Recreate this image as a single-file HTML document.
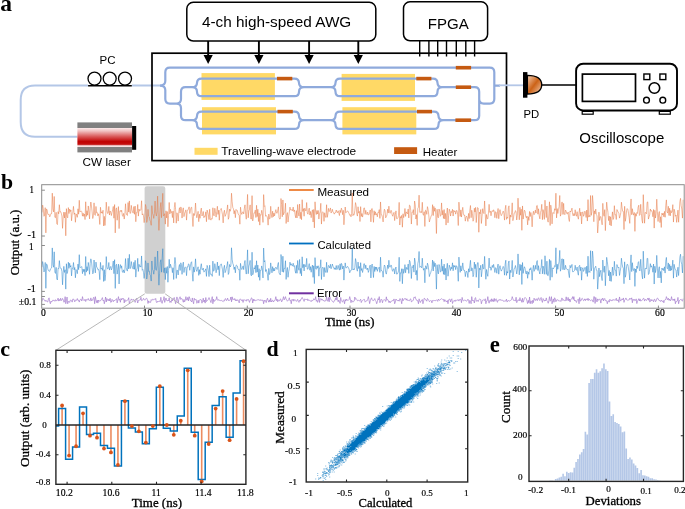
<!DOCTYPE html>
<html><head><meta charset="utf-8"><style>
html,body{margin:0;padding:0;background:#fff;}
svg{display:block;will-change:transform;}
</style></head><body>
<svg width="685" height="509" viewBox="0 0 685 509">
<rect width="685" height="509" fill="#fff"/>
<text x="0.3" y="10.8" font-family='"Liberation Serif", serif' font-size="23.5" font-weight="bold" text-anchor="start" fill="#000">a</text>
<path d="M77.4 136.8 H35 Q20.7 136.8 20.7 122 V100 Q20.7 85.6 35 85.6 H88 M132 85.6 H162" fill="none" stroke="#B4C7E7" stroke-width="2"/>
<text x="99.5" y="63.5" font-family='"Liberation Sans", sans-serif' font-size="11.3" font-weight="normal" text-anchor="start" fill="#000" textLength="16.0" lengthAdjust="spacingAndGlyphs">PC</text>
<circle cx="94.5" cy="78.6" r="6.5" fill="none" stroke="#000" stroke-width="1.3"/>
<circle cx="109.7" cy="78.6" r="6.5" fill="none" stroke="#000" stroke-width="1.3"/>
<circle cx="125.0" cy="78.6" r="6.5" fill="none" stroke="#000" stroke-width="1.3"/>
<line x1="88.1" y1="85.7" x2="131.8" y2="85.7" stroke="#000" stroke-width="1.4"/>
<defs><linearGradient id="lg" x1="0" y1="0" x2="0" y2="1"><stop offset="0" stop-color="#FBEAEA"/><stop offset="0.15" stop-color="#F2C4C4"/><stop offset="0.45" stop-color="#D95858"/><stop offset="0.72" stop-color="#C00000"/><stop offset="0.86" stop-color="#C41010"/><stop offset="0.93" stop-color="#F0D0D0"/><stop offset="1" stop-color="#FBEFEF"/></linearGradient><linearGradient id="pdg" x1="0" y1="0" x2="1" y2="1"><stop offset="0" stop-color="#F6D2B8"/><stop offset="0.5" stop-color="#CC6216"/><stop offset="1" stop-color="#F6D2B8"/></linearGradient></defs>
<rect x="77.4" y="122.4" width="54.6" height="5.6" fill="#808080"/>
<rect x="77.4" y="128" width="54.6" height="19" fill="url(#lg)"/>
<rect x="77.4" y="147" width="54.6" height="5.4" fill="#808080"/>
<rect x="132.1" y="126" width="4.1" height="23.8" fill="#000"/>
<text x="82.6" y="165.9" font-family='"Liberation Sans", sans-serif' font-size="11.7" font-weight="normal" text-anchor="start" fill="#000" textLength="48.2" lengthAdjust="spacingAndGlyphs">CW laser</text>
<rect x="186.8" y="2.3" width="189" height="38.7" rx="6.5" fill="#fff" stroke="#000" stroke-width="1.5"/>
<text x="201.9" y="26.9" font-family='"Liberation Sans", sans-serif' font-size="15.3" font-weight="normal" text-anchor="start" fill="#000" textLength="149.4" lengthAdjust="spacingAndGlyphs">4-ch high-speed AWG</text>
<line x1="208.15" y1="41" x2="208.15" y2="56" stroke="#000" stroke-width="1.9"/>
<path d="M203.55 54.9 L212.75 54.9 L208.15 64.1 Z" fill="#000"/>
<line x1="258.9" y1="41" x2="258.9" y2="56" stroke="#000" stroke-width="1.9"/>
<path d="M254.29999999999998 54.9 L263.5 54.9 L258.9 64.1 Z" fill="#000"/>
<line x1="309.1" y1="41" x2="309.1" y2="56" stroke="#000" stroke-width="1.9"/>
<path d="M304.5 54.9 L313.70000000000005 54.9 L309.1 64.1 Z" fill="#000"/>
<line x1="358.3" y1="41" x2="358.3" y2="56" stroke="#000" stroke-width="1.9"/>
<path d="M353.7 54.9 L362.90000000000003 54.9 L358.3 64.1 Z" fill="#000"/>
<rect x="403.5" y="1.8" width="84.1" height="39.0" rx="6.5" fill="#fff" stroke="#000" stroke-width="1.5"/>
<text x="427.7" y="28.9" font-family='"Liberation Sans", sans-serif' font-size="15.0" font-weight="normal" text-anchor="start" fill="#000" textLength="41" lengthAdjust="spacingAndGlyphs">FPGA</text>
<line x1="419.7" y1="40.5" x2="419.7" y2="56.5" stroke="#000" stroke-width="1.4"/>
<line x1="428.9" y1="40.5" x2="428.9" y2="56.5" stroke="#000" stroke-width="1.4"/>
<line x1="437.7" y1="40.5" x2="437.7" y2="56.5" stroke="#000" stroke-width="1.4"/>
<line x1="446.5" y1="40.5" x2="446.5" y2="56.5" stroke="#000" stroke-width="1.4"/>
<line x1="456.3" y1="40.5" x2="456.3" y2="56.5" stroke="#000" stroke-width="1.4"/>
<line x1="465.8" y1="40.5" x2="465.8" y2="56.5" stroke="#000" stroke-width="1.4"/>
<line x1="474.6" y1="40.5" x2="474.6" y2="56.5" stroke="#000" stroke-width="1.4"/>
<rect x="152" y="53.2" width="354.5" height="107.4" fill="none" stroke="#000" stroke-width="1.7"/>
<rect x="201.5" y="73.1" width="73.4" height="26.8" fill="#FFD966"/>
<rect x="202.0" y="107.2" width="74.0" height="27.2" fill="#FFD966"/>
<rect x="341.6" y="73.9" width="73.4" height="27.0" fill="#FFD966"/>
<rect x="342.4" y="107.2" width="73.9" height="27.2" fill="#FFD966"/>
<path d="M160 85.6 Q165.3 85.6 165.3 81.1 V72.2 Q165.3 67.7 169.8 67.7 H489.8 Q494.3 67.7 494.3 72.2 V99.1 Q494.3 103.6 489.8 103.6 H483.7 Q479.2 103.6 479.2 99.1 M160 85.6 Q165.3 85.6 165.3 90.1 V99.1 Q165.3 103.6 169.8 103.6 H176.5 Q181.0 103.6 181.0 99.1 V91.7 Q181.0 87.2 185.5 87.2 H192 M176.5 103.6 Q181.0 103.6 181.0 108.1 V115.7 Q181.0 120.2 185.5 120.2 H192 M192.0 87.2 Q197.0 87.2 197.0 82.7 V83.1 Q197.0 78.6 201.5 78.6 H294.5 Q299.0 78.6 299.0 83.1 V82.7 Q299.0 87.2 304.0 87.2 M192.0 87.2 Q197.0 87.2 197.0 91.7 V91.7 Q197.0 96.2 201.5 96.2 H294.5 Q299.0 96.2 299.0 91.7 V91.7 Q299.0 87.2 304.0 87.2 M192.0 120.2 Q197.0 120.2 197.0 115.7 V116.1 Q197.0 111.6 201.5 111.6 H294.5 Q299.0 111.6 299.0 116.1 V115.7 Q299.0 120.2 304.0 120.2 M192.0 120.2 Q197.0 120.2 197.0 124.7 V124.4 Q197.0 128.9 201.5 128.9 H294.5 Q299.0 128.9 299.0 124.4 V124.7 Q299.0 120.2 304.0 120.2 M304 87.2 H330.5 M304 120.2 H330.5 M330.5 87.2 Q335.5 87.2 335.5 82.7 V83.1 Q335.5 78.6 340.0 78.6 H433.0 Q437.5 78.6 437.5 83.1 V82.7 Q437.5 87.2 442.5 87.2 M330.5 87.2 Q335.5 87.2 335.5 91.7 V91.7 Q335.5 96.2 340.0 96.2 H433.0 Q437.5 96.2 437.5 91.7 V91.7 Q437.5 87.2 442.5 87.2 M330.5 120.2 Q335.5 120.2 335.5 115.7 V116.1 Q335.5 111.6 340.0 111.6 H434.0 Q438.5 111.6 438.5 116.1 V115.7 Q438.5 120.2 443.5 120.2 M330.5 120.2 Q335.5 120.2 335.5 124.7 V124.4 Q335.5 128.9 340.0 128.9 H434.0 Q438.5 128.9 438.5 124.4 V124.7 Q438.5 120.2 443.5 120.2 M442 87.2 H474.7 Q479.2 87.2 479.2 91.7 V115.7 Q479.2 120.2 474.7 120.2 H443 M494.3 85.6 H500" fill="none" stroke="#8FAADC" stroke-width="2.2" stroke-linejoin="round"/>
<line x1="499" y1="85.3" x2="523.5" y2="85.3" stroke="#B4C7E7" stroke-width="1.8"/>
<rect x="277.0" y="76.8" width="15.300000000000011" height="3.6" fill="#C55A11"/>
<rect x="277.5" y="109.8" width="15.300000000000011" height="3.6" fill="#C55A11"/>
<rect x="416.3" y="76.8" width="15.099999999999966" height="3.6" fill="#C55A11"/>
<rect x="417.0" y="109.8" width="15.0" height="3.6" fill="#C55A11"/>
<rect x="455.8" y="65.9" width="15.300000000000011" height="3.6" fill="#C55A11"/>
<rect x="455.8" y="85.4" width="15.300000000000011" height="3.6" fill="#C55A11"/>
<rect x="455.4" y="118.4" width="15.700000000000045" height="3.6" fill="#C55A11"/>
<rect x="194.5" y="147.8" width="23.1" height="7" fill="#FFD966"/>
<text x="221.3" y="155.3" font-family='"Liberation Sans", sans-serif' font-size="11.6" font-weight="normal" text-anchor="start" fill="#000" textLength="134.9" lengthAdjust="spacingAndGlyphs">Travelling-wave electrode</text>
<rect x="394.1" y="147.2" width="23" height="6.8" fill="#C55A11"/>
<text x="422.7" y="155.7" font-family='"Liberation Sans", sans-serif' font-size="11.5" font-weight="normal" text-anchor="start" fill="#000" textLength="34.6" lengthAdjust="spacingAndGlyphs">Heater</text>
<rect x="523" y="72.1" width="4.4" height="25.6" fill="#000"/>
<path d="M527.4 75.3 Q541.7 75.3 541.7 84.8 Q541.7 94.0 527.4 94.0 Z" fill="url(#pdg)" stroke="#000" stroke-width="1.3"/>
<line x1="541.6" y1="85.1" x2="576" y2="85.1" stroke="#000" stroke-width="1.5"/>
<text x="523.4" y="117.8" font-family='"Liberation Sans", sans-serif' font-size="11.3" font-weight="normal" text-anchor="start" fill="#000" textLength="15.7" lengthAdjust="spacingAndGlyphs">PD</text>
<rect x="576.1" y="63.7" width="100.9" height="46.8" rx="7" fill="#fff" stroke="#000" stroke-width="1.9"/>
<rect x="582.4" y="74.1" width="53.1" height="27.3" fill="none" stroke="#000" stroke-width="1.7"/>
<rect x="643.9" y="74.0" width="5.9" height="5.6" fill="none" stroke="#000" stroke-width="1.4"/>
<rect x="659.9" y="74.0" width="5.9" height="5.6" fill="none" stroke="#000" stroke-width="1.4"/>
<circle cx="654.4" cy="88" r="5.3" fill="none" stroke="#000" stroke-width="1.6"/>
<circle cx="646.5" cy="100.2" r="2.9" fill="none" stroke="#000" stroke-width="1.4"/>
<circle cx="662.8" cy="100.2" r="2.9" fill="none" stroke="#000" stroke-width="1.4"/>
<rect x="582.2" y="111.4" width="11" height="2.8" fill="none" stroke="#000" stroke-width="1.2"/>
<rect x="659.3" y="111.4" width="11" height="2.8" fill="none" stroke="#000" stroke-width="1.2"/>
<text x="579.3" y="142.7" font-family='"Liberation Sans", sans-serif' font-size="15.0" font-weight="normal" text-anchor="start" fill="#000" textLength="85" lengthAdjust="spacingAndGlyphs">Oscilloscope</text>
<rect x="144.6" y="186.2" width="20.7" height="107.6" rx="2.2" fill="#D0D0D0"/>
<polyline points="42.01,212.41 42.65,205.10 43.29,208.46 43.94,216.28 44.58,215.20 45.22,207.67 45.86,232.87 46.50,208.90 47.15,210.07 47.79,214.29 48.43,214.51 49.07,214.19 49.72,216.87 50.36,215.58 51.00,213.43 51.64,213.47 52.29,193.13 52.93,209.02 53.57,211.90 54.21,196.45 54.86,217.34 55.50,217.68 56.14,212.29 56.78,223.79 57.43,224.59 58.07,211.65 58.71,213.83 59.35,204.72 59.99,212.05 60.64,211.73 61.28,213.20 61.92,216.07 62.56,228.34 63.21,216.86 63.85,212.11 64.49,217.94 65.13,212.25 65.78,235.77 66.42,208.66 67.06,216.29 67.70,217.80 68.35,207.58 68.99,213.54 69.63,209.11 70.27,211.61 70.92,209.96 71.56,220.75 72.20,213.75 72.84,212.22 73.48,206.38 74.13,214.32 74.77,212.99 75.41,222.26 76.05,213.89 76.70,215.02 77.34,217.30 77.98,208.81 78.62,214.19 79.27,200.29 79.91,212.03 80.55,211.41 81.19,211.13 81.84,211.59 82.48,216.17 83.12,213.13 83.76,216.34 84.41,214.09 85.05,219.58 85.69,201.78 86.33,216.45 86.97,210.74 87.62,215.20 88.26,205.96 88.90,211.33 89.54,218.89 90.19,208.29 90.83,202.02 91.47,206.13 92.11,211.98 92.76,218.54 93.40,215.67 94.04,202.87 94.68,214.59 95.33,215.38 95.97,206.44 96.61,212.95 97.25,212.35 97.89,215.94 98.54,213.78 99.18,216.95 99.82,224.48 100.46,207.26 101.11,213.12 101.75,211.80 102.39,213.40 103.03,210.26 103.68,225.95 104.32,216.36 104.96,225.46 105.60,217.26 106.25,202.16 106.89,210.35 107.53,213.41 108.17,213.18 108.82,206.42 109.46,215.03 110.10,210.98 110.74,212.32 111.38,215.55 112.03,212.32 112.67,209.77 113.31,206.44 113.95,218.21 114.60,204.57 115.24,232.89 115.88,209.43 116.52,207.84 117.17,220.24 117.81,213.62 118.45,206.58 119.09,228.60 119.74,211.13 120.38,210.35 121.02,211.87 121.66,210.24 122.31,215.36 122.95,216.41 123.59,213.41 124.23,219.07 124.87,214.19 125.52,203.78 126.16,212.77 126.80,215.00 127.44,215.52 128.09,202.54 128.73,212.05 129.37,200.92 130.01,213.56 130.66,213.05 131.30,205.37 131.94,210.02 132.58,212.21 133.23,213.15 133.87,206.56 134.51,214.25 135.15,206.12 135.80,221.73 136.44,212.61 137.08,212.67 137.72,204.50 138.36,216.11 139.01,209.05 139.65,210.97 140.29,210.37 140.93,209.97 141.58,200.76 142.22,214.93 142.86,213.80 143.50,215.85 144.15,222.61 144.79,216.78 145.43,204.50 146.07,206.95 146.72,222.43 147.36,219.56 148.00,209.39 148.64,216.29 149.28,216.91 149.93,220.27 150.57,221.46 151.21,225.31 151.85,205.64 152.50,213.34 153.14,214.96 153.78,218.41 154.42,213.34 155.07,201.04 155.71,213.00 156.35,216.04 156.99,211.69 157.64,196.14 158.28,216.29 158.92,230.39 159.56,218.87 160.21,207.94 160.85,202.53 161.49,217.69 162.13,204.95 162.77,193.34 163.42,216.07 164.06,215.22 164.70,213.66 165.34,224.13 165.99,210.83 166.63,217.98 167.27,211.56 167.91,226.75 168.56,215.41 169.20,202.44 169.84,213.96 170.48,209.39 171.13,212.65 171.77,211.50 172.41,217.59 173.05,211.11 173.70,222.93 174.34,207.44 174.98,202.45 175.62,209.69 176.26,223.19 176.91,212.79 177.55,214.43 178.19,221.07 178.83,211.34 179.48,207.73 180.12,213.02 180.76,206.93 181.40,208.11 182.05,218.07 182.69,209.91 183.33,207.86 183.97,216.62 184.62,213.26 185.26,211.77 185.90,209.85 186.54,220.11 187.19,211.27 187.83,210.00 188.47,208.86 189.11,206.85 189.75,213.58 190.40,210.67 191.04,207.52 191.68,207.28 192.32,216.63 192.97,226.53 193.61,213.50 194.25,215.58 194.89,212.24 195.54,203.06 196.18,213.74 196.82,217.79 197.46,214.64 198.11,211.35 198.75,221.68 199.39,214.19 200.03,218.29 200.67,211.00 201.32,208.08 201.96,215.99 202.60,214.85 203.24,211.47 203.89,217.72 204.53,216.02 205.17,216.51 205.81,211.84 206.46,221.71 207.10,210.07 207.74,212.18 208.38,214.81 209.03,219.61 209.67,209.26 210.31,219.12 210.95,220.17 211.60,218.47 212.24,218.87 212.88,207.75 213.52,215.12 214.16,215.91 214.81,208.27 215.45,211.77 216.09,217.10 216.73,211.54 217.38,206.27 218.02,214.43 218.66,210.19 219.30,220.23 219.95,210.49 220.59,209.71 221.23,208.40 221.87,211.55 222.52,214.84 223.16,222.86 223.80,212.93 224.44,210.23 225.09,216.38 225.73,214.88 226.37,212.95 227.01,209.80 227.65,204.91 228.30,219.28 228.94,217.28 229.58,209.09 230.22,211.25 230.87,208.60 231.51,193.24 232.15,201.83 232.79,207.64 233.44,208.81 234.08,213.80 234.72,210.56 235.36,217.67 236.01,209.41 236.65,210.30 237.29,210.43 237.93,213.18 238.58,214.89 239.22,215.31 239.86,224.19 240.50,207.19 241.14,212.32 241.79,214.44 242.43,212.28 243.07,211.75 243.71,213.89 244.36,208.15 245.00,204.82 245.64,214.20 246.28,219.22 246.93,209.34 247.57,194.43 248.21,217.82 248.85,210.81 249.50,209.68 250.14,204.89 250.78,218.91 251.42,219.04 252.06,195.65 252.71,220.95 253.35,216.97 253.99,212.77 254.63,213.13 255.28,210.17 255.92,217.54 256.56,205.30 257.20,216.60 257.85,209.26 258.49,221.51 259.13,212.91 259.77,225.13 260.42,214.71 261.06,215.33 261.70,210.29 262.34,213.47 262.99,222.41 263.63,194.62 264.27,206.44 264.91,205.79 265.55,216.28 266.20,215.45 266.84,216.17 267.48,217.92 268.12,225.13 268.77,214.12 269.41,218.92 270.05,218.56 270.69,206.30 271.34,214.18 271.98,217.61 272.62,211.19 273.26,216.82 273.91,213.09 274.55,215.93 275.19,212.45 275.83,209.63 276.48,212.91 277.12,213.38 277.76,210.13 278.40,206.87 279.04,217.59 279.69,219.09 280.33,218.73 280.97,198.52 281.61,204.59 282.26,216.78 282.90,199.97 283.54,214.77 284.18,212.76 284.83,212.02 285.47,203.19 286.11,223.50 286.75,214.76 287.40,212.63 288.04,222.04 288.68,216.06 289.32,211.91 289.97,207.10 290.61,209.95 291.25,210.38 291.89,209.41 292.53,210.74 293.18,207.08 293.82,211.59 294.46,209.93 295.10,214.90 295.75,217.83 296.39,210.57 297.03,217.98 297.67,204.53 298.32,212.78 298.96,216.09 299.60,204.03 300.24,218.67 300.89,212.20 301.53,219.68 302.17,199.70 302.81,211.45 303.45,208.66 304.10,216.23 304.74,208.19 305.38,210.28 306.02,211.02 306.67,202.52 307.31,212.83 307.95,214.19 308.59,210.57 309.24,208.13 309.88,215.04 310.52,211.50 311.16,217.67 311.81,212.54 312.45,209.85 313.09,222.02 313.73,209.45 314.38,227.87 315.02,201.81 315.66,211.21 316.30,214.49 316.94,210.45 317.59,214.03 318.23,210.47 318.87,219.06 319.51,213.71 320.16,211.93 320.80,203.31 321.44,224.07 322.08,212.77 322.73,211.76 323.37,212.79 324.01,221.33 324.65,212.79 325.30,216.90 325.94,217.47 326.58,204.74 327.22,217.35 327.87,213.99 328.51,208.41 329.15,211.60 329.79,210.53 330.43,207.94 331.08,213.05 331.72,211.91 332.36,209.25 333.00,212.22 333.65,212.70 334.29,214.17 334.93,212.61 335.57,212.63 336.22,210.01 336.86,212.12 337.50,212.87 338.14,210.78 338.79,212.88 339.43,215.55 340.07,210.24 340.71,212.58 341.36,208.18 342.00,210.02 342.64,214.66 343.28,210.31 343.92,224.76 344.57,216.16 345.21,207.01 345.85,212.73 346.49,211.86 347.14,211.27 347.78,211.03 348.42,212.27 349.06,213.44 349.71,215.31 350.35,214.67 350.99,216.79 351.63,213.66 352.28,192.86 352.92,215.69 353.56,214.18 354.20,214.81 354.84,210.37 355.49,202.62 356.13,205.52 356.77,213.86 357.41,216.08 358.06,206.78 358.70,213.15 359.34,211.37 359.98,221.52 360.63,206.65 361.27,216.44 361.91,213.48 362.55,217.08 363.20,213.44 363.84,208.08 364.48,207.91 365.12,214.38 365.77,210.39 366.41,213.74 367.05,214.70 367.69,212.05 368.33,214.90 368.98,214.66 369.62,212.67 370.26,209.98 370.90,221.83 371.55,208.87 372.19,208.44 372.83,213.77 373.47,222.34 374.12,210.78 374.76,215.14 375.40,211.81 376.04,214.95 376.69,213.67 377.33,216.84 377.97,212.32 378.61,212.57 379.26,209.60 379.90,218.39 380.54,201.96 381.18,214.73 381.82,214.86 382.47,217.40 383.11,221.91 383.75,213.49 384.39,209.23 385.04,210.70 385.68,217.82 386.32,216.68 386.96,214.98 387.61,209.22 388.25,213.05 388.89,206.16 389.53,211.91 390.18,213.31 390.82,210.36 391.46,210.64 392.10,214.77 392.75,216.23 393.39,213.82 394.03,212.36 394.67,220.58 395.31,214.71 395.96,210.86 396.60,218.65 397.24,218.72 397.88,218.08 398.53,215.42 399.17,202.37 399.81,225.03 400.45,216.61 401.10,218.17 401.74,215.30 402.38,227.20 403.02,213.76 403.67,217.62 404.31,214.77 404.95,208.49 405.59,216.42 406.23,211.85 406.88,213.06 407.52,213.85 408.16,209.08 408.80,217.98 409.45,205.07 410.09,205.68 410.73,210.40 411.37,224.04 412.02,212.09 412.66,212.22 413.30,209.62 413.94,214.92 414.59,201.05 415.23,204.53 415.87,218.99 416.51,214.69 417.16,225.40 417.80,208.48 418.44,207.32 419.08,195.18 419.72,212.33 420.37,212.59 421.01,211.41 421.65,212.66 422.29,202.28 422.94,214.01 423.58,215.31 424.22,211.73 424.86,226.46 425.51,210.18 426.15,210.76 426.79,214.35 427.43,206.67 428.08,209.33 428.72,214.71 429.36,221.98 430.00,219.43 430.65,217.57 431.29,215.48 431.93,215.03 432.57,204.68 433.21,215.64 433.86,206.44 434.50,211.24 435.14,207.94 435.78,214.15 436.43,233.50 437.07,209.28 437.71,216.79 438.35,217.83 439.00,208.99 439.64,211.03 440.28,216.33 440.92,215.22 441.57,202.91 442.21,215.00 442.85,210.43 443.49,218.47 444.14,209.51 444.78,218.95 445.42,213.35 446.06,225.08 446.70,213.59 447.35,208.01 447.99,222.84 448.63,215.35 449.27,209.20 449.92,211.35 450.56,216.05 451.20,211.45 451.84,212.58 452.49,209.30 453.13,216.04 453.77,210.29 454.41,211.67 455.06,210.92 455.70,214.16 456.34,210.66 456.98,210.52 457.62,214.07 458.27,225.50 458.91,202.15 459.55,210.17 460.19,216.44 460.84,209.86 461.48,217.02 462.12,211.64 462.76,207.32 463.41,213.93 464.05,215.51 464.69,215.13 465.33,221.15 465.98,217.11 466.62,216.14 467.26,217.87 467.90,221.44 468.55,213.41 469.19,218.59 469.83,210.24 470.47,205.52 471.11,217.71 471.76,210.25 472.40,213.33 473.04,221.23 473.68,219.31 474.33,208.23 474.97,212.04 475.61,207.38 476.25,222.54 476.90,212.21 477.54,207.48 478.18,208.02 478.82,232.25 479.47,212.19 480.11,213.79 480.75,209.47 481.39,223.47 482.04,216.35 482.68,208.69 483.32,212.89 483.96,213.62 484.60,200.99 485.25,214.11 485.89,225.92 486.53,214.52 487.17,218.57 487.82,218.84 488.46,212.94 489.10,204.35 489.74,212.38 490.39,211.22 491.03,215.77 491.67,211.49 492.31,210.62 492.96,211.75 493.60,209.77 494.24,211.47 494.88,217.71 495.53,211.75 496.17,212.25 496.81,218.32 497.45,213.05 498.09,208.47 498.74,218.72 499.38,212.62 500.02,209.64 500.66,214.00 501.31,215.70 501.95,214.31 502.59,212.69 503.23,211.11 503.88,213.28 504.52,220.12 505.16,209.05 505.80,205.29 506.45,219.36 507.09,217.13 507.73,218.28 508.37,207.72 509.01,205.84 509.66,224.13 510.30,215.00 510.94,217.17 511.58,212.96 512.23,202.83 512.87,220.68 513.51,217.79 514.15,213.19 514.80,212.92 515.44,210.59 516.08,211.86 516.72,219.99 517.37,215.17 518.01,198.16 518.65,209.81 519.29,219.80 519.94,207.29 520.58,215.22 521.22,209.23 521.86,230.30 522.50,205.95 523.15,219.08 523.79,213.58 524.43,210.21 525.07,211.31 525.72,216.62 526.36,217.81 527.00,216.02 527.64,224.88 528.29,216.73 528.93,220.41 529.57,211.45 530.21,216.55 530.86,212.48 531.50,216.18 532.14,226.83 532.78,214.80 533.43,211.27 534.07,214.74 534.71,213.58 535.35,210.10 535.99,213.06 536.64,205.83 537.28,205.41 537.92,214.21 538.56,208.77 539.21,215.77 539.85,218.84 540.49,212.39 541.13,210.40 541.78,204.31 542.42,219.68 543.06,209.60 543.70,212.93 544.35,219.39 544.99,200.19 545.63,211.19 546.27,217.58 546.92,205.99 547.56,220.59 548.20,222.17 548.84,215.07 549.48,201.81 550.13,225.48 550.77,205.15 551.41,209.83 552.05,223.85 552.70,212.74 553.34,212.62 553.98,213.62 554.62,208.76 555.27,210.25 555.91,193.22 556.55,217.92 557.19,208.62 557.84,213.49 558.48,209.71 559.12,206.51 559.76,195.47 560.40,216.15 561.05,214.20 561.69,202.31 562.33,202.20 562.97,214.52 563.62,203.36 564.26,213.93 564.90,214.68 565.54,210.12 566.19,211.30 566.83,213.76 567.47,214.00 568.11,212.00 568.76,218.95 569.40,221.48 570.04,210.99 570.68,211.93 571.33,210.46 571.97,208.12 572.61,214.32 573.25,215.92 573.89,213.50 574.54,215.61 575.18,209.75 575.82,214.89 576.46,216.22 577.11,211.70 577.75,216.88 578.39,219.16 579.03,212.88 579.68,208.27 580.32,215.80 580.96,212.01 581.60,223.93 582.25,212.79 582.89,211.79 583.53,216.27 584.17,214.64 584.82,211.11 585.46,212.38 586.10,217.45 586.74,210.06 587.38,221.05 588.03,199.59 588.67,217.15 589.31,215.46 589.95,216.76 590.60,195.50 591.24,215.38 591.88,211.79 592.52,195.56 593.17,204.04 593.81,221.72 594.45,210.82 595.09,213.92 595.74,209.12 596.38,214.69 597.02,215.86 597.66,232.95 598.31,224.70 598.95,212.13 599.59,220.46 600.23,216.89 600.87,216.47 601.52,220.80 602.16,224.81 602.80,203.33 603.44,214.06 604.09,216.28 604.73,209.63 605.37,230.60 606.01,216.26 606.66,202.18 607.30,208.14 607.94,212.18 608.58,220.64 609.23,216.10 609.87,225.05 610.51,216.72 611.15,225.91 611.79,219.43 612.44,211.89 613.08,219.49 613.72,218.14 614.36,205.68 615.01,214.87 615.65,214.69 616.29,219.50 616.93,209.54 617.58,211.07 618.22,212.22 618.86,213.11 619.50,218.12 620.15,215.85 620.79,212.72 621.43,202.20 622.07,207.87 622.72,211.33 623.36,211.52 624.00,229.56 624.64,206.31 625.28,221.30 625.93,217.60 626.57,210.62 627.21,208.55 627.85,209.47 628.50,213.32 629.14,217.45 629.78,223.36 630.42,206.92 631.07,198.94 631.71,214.75 632.35,208.73 632.99,213.38 633.64,215.13 634.28,212.44 634.92,231.37 635.56,213.58 636.21,216.24 636.85,212.54 637.49,213.38 638.13,207.17 638.77,205.22 639.42,215.45 640.06,214.76 640.70,204.32 641.34,213.33 641.99,220.10 642.63,223.17 643.27,194.66 643.91,211.20 644.56,223.20 645.20,212.40 645.84,212.73 646.48,213.79 647.13,202.23 647.77,201.88 648.41,219.09 649.05,216.90 649.70,214.90 650.34,208.99 650.98,211.20 651.62,210.67 652.26,212.14 652.91,216.79 653.55,209.50 654.19,228.10 654.83,210.30 655.48,218.04 656.12,213.74 656.76,199.21 657.40,211.36 658.05,221.50 658.69,213.67 659.33,211.54 659.97,222.60 660.62,216.75 661.26,227.45 661.90,213.20 662.54,215.01 663.18,213.17 663.83,216.81 664.47,211.40 665.11,217.27 665.75,205.40 666.40,199.88 667.04,211.97 667.68,213.08 668.32,206.28 668.97,215.47 669.61,208.26 670.25,215.84 670.89,210.43 671.54,212.69 672.18,211.83 672.82,204.65 673.46,222.07 674.11,209.18 674.75,211.82 675.39,216.28 676.03,215.10 676.67,222.39 677.32,216.37 677.96,210.13 678.60,222.21 679.24,211.57 679.89,201.59 680.53,198.38 681.17,205.83 681.81,209.04 682.46,218.12 683.10,199.78" fill="none" stroke="#E67844" stroke-width="0.55" stroke-opacity="0.95" stroke-linejoin="round"/>
<polyline points="42.01,267.19 42.65,261.55 43.29,264.95 43.94,271.93 44.58,270.68 45.22,262.46 45.86,288.31 46.50,263.97 47.15,264.52 47.79,268.74 48.43,270.63 49.07,271.00 49.72,271.39 50.36,268.96 51.00,268.41 51.64,267.96 52.29,247.91 52.93,264.61 53.57,267.23 54.21,251.82 54.86,272.12 55.50,273.41 56.14,267.34 56.78,279.05 57.43,279.96 58.07,268.32 58.71,268.76 59.35,260.61 59.99,267.15 60.64,268.33 61.28,268.48 61.92,271.52 62.56,284.79 63.21,272.61 63.85,266.34 64.49,272.43 65.13,269.77 65.78,289.11 66.42,263.74 67.06,273.57 67.70,271.18 68.35,262.21 68.99,268.36 69.63,263.28 70.27,267.02 70.92,265.57 71.56,275.86 72.20,268.08 72.84,268.38 73.48,262.53 74.13,269.87 74.77,267.50 75.41,277.75 76.05,269.56 76.70,270.35 77.34,273.69 77.98,264.08 78.62,269.65 79.27,254.68 79.91,267.58 80.55,267.42 81.19,267.04 81.84,266.55 82.48,273.68 83.12,269.00 83.76,271.66 84.41,269.40 85.05,275.61 85.69,256.49 86.33,272.13 86.97,266.61 87.62,270.67 88.26,262.44 88.90,266.74 89.54,274.27 90.19,263.34 90.83,258.83 91.47,261.26 92.11,267.80 92.76,273.83 93.40,272.61 94.04,260.01 94.68,267.97 95.33,272.89 95.97,262.08 96.61,267.00 97.25,267.80 97.89,269.69 98.54,269.31 99.18,271.66 99.82,279.68 100.46,262.36 101.11,268.74 101.75,268.01 102.39,270.37 103.03,265.40 103.68,281.48 104.32,269.74 104.96,280.67 105.60,274.57 106.25,256.58 106.89,266.80 107.53,269.13 108.17,268.24 108.82,262.48 109.46,270.08 110.10,267.58 110.74,266.45 111.38,269.94 112.03,268.28 112.67,265.15 113.31,261.01 113.95,273.67 114.60,259.66 115.24,288.38 115.88,265.38 116.52,264.22 117.17,274.10 117.81,269.22 118.45,264.11 119.09,283.96 119.74,267.16 120.38,264.60 121.02,268.34 121.66,265.83 122.31,271.90 122.95,272.48 123.59,269.84 124.23,272.92 124.87,270.05 125.52,258.57 126.16,267.76 126.80,270.13 127.44,271.11 128.09,258.23 128.73,268.96 129.37,254.33 130.01,268.31 130.66,268.26 131.30,261.58 131.94,265.55 132.58,267.68 133.23,269.14 133.87,262.29 134.51,269.30 135.15,260.31 135.80,277.10 136.44,269.11 137.08,268.28 137.72,258.33 138.36,271.46 139.01,264.32 139.65,266.55 140.29,265.97 140.93,267.14 141.58,255.95 142.22,270.23 142.86,269.44 143.50,272.38 144.15,278.43 144.79,272.17 145.43,260.70 146.07,263.40 146.72,279.01 147.36,275.24 148.00,262.94 148.64,271.36 149.28,271.02 149.93,274.78 150.57,275.56 151.21,281.07 151.85,260.99 152.50,269.37 153.14,270.63 153.78,274.19 154.42,269.60 155.07,256.86 155.71,269.48 156.35,270.33 156.99,265.70 157.64,251.01 158.28,270.68 158.92,285.20 159.56,273.73 160.21,262.48 160.85,259.73 161.49,272.19 162.13,258.58 162.77,248.71 163.42,271.50 164.06,272.73 164.70,267.82 165.34,279.58 165.99,267.58 166.63,273.26 167.27,266.53 167.91,282.26 168.56,270.53 169.20,259.32 169.84,268.10 170.48,264.19 171.13,266.79 171.77,267.36 172.41,272.64 173.05,267.75 173.70,279.50 174.34,264.42 174.98,257.43 175.62,263.08 176.26,278.43 176.91,270.15 177.55,270.42 178.19,274.95 178.83,267.18 179.48,264.51 180.12,270.48 180.76,262.81 181.40,264.52 182.05,274.35 182.69,265.12 183.33,262.13 183.97,272.51 184.62,267.76 185.26,267.03 185.90,267.37 186.54,275.63 187.19,266.75 187.83,267.11 188.47,263.90 189.11,264.38 189.75,270.30 190.40,265.89 191.04,262.67 191.68,261.73 192.32,273.38 192.97,281.23 193.61,266.88 194.25,272.14 194.89,267.86 195.54,258.84 196.18,269.65 196.82,271.42 197.46,268.85 198.11,266.80 198.75,275.42 199.39,269.64 200.03,274.20 200.67,266.74 201.32,263.73 201.96,269.68 202.60,269.74 203.24,268.09 203.89,272.13 204.53,271.52 205.17,270.26 205.81,268.84 206.46,276.36 207.10,265.38 207.74,267.70 208.38,270.68 209.03,276.58 209.67,265.19 210.31,274.29 210.95,274.22 211.60,274.30 212.24,276.37 212.88,261.14 213.52,271.15 214.16,270.59 214.81,263.67 215.45,267.25 216.09,272.74 216.73,269.06 217.38,262.08 218.02,269.70 218.66,266.06 219.30,275.61 219.95,265.81 220.59,264.94 221.23,263.85 221.87,266.58 222.52,269.75 223.16,277.40 223.80,268.28 224.44,265.30 225.09,272.65 225.73,271.20 226.37,268.12 227.01,265.46 227.65,261.58 228.30,274.47 228.94,272.80 229.58,264.46 230.22,266.96 230.87,265.91 231.51,247.79 232.15,259.26 232.79,263.40 233.44,264.93 234.08,269.48 234.72,267.00 235.36,272.80 236.01,265.26 236.65,265.29 237.29,265.90 237.93,268.96 238.58,269.67 239.22,269.21 239.86,280.26 240.50,263.36 241.14,268.06 241.79,269.56 242.43,268.01 243.07,265.90 243.71,269.63 244.36,263.73 245.00,260.49 245.64,269.56 246.28,274.07 246.93,265.24 247.57,249.87 248.21,273.76 248.85,266.03 249.50,263.86 250.14,260.43 250.78,274.55 251.42,275.84 252.06,252.23 252.71,274.79 253.35,272.98 253.99,267.74 254.63,268.95 255.28,265.42 255.92,272.66 256.56,260.75 257.20,272.09 257.85,265.08 258.49,277.18 259.13,268.69 259.77,280.36 260.42,270.48 261.06,270.50 261.70,265.93 262.34,268.86 262.99,277.94 263.63,248.04 264.27,261.90 264.91,260.65 265.55,271.53 266.20,269.49 266.84,271.89 267.48,274.50 268.12,280.30 268.77,268.42 269.41,274.56 270.05,273.00 270.69,262.88 271.34,268.59 271.98,272.82 272.62,266.64 273.26,271.20 273.91,268.21 274.55,270.93 275.19,268.31 275.83,267.15 276.48,268.12 277.12,269.47 277.76,264.65 278.40,262.46 279.04,272.92 279.69,274.12 280.33,274.93 280.97,254.50 281.61,259.09 282.26,271.82 282.90,256.20 283.54,272.28 284.18,268.39 284.83,268.47 285.47,260.73 286.11,279.41 286.75,270.46 287.40,267.48 288.04,277.25 288.68,271.71 289.32,268.77 289.97,262.20 290.61,265.23 291.25,263.77 291.89,265.23 292.53,266.11 293.18,263.21 293.82,266.48 294.46,265.67 295.10,270.65 295.75,273.22 296.39,265.31 297.03,273.26 297.67,260.49 298.32,267.51 298.96,270.27 299.60,259.44 300.24,273.55 300.89,268.32 301.53,275.85 302.17,256.80 302.81,267.74 303.45,264.37 304.10,270.95 304.74,264.42 305.38,266.18 306.02,266.97 306.67,258.36 307.31,269.07 307.95,269.26 308.59,266.34 309.24,263.61 309.88,270.20 310.52,266.64 311.16,272.25 311.81,267.97 312.45,265.08 313.09,277.33 313.73,265.80 314.38,283.62 315.02,257.61 315.66,268.73 316.30,269.33 316.94,265.91 317.59,268.24 318.23,265.75 318.87,276.19 319.51,267.86 320.16,267.91 320.80,259.74 321.44,279.51 322.08,268.88 322.73,267.12 323.37,267.98 324.01,276.77 324.65,267.55 325.30,271.99 325.94,272.54 326.58,262.27 327.22,272.49 327.87,268.87 328.51,265.42 329.15,266.11 329.79,267.96 330.43,264.30 331.08,268.76 331.72,267.25 332.36,264.02 333.00,266.53 333.65,267.00 334.29,269.36 334.93,267.91 335.57,269.47 336.22,265.53 336.86,269.64 337.50,268.75 338.14,265.33 338.79,268.42 339.43,270.16 340.07,263.83 340.71,269.64 341.36,263.35 342.00,264.76 342.64,268.94 343.28,266.03 343.92,280.12 344.57,269.54 345.21,262.89 345.85,267.69 346.49,267.91 347.14,266.71 347.78,266.54 348.42,267.65 349.06,269.20 349.71,272.82 350.35,270.79 350.99,270.78 351.63,269.10 352.28,247.79 352.92,269.97 353.56,268.93 354.20,269.74 354.84,267.67 355.49,258.59 356.13,261.88 356.77,269.68 357.41,271.19 358.06,262.06 358.70,268.50 359.34,266.43 359.98,276.82 360.63,262.69 361.27,270.49 361.91,268.50 362.55,272.49 363.20,269.21 363.84,263.80 364.48,263.81 365.12,268.69 365.77,265.10 366.41,268.83 367.05,269.72 367.69,268.03 368.33,272.42 368.98,270.44 369.62,266.13 370.26,265.05 370.90,277.94 371.55,265.72 372.19,264.06 372.83,268.96 373.47,277.52 374.12,266.46 374.76,271.54 375.40,266.98 376.04,269.69 376.69,267.05 377.33,271.33 377.97,268.66 378.61,268.23 379.26,267.13 379.90,272.38 380.54,257.21 381.18,270.84 381.82,270.59 382.47,271.36 383.11,277.18 383.75,269.18 384.39,265.03 385.04,266.08 385.68,272.54 386.32,274.10 386.96,270.38 387.61,265.10 388.25,268.56 388.89,260.28 389.53,266.81 390.18,267.24 390.82,265.11 391.46,265.42 392.10,270.08 392.75,271.35 393.39,269.03 394.03,268.54 394.67,273.95 395.31,268.99 395.96,267.02 396.60,274.14 397.24,274.06 397.88,273.06 398.53,270.93 399.17,257.25 399.81,281.38 400.45,272.82 401.10,273.28 401.74,268.68 402.38,283.72 403.02,268.83 403.67,273.34 404.31,271.14 404.95,264.62 405.59,272.81 406.23,267.29 406.88,269.35 407.52,269.24 408.16,264.07 408.80,273.39 409.45,260.25 410.09,261.71 410.73,266.66 411.37,278.54 412.02,266.73 412.66,267.47 413.30,265.02 413.94,272.15 414.59,258.11 415.23,262.00 415.87,274.88 416.51,270.46 417.16,280.38 417.80,263.72 418.44,260.72 419.08,251.47 419.72,267.35 420.37,266.69 421.01,266.53 421.65,267.79 422.29,258.19 422.94,267.39 423.58,270.19 424.22,268.34 424.86,282.79 425.51,265.86 426.15,266.31 426.79,269.20 427.43,263.16 428.08,265.33 428.72,270.17 429.36,276.58 430.00,274.25 430.65,272.80 431.29,270.62 431.93,268.93 432.57,260.00 433.21,271.00 433.86,261.49 434.50,266.50 435.14,263.10 435.78,269.39 436.43,289.11 437.07,264.73 437.71,271.55 438.35,273.92 439.00,264.47 439.64,266.42 440.28,272.18 440.92,271.18 441.57,259.26 442.21,271.16 442.85,266.19 443.49,274.34 444.14,264.11 444.78,274.76 445.42,268.31 446.06,280.02 446.70,267.99 447.35,263.30 447.99,276.21 448.63,271.07 449.27,265.16 449.92,267.39 450.56,270.50 451.20,267.15 451.84,268.86 452.49,262.83 453.13,270.78 453.77,265.29 454.41,267.07 455.06,265.59 455.70,269.67 456.34,265.84 456.98,266.25 457.62,269.56 458.27,281.27 458.91,257.11 459.55,266.02 460.19,272.34 460.84,265.75 461.48,271.00 462.12,268.73 462.76,262.90 463.41,268.93 464.05,270.86 464.69,270.60 465.33,276.61 465.98,272.04 466.62,271.12 467.26,273.08 467.90,277.48 468.55,268.76 469.19,272.14 469.83,265.62 470.47,260.32 471.11,271.09 471.76,267.77 472.40,268.39 473.04,276.72 473.68,274.50 474.33,262.05 474.97,268.68 475.61,264.35 476.25,277.24 476.90,267.53 477.54,262.73 478.18,262.67 478.82,287.94 479.47,268.26 480.11,269.77 480.75,265.25 481.39,276.83 482.04,271.22 482.68,264.17 483.32,268.72 483.96,268.88 484.60,256.39 485.25,270.40 485.89,279.28 486.53,269.51 487.17,273.60 487.82,276.34 488.46,267.81 489.10,258.09 489.74,267.70 490.39,266.93 491.03,270.35 491.67,267.78 492.31,265.39 492.96,267.59 493.60,264.39 494.24,267.99 494.88,272.49 495.53,267.66 496.17,268.53 496.81,273.26 497.45,267.26 498.09,264.07 498.74,274.16 499.38,268.04 500.02,265.70 500.66,269.39 501.31,271.14 501.95,269.74 502.59,268.07 503.23,266.41 503.88,267.90 504.52,275.17 505.16,264.05 505.80,260.24 506.45,275.41 507.09,271.48 507.73,273.06 508.37,263.22 509.01,260.96 509.66,279.02 510.30,270.23 510.94,272.61 511.58,268.72 512.23,260.37 512.87,277.01 513.51,273.12 514.15,268.56 514.80,268.24 515.44,265.51 516.08,269.03 516.72,273.97 517.37,269.96 518.01,253.93 518.65,265.41 519.29,274.81 519.94,264.27 520.58,270.52 521.22,264.84 521.86,284.46 522.50,262.53 523.15,273.36 523.79,268.85 524.43,266.75 525.07,268.38 525.72,273.27 526.36,274.03 527.00,270.91 527.64,278.29 528.29,272.10 528.93,274.32 529.57,268.77 530.21,269.92 530.86,267.62 531.50,270.96 532.14,280.18 532.78,270.25 533.43,265.34 534.07,271.37 534.71,269.37 535.35,265.34 535.99,269.35 536.64,261.96 537.28,260.56 537.92,270.53 538.56,265.67 539.21,271.42 539.85,274.02 540.49,269.03 541.13,267.45 541.78,259.51 542.42,273.82 543.06,266.04 543.70,268.67 544.35,274.27 544.99,255.78 545.63,266.28 546.27,274.36 546.92,261.17 547.56,275.34 548.20,275.80 548.84,270.24 549.48,259.35 550.13,280.30 550.77,260.56 551.41,267.35 552.05,277.21 552.70,267.81 553.34,268.83 553.98,267.85 554.62,265.65 555.27,266.52 555.91,247.79 556.55,273.51 557.19,264.16 557.84,269.30 558.48,264.80 559.12,261.78 559.76,250.42 560.40,271.20 561.05,268.88 561.69,259.00 562.33,258.77 562.97,269.73 563.62,259.19 564.26,269.36 564.90,269.71 565.54,265.31 566.19,268.71 566.83,268.93 567.47,269.58 568.11,269.08 568.76,274.01 569.40,277.62 570.04,265.36 570.68,267.85 571.33,266.61 571.97,264.40 572.61,271.83 573.25,271.77 573.89,271.01 574.54,270.62 575.18,265.24 575.82,269.71 576.46,270.35 577.11,267.06 577.75,272.75 578.39,275.20 579.03,266.26 579.68,265.31 580.32,270.73 580.96,267.07 581.60,280.16 582.25,269.38 582.89,267.71 583.53,271.41 584.17,270.03 584.82,267.37 585.46,267.59 586.10,273.58 586.74,266.13 587.38,276.44 588.03,256.22 588.67,272.39 589.31,271.41 589.95,272.44 590.60,250.68 591.24,270.88 591.88,267.42 592.52,251.11 593.17,258.40 593.81,279.21 594.45,268.26 595.09,267.46 595.74,266.19 596.38,270.18 597.02,270.29 597.66,289.11 598.31,280.02 598.95,267.99 599.59,276.67 600.23,272.39 600.87,270.22 601.52,276.99 602.16,280.59 602.80,260.06 603.44,269.06 604.09,272.34 604.73,266.10 605.37,285.76 606.01,271.56 606.66,257.35 607.30,261.53 607.94,267.07 608.58,275.77 609.23,270.42 609.87,281.03 610.51,272.05 611.15,281.44 611.79,274.45 612.44,267.10 613.08,275.45 613.72,273.54 614.36,261.31 615.01,270.19 615.65,270.22 616.29,276.10 616.93,264.54 617.58,266.55 618.22,268.02 618.86,267.28 619.50,275.45 620.15,271.30 620.79,267.65 621.43,258.21 622.07,264.06 622.72,267.01 623.36,268.28 624.00,283.70 624.64,261.82 625.28,277.22 625.93,274.35 626.57,266.32 627.21,264.18 627.85,264.74 628.50,268.89 629.14,272.98 629.78,280.01 630.42,263.16 631.07,254.89 631.71,271.58 632.35,262.71 632.99,269.40 633.64,270.52 634.28,268.40 634.92,286.39 635.56,268.98 636.21,272.46 636.85,266.04 637.49,268.43 638.13,262.61 638.77,261.58 639.42,270.44 640.06,270.97 640.70,259.27 641.34,268.41 641.99,275.62 642.63,278.86 643.27,251.20 643.91,267.70 644.56,278.12 645.20,268.35 645.84,268.41 646.48,269.05 647.13,258.30 647.77,258.52 648.41,274.50 649.05,273.65 649.70,269.34 650.34,263.64 650.98,267.21 651.62,265.77 652.26,267.73 652.91,272.23 653.55,264.05 654.19,284.03 654.83,266.24 655.48,272.57 656.12,268.71 656.76,255.36 657.40,268.10 658.05,277.92 658.69,269.12 659.33,266.76 659.97,277.94 660.62,271.43 661.26,282.86 661.90,268.09 662.54,269.63 663.18,268.42 663.83,270.74 664.47,266.81 665.11,273.08 665.75,261.13 666.40,257.43 667.04,268.51 667.68,268.76 668.32,262.91 668.97,270.83 669.61,264.39 670.25,270.87 670.89,265.92 671.54,270.21 672.18,267.45 672.82,260.13 673.46,278.13 674.11,264.29 674.75,268.07 675.39,269.66 676.03,270.00 676.67,277.06 677.32,271.33 677.96,267.22 678.60,275.57 679.24,266.65 679.89,257.18 680.53,254.24 681.17,261.88 681.81,264.31 682.46,272.95 683.10,256.16" fill="none" stroke="#2A85CA" stroke-width="0.55" stroke-opacity="0.95" stroke-linejoin="round"/>
<polyline points="42.01,301.34 42.65,298.51 43.29,298.42 43.94,299.85 44.58,300.14 45.22,301.36 45.86,300.15 46.50,300.89 47.15,301.94 47.79,301.92 48.43,299.03 49.07,297.85 49.72,301.79 50.36,303.75 51.00,301.01 51.64,301.86 52.29,301.43 52.93,299.97 53.57,300.41 54.21,300.39 54.86,301.32 55.50,299.70 56.14,300.89 56.78,300.48 57.43,300.30 58.07,298.11 58.71,301.09 59.35,299.47 59.99,300.81 60.64,298.23 61.28,300.50 61.92,300.19 62.56,298.43 63.21,299.66 63.85,302.31 64.49,301.84 65.13,296.64 65.78,303.75 66.42,300.84 67.06,297.04 67.70,303.75 68.35,301.63 68.99,301.28 69.63,302.42 70.27,300.27 70.92,299.94 71.56,300.77 72.20,302.13 72.84,298.97 73.48,299.01 74.13,300.03 74.77,301.83 75.41,300.09 76.05,299.82 76.70,300.40 77.34,298.56 77.98,300.51 78.62,300.17 79.27,302.07 79.91,300.03 80.55,299.24 81.19,299.42 81.84,301.04 82.48,296.64 83.12,299.47 83.76,300.41 84.41,300.44 85.05,299.17 85.69,301.52 86.33,299.79 86.97,299.47 87.62,300.16 88.26,298.47 88.90,300.28 89.54,300.29 90.19,300.91 90.83,297.89 91.47,300.78 92.11,299.57 92.76,300.45 93.40,297.61 94.04,297.34 94.68,303.75 95.33,296.64 95.97,299.90 96.61,302.62 97.25,300.21 97.89,303.12 98.54,300.07 99.18,301.45 99.82,300.59 100.46,300.83 101.11,299.91 101.75,298.89 102.39,297.59 103.03,300.73 103.68,300.01 104.32,303.75 104.96,300.57 105.60,296.99 106.25,302.02 106.89,298.50 107.53,299.74 108.17,300.87 108.82,299.17 109.46,300.89 110.10,298.23 110.74,302.47 111.38,302.01 112.03,299.32 112.67,300.34 113.31,301.74 113.95,300.17 114.60,300.86 115.24,300.07 115.88,299.36 116.52,298.62 117.17,302.90 117.81,299.94 118.45,296.64 119.09,300.31 119.74,299.22 120.38,302.27 121.02,298.46 121.66,299.97 122.31,298.31 122.95,299.12 123.59,298.50 124.23,302.94 124.87,299.49 125.52,301.38 126.16,301.00 126.80,300.75 127.44,299.95 128.09,299.83 128.73,297.69 129.37,303.75 130.01,301.40 130.66,300.61 131.30,298.92 131.94,300.07 132.58,300.17 133.23,299.27 133.87,299.73 134.51,300.89 135.15,302.41 135.80,300.30 136.44,298.39 137.08,299.92 137.72,303.03 138.36,300.36 139.01,300.53 139.65,299.97 140.29,299.96 140.93,297.26 141.58,300.69 142.22,300.46 142.86,299.87 143.50,298.33 144.15,299.53 144.79,300.28 145.43,298.95 146.07,298.50 146.72,298.22 147.36,299.77 148.00,303.48 148.64,300.83 149.28,302.49 149.93,301.78 150.57,302.49 151.21,299.61 151.85,300.40 152.50,299.21 153.14,299.81 153.78,299.61 154.42,298.82 155.07,299.61 155.71,298.42 156.35,302.18 156.99,302.69 157.64,301.27 158.28,302.02 158.92,301.23 159.56,301.19 160.21,301.78 160.85,297.24 161.49,301.82 162.13,303.36 162.77,300.40 163.42,300.22 164.06,296.64 164.70,302.41 165.34,300.17 165.99,297.97 166.63,300.49 167.27,301.02 167.91,300.05 168.56,300.76 169.20,297.77 169.84,302.44 170.48,301.32 171.13,302.46 171.77,299.50 172.41,300.87 173.05,298.16 173.70,298.24 174.34,297.59 174.98,301.05 175.62,303.75 176.26,300.52 176.91,296.92 177.55,299.25 178.19,302.89 178.83,299.54 179.48,297.93 180.12,296.74 180.76,299.49 181.40,298.56 182.05,298.75 182.69,300.62 183.33,302.25 183.97,299.43 184.62,301.84 185.26,300.53 185.90,296.64 186.54,300.04 187.19,300.14 187.83,297.34 188.47,300.91 189.11,296.64 189.75,298.00 190.40,300.60 191.04,300.74 191.68,301.94 192.32,297.95 192.97,301.45 193.61,303.75 194.25,298.29 194.89,299.92 195.54,299.67 196.18,299.41 196.82,303.31 197.46,302.34 198.11,300.20 198.75,303.10 199.39,300.19 200.03,299.39 200.67,299.72 201.32,299.86 201.96,303.20 202.60,301.15 203.24,298.20 203.89,301.97 204.53,300.11 205.17,303.11 205.81,297.54 206.46,301.55 207.10,300.45 207.74,300.08 208.38,299.47 209.03,297.57 209.67,299.39 210.31,300.66 210.95,302.59 211.60,299.52 212.24,296.64 212.88,303.75 213.52,299.19 214.16,301.52 214.81,300.31 215.45,300.14 216.09,299.87 216.73,296.64 217.38,299.61 218.02,300.51 218.66,299.49 219.30,300.29 219.95,300.44 220.59,300.60 221.23,300.22 221.87,300.93 222.52,301.12 223.16,301.73 223.80,300.36 224.44,300.87 225.09,298.78 225.73,298.70 226.37,300.67 227.01,299.86 227.65,298.14 228.30,300.62 228.94,300.05 229.58,300.35 230.22,299.75 230.87,297.01 231.51,301.82 232.15,296.82 232.79,299.69 233.44,299.07 234.08,299.80 234.72,298.49 235.36,300.74 236.01,299.52 236.65,301.01 237.29,300.18 237.93,299.63 238.58,301.35 239.22,302.86 239.86,299.10 240.50,298.98 241.14,299.69 241.79,300.76 242.43,299.72 243.07,302.46 243.71,299.70 244.36,299.99 245.00,299.86 245.64,300.34 246.28,301.21 246.93,299.44 247.57,300.29 248.21,299.35 248.85,300.60 249.50,302.40 250.14,300.09 250.78,299.84 251.42,297.86 252.06,298.31 252.71,302.94 253.35,299.21 253.99,301.02 254.63,299.57 255.28,300.55 255.92,300.76 256.56,300.23 257.20,300.12 257.85,299.58 258.49,299.79 259.13,299.64 259.77,300.53 260.42,299.65 261.06,300.67 261.70,299.89 262.34,300.31 262.99,300.03 263.63,303.75 264.27,300.20 264.91,301.24 265.55,300.53 266.20,302.62 266.84,299.72 267.48,298.25 268.12,300.63 268.77,302.17 269.41,299.85 270.05,301.93 270.69,298.27 271.34,301.98 271.98,300.61 272.62,300.21 273.26,302.03 273.91,300.77 274.55,300.95 275.19,299.50 275.83,296.64 276.48,300.61 277.12,299.10 277.76,301.81 278.40,299.98 279.04,300.38 279.69,300.90 280.33,298.90 280.97,299.34 281.61,301.86 282.26,300.88 282.90,298.91 283.54,296.64 284.18,299.88 284.83,298.48 285.47,296.64 286.11,299.37 286.75,299.77 287.40,301.23 288.04,300.58 288.68,299.84 289.32,297.78 289.97,300.84 290.61,300.50 291.25,303.75 291.89,299.57 292.53,300.35 293.18,299.06 293.82,301.16 294.46,299.71 295.10,299.66 295.75,300.29 296.39,301.43 297.03,300.47 297.67,299.35 298.32,301.43 298.96,302.37 299.60,300.30 300.24,301.16 300.89,299.04 301.53,298.93 302.17,297.40 302.81,298.76 303.45,299.76 304.10,301.44 304.74,298.89 305.38,299.43 306.02,299.34 306.67,299.57 307.31,298.84 307.95,300.85 308.59,299.67 309.24,300.16 309.88,300.70 310.52,300.74 311.16,301.68 311.81,300.22 312.45,300.58 313.09,300.42 313.73,298.66 314.38,299.63 315.02,299.63 315.66,296.64 316.30,301.25 316.94,300.18 317.59,302.33 318.23,300.51 318.87,297.28 319.51,302.43 320.16,299.28 320.80,298.54 321.44,300.18 322.08,299.06 322.73,300.36 323.37,300.64 324.01,300.19 324.65,301.39 325.30,300.81 325.94,300.82 326.58,296.64 327.22,300.71 327.87,301.19 328.51,297.52 329.15,301.82 329.79,296.81 330.43,298.65 331.08,299.76 331.72,300.40 332.36,301.38 333.00,302.16 333.65,302.19 334.29,300.65 334.93,300.46 335.57,297.82 336.22,300.10 336.86,296.64 337.50,299.46 338.14,301.75 338.79,300.06 339.43,301.65 340.07,303.42 340.71,297.44 341.36,300.70 342.00,301.43 342.64,302.21 343.28,299.74 343.92,300.30 344.57,303.75 345.21,299.49 345.85,301.04 346.49,299.16 347.14,300.23 347.78,300.11 348.42,300.31 349.06,299.65 349.71,296.64 350.35,299.06 350.99,302.70 351.63,300.21 352.28,301.16 352.92,302.20 353.56,301.39 354.20,301.09 354.84,297.02 355.49,299.35 356.13,298.65 356.77,299.56 357.41,300.78 358.06,300.51 358.70,300.36 359.34,300.87 359.98,300.42 360.63,299.21 361.27,302.59 361.91,300.95 362.55,300.25 363.20,299.65 363.84,299.76 364.48,299.44 365.12,302.17 365.77,301.49 366.41,300.81 367.05,300.93 367.69,299.30 368.33,296.64 368.98,299.62 369.62,303.63 370.26,300.86 370.90,299.02 371.55,297.81 372.19,299.93 372.83,300.66 373.47,300.63 374.12,299.81 374.76,298.55 375.40,300.68 376.04,301.42 376.69,303.75 377.33,301.83 377.97,298.67 378.61,299.84 379.26,296.64 379.90,302.69 380.54,300.59 381.18,299.07 381.82,299.71 382.47,302.75 383.11,300.48 383.75,299.79 384.39,299.60 385.04,300.33 385.68,301.44 386.32,296.80 386.96,300.29 387.61,299.48 388.25,300.11 388.89,302.51 389.53,301.15 390.18,302.82 390.82,301.42 391.46,301.36 392.10,300.44 392.75,300.76 393.39,300.61 394.03,298.93 394.67,303.75 395.31,302.19 395.96,298.99 396.60,300.11 397.24,300.36 397.88,300.99 398.53,300.09 399.17,301.23 399.81,298.61 400.45,298.88 401.10,300.76 401.74,303.75 402.38,298.31 403.02,300.85 403.67,299.72 404.31,298.61 404.95,299.05 405.59,298.57 406.23,300.23 406.88,298.74 407.52,300.30 408.16,301.01 408.80,300.25 409.45,300.70 410.09,299.23 410.73,298.82 411.37,301.80 412.02,301.61 412.66,300.53 413.30,300.30 413.94,297.12 414.59,297.48 415.23,296.76 415.87,299.42 416.51,299.65 417.16,300.98 417.80,300.57 418.44,303.75 419.08,298.81 419.72,300.95 420.37,302.53 421.01,300.78 421.65,300.75 422.29,299.45 422.94,303.75 423.58,301.18 424.22,298.21 424.86,298.64 425.51,299.82 426.15,300.04 426.79,301.22 427.43,298.45 428.08,299.27 428.72,300.17 429.36,301.63 430.00,301.26 430.65,300.55 431.29,300.72 431.93,302.86 432.57,300.46 433.21,300.34 433.86,300.90 434.50,300.53 435.14,300.72 435.78,300.56 436.43,299.86 437.07,300.21 437.71,301.37 438.35,299.07 439.00,300.17 439.64,300.31 440.28,299.50 440.92,299.31 441.57,298.69 442.21,298.97 442.85,299.68 443.49,299.46 444.14,301.66 444.78,299.56 445.42,301.05 446.06,301.04 446.70,302.00 447.35,300.49 447.99,303.75 448.63,299.72 449.27,299.33 449.92,299.19 450.56,301.91 451.20,299.78 451.84,298.77 452.49,303.53 453.13,301.40 453.77,300.99 454.41,300.30 455.06,301.55 455.70,300.10 456.34,300.67 456.98,299.73 457.62,300.12 458.27,299.61 458.91,301.09 459.55,299.52 460.19,299.40 460.84,299.46 461.48,302.71 462.12,297.38 462.76,299.99 463.41,300.97 464.05,300.38 464.69,300.15 465.33,300.15 465.98,301.09 466.62,301.00 467.26,300.60 467.90,299.16 468.55,300.37 469.19,303.44 469.83,300.33 470.47,301.35 471.11,303.75 471.76,296.64 472.40,300.87 473.04,300.10 473.68,300.62 474.33,303.03 474.97,298.15 475.61,297.61 476.25,301.45 476.90,300.43 477.54,300.57 478.18,301.58 478.82,299.71 479.47,299.15 480.11,299.27 480.75,299.65 481.39,303.75 482.04,301.18 482.68,300.16 483.32,299.54 483.96,300.53 484.60,300.34 485.25,298.75 485.89,303.75 486.53,300.99 487.17,300.89 487.82,296.64 488.46,301.20 489.10,303.19 489.74,300.43 490.39,299.75 491.03,301.69 491.67,298.76 492.31,301.38 492.96,299.54 493.60,301.63 494.24,298.38 494.88,301.35 495.53,299.41 496.17,298.77 496.81,301.05 497.45,302.33 498.09,299.96 498.74,300.20 499.38,300.25 500.02,299.15 500.66,300.30 501.31,300.21 501.95,300.23 502.59,300.32 503.23,300.46 503.88,301.63 504.52,300.87 505.16,301.00 505.80,301.09 506.45,299.15 507.09,302.07 507.73,301.32 508.37,300.13 509.01,300.79 509.66,301.13 510.30,300.57 510.94,300.19 511.58,299.66 512.23,296.64 512.87,298.66 513.51,300.39 514.15,300.33 514.80,300.43 515.44,301.13 516.08,297.24 516.72,302.71 517.37,301.33 518.01,299.71 518.65,299.95 519.29,300.94 519.94,297.58 520.58,300.45 521.22,299.93 521.86,302.35 522.50,298.28 523.15,302.20 523.79,300.50 524.43,298.34 525.07,297.41 525.72,298.11 526.36,298.85 527.00,301.16 527.64,303.68 528.29,300.33 528.93,302.81 529.57,296.99 530.21,303.75 530.86,300.74 531.50,301.34 532.14,303.75 532.78,300.20 533.43,302.58 534.07,298.17 534.71,299.61 535.35,300.58 535.99,298.75 536.64,299.06 537.28,300.74 537.92,298.70 538.56,297.73 539.21,299.85 539.85,300.64 540.49,298.16 541.13,297.46 541.78,300.66 542.42,302.42 543.06,298.52 543.70,299.69 544.35,301.17 544.99,300.02 545.63,300.81 546.27,297.90 546.92,300.68 547.56,301.38 548.20,303.29 548.84,300.68 549.48,296.64 550.13,301.25 550.77,300.31 551.41,296.64 552.05,303.75 552.70,300.87 553.34,298.90 553.98,302.29 554.62,297.75 555.27,298.80 555.91,301.78 556.55,299.94 557.19,300.05 557.84,299.58 558.48,300.82 559.12,300.53 559.76,301.12 560.40,300.88 561.05,301.52 561.69,298.11 562.33,298.32 562.97,300.62 563.62,299.58 564.26,300.22 564.90,300.93 565.54,300.65 566.19,296.83 566.83,300.68 567.47,299.98 568.11,297.41 568.76,300.86 569.40,298.98 570.04,302.07 570.68,299.41 571.33,299.00 571.97,298.78 572.61,296.64 573.25,299.51 573.89,296.64 574.54,300.94 575.18,300.14 575.82,301.27 576.46,302.46 577.11,300.36 577.75,299.47 578.39,299.17 579.03,303.75 579.68,297.47 580.32,301.09 580.96,300.88 581.60,298.82 582.25,298.24 582.89,299.39 583.53,300.71 584.17,300.30 584.82,298.80 585.46,300.62 586.10,299.01 586.74,299.15 587.38,300.28 588.03,298.21 588.67,300.53 589.31,299.32 589.95,299.79 590.60,300.72 591.24,300.12 591.88,299.90 592.52,300.10 593.17,302.11 593.81,296.64 594.45,296.78 595.09,303.47 595.74,297.43 596.38,300.12 597.02,301.95 597.66,298.90 598.31,300.38 598.95,299.50 599.59,298.86 600.23,300.10 600.87,303.12 601.52,298.89 602.16,299.58 602.80,298.03 603.44,300.98 604.09,299.13 604.73,298.47 605.37,300.63 606.01,300.45 606.66,300.71 607.30,303.75 607.94,301.17 608.58,300.72 609.23,302.13 609.87,299.24 610.51,300.40 611.15,300.01 611.79,300.91 612.44,300.61 613.08,299.31 613.72,300.28 614.36,299.93 615.01,300.41 615.65,300.05 616.29,298.20 616.93,300.99 617.58,300.15 618.22,299.61 618.86,302.41 619.50,296.94 620.15,300.20 620.79,301.10 621.43,299.27 622.07,298.94 622.72,299.82 623.36,297.94 624.00,302.38 624.64,300.13 625.28,299.36 625.93,297.93 626.57,299.78 627.21,299.91 627.85,300.52 628.50,300.00 629.14,300.05 629.78,298.10 630.42,298.86 631.07,299.39 631.71,297.82 632.35,302.76 632.99,299.22 633.64,300.30 634.28,299.31 634.92,300.86 635.56,300.29 636.21,298.88 636.85,303.55 637.49,300.88 638.13,300.23 638.77,298.67 639.42,300.98 640.06,298.89 640.70,301.10 641.34,300.83 641.99,300.06 642.63,299.73 643.27,298.40 643.91,298.40 644.56,301.08 645.20,299.35 645.84,299.80 646.48,300.53 647.13,299.18 647.77,298.20 648.41,300.25 649.05,297.94 649.70,301.93 650.34,301.59 650.98,299.25 651.62,300.82 652.26,299.96 652.91,300.21 653.55,301.76 654.19,299.30 654.83,299.37 655.48,301.76 656.12,301.03 656.76,299.04 657.40,298.00 658.05,298.50 658.69,300.20 659.33,300.59 659.97,300.35 660.62,301.52 661.26,300.21 661.90,301.18 662.54,301.62 663.18,300.54 663.83,302.80 664.47,300.28 665.11,299.57 665.75,299.74 666.40,296.64 667.04,298.33 667.68,299.81 668.32,298.20 668.97,300.35 669.61,299.05 670.25,300.91 670.89,300.13 671.54,296.64 672.18,299.92 672.82,300.18 673.46,299.12 674.11,300.79 674.75,298.83 675.39,303.75 676.03,301.14 676.67,301.51 677.32,301.04 677.96,297.40 678.60,303.75 679.24,300.85 679.89,300.00 680.53,299.54 681.17,299.20 681.81,300.54 682.46,301.24 683.10,298.66" fill="none" stroke="#9A6CC8" stroke-width="0.7" stroke-opacity="0.85" stroke-linejoin="round"/>
<rect x="41.7" y="184.7" width="642.5" height="123.5" fill="none" stroke="#8C8C8C" stroke-width="1"/>
<path d="M41.7 190.2 h3.2 M41.7 236.0 h3.2 M41.7 245.5 h3.2 M41.7 291.4 h3.2 M41.7 296.5 h3.2 M41.7 304.4 h3.2 M144.5 308.2 v-2.6 M247.3 308.2 v-2.6 M350.0 308.2 v-2.6 M452.8 308.2 v-2.6 M555.6 308.2 v-2.6 M658.4 308.2 v-2.6 " stroke="#8C8C8C" stroke-width="1" fill="none"/>
<text x="29.5" y="192.9" font-family='"Liberation Serif", serif' font-size="9.4" font-weight="normal" text-anchor="start" fill="#000" textLength="4.4" lengthAdjust="spacingAndGlyphs" stroke="#000" stroke-width="0.18">1</text>
<text x="27.6" y="237.7" font-family='"Liberation Serif", serif' font-size="9.4" font-weight="normal" text-anchor="start" fill="#000" textLength="8.4" lengthAdjust="spacingAndGlyphs" stroke="#000" stroke-width="0.18">-1</text>
<text x="29.0" y="249.8" font-family='"Liberation Serif", serif' font-size="9.4" font-weight="normal" text-anchor="start" fill="#000" textLength="4.6" lengthAdjust="spacingAndGlyphs" stroke="#000" stroke-width="0.18">1</text>
<text x="27.5" y="291.9" font-family='"Liberation Serif", serif' font-size="9.4" font-weight="normal" text-anchor="start" fill="#000" textLength="8.4" lengthAdjust="spacingAndGlyphs" stroke="#000" stroke-width="0.18">-1</text>
<text x="18.8" y="305.0" font-family='"Liberation Serif", serif' font-size="9.4" font-weight="normal" text-anchor="start" fill="#000" textLength="17.6" lengthAdjust="spacingAndGlyphs" stroke="#000" stroke-width="0.18">&#177;0.1</text>
<text x="43.5" y="315.9" font-family='"Liberation Serif", serif' font-size="9.6" font-weight="normal" text-anchor="middle" fill="#000" stroke="#000" stroke-width="0.18">0</text>
<text x="147.6" y="315.9" font-family='"Liberation Serif", serif' font-size="9.6" font-weight="normal" text-anchor="middle" fill="#000" stroke="#000" stroke-width="0.18">10</text>
<text x="248.5" y="315.9" font-family='"Liberation Serif", serif' font-size="9.6" font-weight="normal" text-anchor="middle" fill="#000" stroke="#000" stroke-width="0.18">20</text>
<text x="351.5" y="315.9" font-family='"Liberation Serif", serif' font-size="9.6" font-weight="normal" text-anchor="middle" fill="#000" stroke="#000" stroke-width="0.18">30</text>
<text x="456.5" y="315.9" font-family='"Liberation Serif", serif' font-size="9.6" font-weight="normal" text-anchor="middle" fill="#000" stroke="#000" stroke-width="0.18">40</text>
<text x="559.4" y="315.9" font-family='"Liberation Serif", serif' font-size="9.6" font-weight="normal" text-anchor="middle" fill="#000" stroke="#000" stroke-width="0.18">50</text>
<text x="659.9" y="315.9" font-family='"Liberation Serif", serif' font-size="9.6" font-weight="normal" text-anchor="middle" fill="#000" stroke="#000" stroke-width="0.18">60</text>
<text x="325.0" y="325.5" font-family='"Liberation Serif", serif' font-size="12.3" font-weight="normal" text-anchor="start" fill="#000" textLength="49.4" lengthAdjust="spacingAndGlyphs" stroke="#000" stroke-width="0.3">Time (ns)</text>
<text transform="translate(19.4 242.5) rotate(-90)" x="0" y="0" font-family='"Liberation Serif", serif' font-size="13" text-anchor="middle" textLength="65.6" lengthAdjust="spacingAndGlyphs" stroke="#000" stroke-width="0.3">Output (a.u.)</text>
<text x="1.0" y="188.6" font-family='"Liberation Serif", serif' font-size="21.8" font-weight="bold" text-anchor="start" fill="#000">b</text>
<line x1="289" y1="190" x2="313.7" y2="190" stroke="#ED7D31" stroke-width="1.8"/>
<text x="317.4" y="195.6" font-family='"Liberation Sans", sans-serif' font-size="11.6" font-weight="normal" text-anchor="start" fill="#000" textLength="51.7" lengthAdjust="spacingAndGlyphs">Measured</text>
<line x1="289" y1="243.5" x2="313.7" y2="243.5" stroke="#0070C0" stroke-width="1.8"/>
<text x="317.4" y="248.6" font-family='"Liberation Sans", sans-serif' font-size="11.4" font-weight="normal" text-anchor="start" fill="#000" textLength="53.6" lengthAdjust="spacingAndGlyphs">Calculated</text>
<line x1="289" y1="293.3" x2="313.7" y2="293.3" stroke="#7030A0" stroke-width="2"/>
<text x="317.0" y="296.6" font-family='"Liberation Sans", sans-serif' font-size="11.3" font-weight="normal" text-anchor="start" fill="#000" textLength="25.1" lengthAdjust="spacingAndGlyphs">Error</text>
<path d="M144.8 293.8 L55.9 350.3 M165.1 293.8 L246 350.3" stroke="#B0B0B0" stroke-width="0.9" fill="none"/>
<clipPath id="cc"><rect x="55.9" y="350.3" width="190" height="134"/></clipPath>
<path d="M62.10 425.0 V405.38 M69.08 425.0 V455.59 M76.06 425.0 V446.26 M83.04 425.0 V413.29 M90.02 425.0 V435.67 M97.00 425.0 V437.68 M103.98 425.0 V448.57 M110.96 425.0 V452.45 M117.94 425.0 V464.91 M124.92 425.0 V401.13 M131.90 425.0 V426.12 M138.88 425.0 V431.34 M145.86 425.0 V442.53 M152.84 425.0 V426.12 M159.82 425.0 V386.21 M166.80 425.0 V425.00 M173.78 425.0 V434.85 M180.76 425.0 V420.75 M187.74 425.0 V370.32 M194.72 425.0 V435.67 M201.70 425.0 V481.40 M208.68 425.0 V444.02 M215.66 425.0 V408.59 M222.64 425.0 V391.06 M229.62 425.0 V440.22 M236.60 425.0 V398.89 M243.58 425.0 V361.22 " stroke="#EC8C60" stroke-width="1.6" fill="none"/>
<path d="M55.9 426.12 H58.61 V408.59 H65.59 V459.32 H72.57 V447.08 H79.55 V407.10 H86.53 V434.47 H93.51 V433.36 H100.49 V445.59 H107.47 V448.13 H114.45 V466.03 H121.43 V400.75 H128.41 V427.98 H135.39 V432.09 H142.37 V443.65 H149.35 V428.73 H156.33 V387.33 H163.31 V428.36 H170.29 V431.12 H177.27 V416.05 H184.25 V368.30 H191.23 V432.24 H198.21 V479.46 H205.19 V442.16 H212.17 V405.60 H219.15 V396.65 H226.13 V437.16 H233.11 V392.92 H240.09 V360.84 H245.90" stroke="#0072BD" stroke-width="1.5" fill="none" clip-path="url(#cc)"/>
<line x1="55.9" y1="425.0" x2="245.9" y2="425.0" stroke="#262626" stroke-width="1.5"/>
<rect x="55.9" y="350.3" width="190.0" height="134.0" fill="none" stroke="#262626" stroke-width="1.4"/>
<circle cx="62.10" cy="405.38" r="1.9" fill="#D95319"/>
<circle cx="69.08" cy="455.59" r="1.9" fill="#D95319"/>
<circle cx="76.06" cy="446.26" r="1.9" fill="#D95319"/>
<circle cx="83.04" cy="413.29" r="1.9" fill="#D95319"/>
<circle cx="90.02" cy="435.67" r="1.9" fill="#D95319"/>
<circle cx="97.00" cy="437.68" r="1.9" fill="#D95319"/>
<circle cx="103.98" cy="448.57" r="1.9" fill="#D95319"/>
<circle cx="110.96" cy="452.45" r="1.9" fill="#D95319"/>
<circle cx="117.94" cy="464.91" r="1.9" fill="#D95319"/>
<circle cx="124.92" cy="401.13" r="1.9" fill="#D95319"/>
<circle cx="131.90" cy="426.12" r="1.9" fill="#D95319"/>
<circle cx="138.88" cy="431.34" r="1.9" fill="#D95319"/>
<circle cx="145.86" cy="442.53" r="1.9" fill="#D95319"/>
<circle cx="152.84" cy="426.12" r="1.9" fill="#D95319"/>
<circle cx="159.82" cy="386.21" r="1.9" fill="#D95319"/>
<circle cx="166.80" cy="425.00" r="1.9" fill="#D95319"/>
<circle cx="173.78" cy="434.85" r="1.9" fill="#D95319"/>
<circle cx="180.76" cy="420.75" r="1.9" fill="#D95319"/>
<circle cx="187.74" cy="370.32" r="1.9" fill="#D95319"/>
<circle cx="194.72" cy="435.67" r="1.9" fill="#D95319"/>
<circle cx="201.70" cy="481.40" r="1.9" fill="#D95319"/>
<circle cx="208.68" cy="444.02" r="1.9" fill="#D95319"/>
<circle cx="215.66" cy="408.59" r="1.9" fill="#D95319"/>
<circle cx="222.64" cy="391.06" r="1.9" fill="#D95319"/>
<circle cx="229.62" cy="440.22" r="1.9" fill="#D95319"/>
<circle cx="236.60" cy="398.89" r="1.9" fill="#D95319"/>
<circle cx="243.58" cy="361.22" r="1.9" fill="#D95319"/>
<path d="M67.1 350.3 v2.6 M67.1 484.3 v-2.6 M111.8 350.3 v2.6 M111.8 484.3 v-2.6 M156.5 350.3 v2.6 M156.5 484.3 v-2.6 M201.1 350.3 v2.6 M201.1 484.3 v-2.6 M55.9 365.3 h2.6 M245.9 365.3 h-2.6 M55.9 395.2 h2.6 M245.9 395.2 h-2.6 M55.9 454.8 h2.6 M245.9 454.8 h-2.6 " stroke="#262626" stroke-width="1.1" fill="none"/>
<text x="39.6" y="368.4" font-family='"Liberation Serif", serif' font-size="9.0" font-weight="normal" text-anchor="start" fill="#000" textLength="11.3" lengthAdjust="spacingAndGlyphs" stroke="#000" stroke-width="0.18">0.8</text>
<text x="39.6" y="398.4" font-family='"Liberation Serif", serif' font-size="9.0" font-weight="normal" text-anchor="start" fill="#000" textLength="11.3" lengthAdjust="spacingAndGlyphs" stroke="#000" stroke-width="0.18">0.4</text>
<text x="42.2" y="427.6" font-family='"Liberation Serif", serif' font-size="9.0" font-weight="normal" text-anchor="start" fill="#000" stroke="#000" stroke-width="0.18">0</text>
<text x="35.8" y="456.5" font-family='"Liberation Serif", serif' font-size="9.0" font-weight="normal" text-anchor="start" fill="#000" textLength="14.6" lengthAdjust="spacingAndGlyphs" stroke="#000" stroke-width="0.18">-0.4</text>
<text x="35.8" y="484.8" font-family='"Liberation Serif", serif' font-size="9.0" font-weight="normal" text-anchor="start" fill="#000" textLength="14.6" lengthAdjust="spacingAndGlyphs" stroke="#000" stroke-width="0.18">-0.8</text>
<text x="55.8" y="495.8" font-family='"Liberation Serif", serif' font-size="9.4" font-weight="normal" text-anchor="start" fill="#000" textLength="17.0" lengthAdjust="spacingAndGlyphs" stroke="#000" stroke-width="0.18">10.2</text>
<text x="102.6" y="495.8" font-family='"Liberation Serif", serif' font-size="9.4" font-weight="normal" text-anchor="start" fill="#000" textLength="16.9" lengthAdjust="spacingAndGlyphs" stroke="#000" stroke-width="0.18">10.6</text>
<text x="151.6" y="495.8" font-family='"Liberation Serif", serif' font-size="9.4" font-weight="normal" text-anchor="start" fill="#000" textLength="9.2" lengthAdjust="spacingAndGlyphs" stroke="#000" stroke-width="0.18">11</text>
<text x="195.1" y="495.8" font-family='"Liberation Serif", serif' font-size="9.4" font-weight="normal" text-anchor="start" fill="#000" textLength="16.4" lengthAdjust="spacingAndGlyphs" stroke="#000" stroke-width="0.18">11.4</text>
<text x="236.9" y="495.8" font-family='"Liberation Serif", serif' font-size="9.4" font-weight="normal" text-anchor="start" fill="#000" textLength="16.9" lengthAdjust="spacingAndGlyphs" stroke="#000" stroke-width="0.18">11.8</text>
<text x="131.8" y="506.5" font-family='"Liberation Serif", serif' font-size="12.4" font-weight="normal" text-anchor="start" fill="#000" textLength="50.2" lengthAdjust="spacingAndGlyphs" stroke="#000" stroke-width="0.3">Time (ns)</text>
<text transform="translate(29.1 418.3) rotate(-90)" x="0" y="0" font-family='"Liberation Serif", serif' font-size="12.6" text-anchor="middle" textLength="97.5" lengthAdjust="spacingAndGlyphs" stroke="#000" stroke-width="0.3">Output (arb. units)</text>
<text x="0.3" y="356.0" font-family='"Liberation Serif", serif' font-size="22" font-weight="bold" text-anchor="start" fill="#000">c</text>
<path d="M465.2 349.9h.5v.5h-.5zM465.7 349.9h.5v.5h-.5zM465.2 350.4h.5v.5h-.5zM465.7 350.4h.5v.5h-.5zM452.7 350.9h.5v.5h-.5zM453.2 350.9h.5v.5h-.5zM457.7 350.9h.5v.5h-.5zM458.2 350.9h.5v.5h-.5zM452.7 351.4h.5v.5h-.5zM453.2 351.4h.5v.5h-.5zM457.7 351.4h.5v.5h-.5zM458.2 351.4h.5v.5h-.5zM461.2 351.9h.5v.5h-.5zM461.7 351.9h.5v.5h-.5zM461.2 352.4h.5v.5h-.5zM461.7 352.4h.5v.5h-.5zM452.7 354.9h.5v.5h-.5zM453.2 354.9h.5v.5h-.5zM448.7 355.4h.5v.5h-.5zM449.2 355.4h.5v.5h-.5zM452.7 355.4h.5v.5h-.5zM453.2 355.4h.5v.5h-.5zM456.7 355.4h.5v.5h-.5zM457.2 355.4h.5v.5h-.5zM458.2 355.4h.5v.5h-.5zM458.7 355.4h.5v.5h-.5zM448.7 355.9h.5v.5h-.5zM449.2 355.9h.5v.5h-.5zM456.7 355.9h.5v.5h-.5zM457.2 355.9h.5v.5h-.5zM458.2 355.9h.5v.5h-.5zM458.7 355.9h.5v.5h-.5zM446.7 357.4h.5v.5h-.5zM447.2 357.4h.5v.5h-.5zM449.7 357.4h.5v.5h-.5zM450.2 357.4h.5v.5h-.5zM451.2 357.4h.5v.5h-.5zM451.7 357.4h.5v.5h-.5zM446.7 357.9h.5v.5h-.5zM447.2 357.9h.5v.5h-.5zM449.7 357.9h.5v.5h-.5zM450.2 357.9h.5v.5h-.5zM451.2 357.9h.5v.5h-.5zM451.7 357.9h.5v.5h-.5zM457.7 357.9h.5v.5h-.5zM458.2 357.9h.5v.5h-.5zM457.7 358.4h.5v.5h-.5zM458.2 358.4h.5v.5h-.5zM460.2 358.4h.5v.5h-.5zM460.7 358.4h.5v.5h-.5zM460.2 358.9h.5v.5h-.5zM460.7 358.9h.5v.5h-.5zM441.2 359.4h.5v.5h-.5zM441.7 359.4h.5v.5h-.5zM444.2 359.4h.5v.5h-.5zM444.7 359.4h.5v.5h-.5zM441.2 359.9h.5v.5h-.5zM441.7 359.9h.5v.5h-.5zM444.2 359.9h.5v.5h-.5zM444.7 359.9h.5v.5h-.5zM447.7 359.9h.5v.5h-.5zM448.2 359.9h.5v.5h-.5zM449.7 359.9h.5v.5h-.5zM450.2 359.9h.5v.5h-.5zM451.2 359.9h.5v.5h-.5zM451.7 359.9h.5v.5h-.5zM445.7 360.4h.5v.5h-.5zM446.2 360.4h.5v.5h-.5zM447.7 360.4h.5v.5h-.5zM448.2 360.4h.5v.5h-.5zM449.7 360.4h.5v.5h-.5zM450.2 360.4h.5v.5h-.5zM445.7 360.9h.5v.5h-.5zM446.2 360.9h.5v.5h-.5zM449.2 360.9h.5v.5h-.5zM449.7 360.9h.5v.5h-.5zM455.2 360.9h.5v.5h-.5zM455.7 360.9h.5v.5h-.5zM456.7 360.9h.5v.5h-.5zM457.2 360.9h.5v.5h-.5zM440.7 361.4h.5v.5h-.5zM441.2 361.4h.5v.5h-.5zM448.2 361.4h.5v.5h-.5zM448.7 361.4h.5v.5h-.5zM449.2 361.4h.5v.5h-.5zM449.7 361.4h.5v.5h-.5zM451.2 361.4h.5v.5h-.5zM451.7 361.4h.5v.5h-.5zM455.2 361.4h.5v.5h-.5zM455.7 361.4h.5v.5h-.5zM456.7 361.4h.5v.5h-.5zM457.2 361.4h.5v.5h-.5zM440.7 361.9h.5v.5h-.5zM441.2 361.9h.5v.5h-.5zM446.7 362.4h.5v.5h-.5zM447.2 362.4h.5v.5h-.5zM447.7 362.4h.5v.5h-.5zM453.2 362.4h.5v.5h-.5zM453.7 362.4h.5v.5h-.5zM454.2 362.4h.5v.5h-.5zM454.7 362.4h.5v.5h-.5zM438.2 362.9h.5v.5h-.5zM438.7 362.9h.5v.5h-.5zM441.2 362.9h.5v.5h-.5zM441.7 362.9h.5v.5h-.5zM443.7 362.9h.5v.5h-.5zM444.2 362.9h.5v.5h-.5zM444.7 362.9h.5v.5h-.5zM445.7 362.9h.5v.5h-.5zM446.7 362.9h.5v.5h-.5zM447.2 362.9h.5v.5h-.5zM447.7 362.9h.5v.5h-.5zM448.2 362.9h.5v.5h-.5zM453.2 362.9h.5v.5h-.5zM453.7 362.9h.5v.5h-.5zM454.2 362.9h.5v.5h-.5zM454.7 362.9h.5v.5h-.5zM438.2 363.4h.5v.5h-.5zM438.7 363.4h.5v.5h-.5zM440.7 363.4h.5v.5h-.5zM442.7 363.4h.5v.5h-.5zM443.2 363.4h.5v.5h-.5zM443.7 363.4h.5v.5h-.5zM444.2 363.4h.5v.5h-.5zM444.7 363.4h.5v.5h-.5zM445.7 363.4h.5v.5h-.5zM446.2 363.4h.5v.5h-.5zM446.7 363.4h.5v.5h-.5zM449.2 363.4h.5v.5h-.5zM449.7 363.4h.5v.5h-.5zM437.7 363.9h.5v.5h-.5zM438.2 363.9h.5v.5h-.5zM440.7 363.9h.5v.5h-.5zM442.2 363.9h.5v.5h-.5zM442.7 363.9h.5v.5h-.5zM443.2 363.9h.5v.5h-.5zM443.7 363.9h.5v.5h-.5zM444.2 363.9h.5v.5h-.5zM448.2 363.9h.5v.5h-.5zM449.2 363.9h.5v.5h-.5zM449.7 363.9h.5v.5h-.5zM437.7 364.4h.5v.5h-.5zM438.2 364.4h.5v.5h-.5zM440.2 364.4h.5v.5h-.5zM440.7 364.4h.5v.5h-.5zM441.7 364.4h.5v.5h-.5zM442.2 364.4h.5v.5h-.5zM443.2 364.4h.5v.5h-.5zM444.2 364.4h.5v.5h-.5zM444.7 364.4h.5v.5h-.5zM445.2 364.4h.5v.5h-.5zM446.2 364.4h.5v.5h-.5zM448.2 364.4h.5v.5h-.5zM448.7 364.4h.5v.5h-.5zM449.2 364.4h.5v.5h-.5zM437.2 364.9h.5v.5h-.5zM437.7 364.9h.5v.5h-.5zM438.2 364.9h.5v.5h-.5zM438.7 364.9h.5v.5h-.5zM440.2 364.9h.5v.5h-.5zM440.7 364.9h.5v.5h-.5zM442.7 364.9h.5v.5h-.5zM444.7 364.9h.5v.5h-.5zM446.2 364.9h.5v.5h-.5zM446.7 364.9h.5v.5h-.5zM447.2 364.9h.5v.5h-.5zM448.7 364.9h.5v.5h-.5zM449.2 364.9h.5v.5h-.5zM449.7 364.9h.5v.5h-.5zM450.2 364.9h.5v.5h-.5zM434.2 365.4h.5v.5h-.5zM434.7 365.4h.5v.5h-.5zM437.2 365.4h.5v.5h-.5zM437.7 365.4h.5v.5h-.5zM438.2 365.4h.5v.5h-.5zM439.2 365.4h.5v.5h-.5zM440.2 365.4h.5v.5h-.5zM440.7 365.4h.5v.5h-.5zM441.2 365.4h.5v.5h-.5zM442.2 365.4h.5v.5h-.5zM442.7 365.4h.5v.5h-.5zM445.2 365.4h.5v.5h-.5zM446.2 365.4h.5v.5h-.5zM449.7 365.4h.5v.5h-.5zM450.2 365.4h.5v.5h-.5zM434.2 365.9h.5v.5h-.5zM434.7 365.9h.5v.5h-.5zM437.7 365.9h.5v.5h-.5zM438.2 365.9h.5v.5h-.5zM438.7 365.9h.5v.5h-.5zM439.2 365.9h.5v.5h-.5zM439.7 365.9h.5v.5h-.5zM440.7 365.9h.5v.5h-.5zM441.2 365.9h.5v.5h-.5zM442.2 365.9h.5v.5h-.5zM442.7 365.9h.5v.5h-.5zM443.2 365.9h.5v.5h-.5zM437.7 366.4h.5v.5h-.5zM438.2 366.4h.5v.5h-.5zM439.2 366.4h.5v.5h-.5zM440.7 366.4h.5v.5h-.5zM442.7 366.4h.5v.5h-.5zM443.2 366.4h.5v.5h-.5zM443.7 366.4h.5v.5h-.5zM444.2 366.4h.5v.5h-.5zM444.7 366.4h.5v.5h-.5zM445.2 366.4h.5v.5h-.5zM446.7 366.4h.5v.5h-.5zM447.2 366.4h.5v.5h-.5zM448.2 366.4h.5v.5h-.5zM448.7 366.4h.5v.5h-.5zM439.2 366.9h.5v.5h-.5zM439.7 366.9h.5v.5h-.5zM440.2 366.9h.5v.5h-.5zM441.7 366.9h.5v.5h-.5zM442.2 366.9h.5v.5h-.5zM444.7 366.9h.5v.5h-.5zM445.2 366.9h.5v.5h-.5zM445.7 366.9h.5v.5h-.5zM446.2 366.9h.5v.5h-.5zM446.7 366.9h.5v.5h-.5zM447.2 366.9h.5v.5h-.5zM436.2 367.4h.5v.5h-.5zM436.7 367.4h.5v.5h-.5zM438.7 367.4h.5v.5h-.5zM440.2 367.4h.5v.5h-.5zM442.7 367.4h.5v.5h-.5zM443.2 367.4h.5v.5h-.5zM445.7 367.4h.5v.5h-.5zM446.2 367.4h.5v.5h-.5zM451.7 367.4h.5v.5h-.5zM452.2 367.4h.5v.5h-.5zM426.7 367.9h.5v.5h-.5zM427.2 367.9h.5v.5h-.5zM432.7 367.9h.5v.5h-.5zM433.2 367.9h.5v.5h-.5zM436.2 367.9h.5v.5h-.5zM436.7 367.9h.5v.5h-.5zM437.7 367.9h.5v.5h-.5zM442.2 367.9h.5v.5h-.5zM445.2 367.9h.5v.5h-.5zM445.7 367.9h.5v.5h-.5zM451.7 367.9h.5v.5h-.5zM452.2 367.9h.5v.5h-.5zM426.7 368.4h.5v.5h-.5zM427.2 368.4h.5v.5h-.5zM429.7 368.4h.5v.5h-.5zM430.2 368.4h.5v.5h-.5zM434.7 368.4h.5v.5h-.5zM436.7 368.4h.5v.5h-.5zM437.2 368.4h.5v.5h-.5zM441.7 368.4h.5v.5h-.5zM442.7 368.4h.5v.5h-.5zM445.7 368.4h.5v.5h-.5zM450.2 368.4h.5v.5h-.5zM450.7 368.4h.5v.5h-.5zM429.7 368.9h.5v.5h-.5zM430.2 368.9h.5v.5h-.5zM432.7 368.9h.5v.5h-.5zM433.2 368.9h.5v.5h-.5zM434.7 368.9h.5v.5h-.5zM436.2 368.9h.5v.5h-.5zM443.2 368.9h.5v.5h-.5zM443.7 368.9h.5v.5h-.5zM444.2 368.9h.5v.5h-.5zM445.7 368.9h.5v.5h-.5zM447.2 368.9h.5v.5h-.5zM447.7 368.9h.5v.5h-.5zM448.7 368.9h.5v.5h-.5zM449.2 368.9h.5v.5h-.5zM450.2 368.9h.5v.5h-.5zM450.7 368.9h.5v.5h-.5zM428.7 369.4h.5v.5h-.5zM429.2 369.4h.5v.5h-.5zM429.7 369.4h.5v.5h-.5zM430.2 369.4h.5v.5h-.5zM430.7 369.4h.5v.5h-.5zM431.2 369.4h.5v.5h-.5zM433.7 369.4h.5v.5h-.5zM434.2 369.4h.5v.5h-.5zM436.2 369.4h.5v.5h-.5zM438.2 369.4h.5v.5h-.5zM442.7 369.4h.5v.5h-.5zM443.2 369.4h.5v.5h-.5zM445.2 369.4h.5v.5h-.5zM445.7 369.4h.5v.5h-.5zM447.2 369.4h.5v.5h-.5zM447.7 369.4h.5v.5h-.5zM448.7 369.4h.5v.5h-.5zM449.2 369.4h.5v.5h-.5zM428.7 369.9h.5v.5h-.5zM429.2 369.9h.5v.5h-.5zM429.7 369.9h.5v.5h-.5zM430.2 369.9h.5v.5h-.5zM430.7 369.9h.5v.5h-.5zM432.2 369.9h.5v.5h-.5zM433.7 369.9h.5v.5h-.5zM434.2 369.9h.5v.5h-.5zM434.7 369.9h.5v.5h-.5zM435.2 369.9h.5v.5h-.5zM437.7 369.9h.5v.5h-.5zM439.2 369.9h.5v.5h-.5zM441.2 369.9h.5v.5h-.5zM442.2 369.9h.5v.5h-.5zM443.7 369.9h.5v.5h-.5zM431.2 370.4h.5v.5h-.5zM432.2 370.4h.5v.5h-.5zM436.2 370.4h.5v.5h-.5zM438.2 370.4h.5v.5h-.5zM438.7 370.4h.5v.5h-.5zM442.2 370.4h.5v.5h-.5zM442.7 370.4h.5v.5h-.5zM443.2 370.4h.5v.5h-.5zM443.7 370.4h.5v.5h-.5zM427.7 370.9h.5v.5h-.5zM428.2 370.9h.5v.5h-.5zM432.2 370.9h.5v.5h-.5zM435.7 370.9h.5v.5h-.5zM439.2 370.9h.5v.5h-.5zM456.7 370.9h.5v.5h-.5zM457.2 370.9h.5v.5h-.5zM427.7 371.4h.5v.5h-.5zM428.2 371.4h.5v.5h-.5zM431.2 371.4h.5v.5h-.5zM431.7 371.4h.5v.5h-.5zM432.2 371.4h.5v.5h-.5zM435.7 371.4h.5v.5h-.5zM456.7 371.4h.5v.5h-.5zM457.2 371.4h.5v.5h-.5zM428.2 371.9h.5v.5h-.5zM430.2 371.9h.5v.5h-.5zM431.2 371.9h.5v.5h-.5zM431.7 371.9h.5v.5h-.5zM432.7 371.9h.5v.5h-.5zM435.2 371.9h.5v.5h-.5zM439.7 371.9h.5v.5h-.5zM440.7 371.9h.5v.5h-.5zM441.2 371.9h.5v.5h-.5zM426.2 372.4h.5v.5h-.5zM426.7 372.4h.5v.5h-.5zM430.2 372.4h.5v.5h-.5zM430.7 372.4h.5v.5h-.5zM431.7 372.4h.5v.5h-.5zM432.2 372.4h.5v.5h-.5zM435.7 372.4h.5v.5h-.5zM436.2 372.4h.5v.5h-.5zM438.2 372.4h.5v.5h-.5zM440.7 372.4h.5v.5h-.5zM441.2 372.4h.5v.5h-.5zM442.2 372.4h.5v.5h-.5zM442.7 372.4h.5v.5h-.5zM426.2 372.9h.5v.5h-.5zM426.7 372.9h.5v.5h-.5zM427.7 372.9h.5v.5h-.5zM435.7 372.9h.5v.5h-.5zM436.2 372.9h.5v.5h-.5zM437.2 372.9h.5v.5h-.5zM439.7 372.9h.5v.5h-.5zM441.2 372.9h.5v.5h-.5zM441.7 372.9h.5v.5h-.5zM442.2 372.9h.5v.5h-.5zM442.7 372.9h.5v.5h-.5zM444.2 372.9h.5v.5h-.5zM444.7 372.9h.5v.5h-.5zM427.7 373.4h.5v.5h-.5zM428.2 373.4h.5v.5h-.5zM433.7 373.4h.5v.5h-.5zM437.2 373.4h.5v.5h-.5zM441.2 373.4h.5v.5h-.5zM441.7 373.4h.5v.5h-.5zM444.2 373.4h.5v.5h-.5zM444.7 373.4h.5v.5h-.5zM425.2 373.9h.5v.5h-.5zM425.7 373.9h.5v.5h-.5zM426.7 373.9h.5v.5h-.5zM429.2 373.9h.5v.5h-.5zM429.7 373.9h.5v.5h-.5zM439.2 373.9h.5v.5h-.5zM439.7 373.9h.5v.5h-.5zM440.2 373.9h.5v.5h-.5zM421.7 374.4h.5v.5h-.5zM422.2 374.4h.5v.5h-.5zM425.2 374.4h.5v.5h-.5zM425.7 374.4h.5v.5h-.5zM426.2 374.4h.5v.5h-.5zM430.2 374.4h.5v.5h-.5zM435.2 374.4h.5v.5h-.5zM435.7 374.4h.5v.5h-.5zM438.2 374.4h.5v.5h-.5zM438.7 374.4h.5v.5h-.5zM439.2 374.4h.5v.5h-.5zM439.7 374.4h.5v.5h-.5zM440.2 374.4h.5v.5h-.5zM421.7 374.9h.5v.5h-.5zM422.2 374.9h.5v.5h-.5zM426.2 374.9h.5v.5h-.5zM426.7 374.9h.5v.5h-.5zM433.2 374.9h.5v.5h-.5zM435.2 374.9h.5v.5h-.5zM435.7 374.9h.5v.5h-.5zM436.2 374.9h.5v.5h-.5zM437.2 374.9h.5v.5h-.5zM437.7 374.9h.5v.5h-.5zM438.7 374.9h.5v.5h-.5zM439.2 374.9h.5v.5h-.5zM439.7 374.9h.5v.5h-.5zM440.2 374.9h.5v.5h-.5zM421.2 375.4h.5v.5h-.5zM421.7 375.4h.5v.5h-.5zM424.2 375.4h.5v.5h-.5zM426.2 375.4h.5v.5h-.5zM428.7 375.4h.5v.5h-.5zM436.2 375.4h.5v.5h-.5zM439.7 375.4h.5v.5h-.5zM440.2 375.4h.5v.5h-.5zM440.7 375.4h.5v.5h-.5zM441.2 375.4h.5v.5h-.5zM421.2 375.9h.5v.5h-.5zM421.7 375.9h.5v.5h-.5zM424.2 375.9h.5v.5h-.5zM426.2 375.9h.5v.5h-.5zM427.7 375.9h.5v.5h-.5zM430.2 375.9h.5v.5h-.5zM434.7 375.9h.5v.5h-.5zM435.2 375.9h.5v.5h-.5zM435.7 375.9h.5v.5h-.5zM437.2 375.9h.5v.5h-.5zM437.7 375.9h.5v.5h-.5zM440.7 375.9h.5v.5h-.5zM441.2 375.9h.5v.5h-.5zM425.7 376.4h.5v.5h-.5zM433.2 376.4h.5v.5h-.5zM434.2 376.4h.5v.5h-.5zM437.2 376.4h.5v.5h-.5zM438.2 376.4h.5v.5h-.5zM422.7 376.9h.5v.5h-.5zM424.7 376.9h.5v.5h-.5zM425.2 376.9h.5v.5h-.5zM425.7 376.9h.5v.5h-.5zM430.7 376.9h.5v.5h-.5zM433.2 376.9h.5v.5h-.5zM433.7 376.9h.5v.5h-.5zM437.7 376.9h.5v.5h-.5zM438.2 376.9h.5v.5h-.5zM417.7 377.4h.5v.5h-.5zM418.2 377.4h.5v.5h-.5zM422.2 377.4h.5v.5h-.5zM430.7 377.4h.5v.5h-.5zM417.7 377.9h.5v.5h-.5zM418.2 377.9h.5v.5h-.5zM420.2 377.9h.5v.5h-.5zM420.7 377.9h.5v.5h-.5zM433.2 377.9h.5v.5h-.5zM436.2 377.9h.5v.5h-.5zM437.7 377.9h.5v.5h-.5zM418.2 378.4h.5v.5h-.5zM418.7 378.4h.5v.5h-.5zM419.7 378.4h.5v.5h-.5zM420.7 378.4h.5v.5h-.5zM428.7 378.4h.5v.5h-.5zM432.7 378.4h.5v.5h-.5zM436.2 378.4h.5v.5h-.5zM437.7 378.4h.5v.5h-.5zM419.7 378.9h.5v.5h-.5zM420.2 378.9h.5v.5h-.5zM420.7 378.9h.5v.5h-.5zM421.2 378.9h.5v.5h-.5zM421.7 378.9h.5v.5h-.5zM433.2 378.9h.5v.5h-.5zM418.2 379.4h.5v.5h-.5zM418.7 379.4h.5v.5h-.5zM420.7 379.4h.5v.5h-.5zM421.7 379.4h.5v.5h-.5zM424.7 379.4h.5v.5h-.5zM433.2 379.4h.5v.5h-.5zM418.2 379.9h.5v.5h-.5zM418.7 379.9h.5v.5h-.5zM431.2 379.9h.5v.5h-.5zM415.7 380.4h.5v.5h-.5zM416.2 380.4h.5v.5h-.5zM418.2 380.4h.5v.5h-.5zM418.7 380.4h.5v.5h-.5zM420.2 380.4h.5v.5h-.5zM430.7 380.4h.5v.5h-.5zM431.2 380.4h.5v.5h-.5zM431.7 380.4h.5v.5h-.5zM432.2 380.4h.5v.5h-.5zM436.7 380.4h.5v.5h-.5zM437.2 380.4h.5v.5h-.5zM415.2 380.9h.5v.5h-.5zM416.2 380.9h.5v.5h-.5zM429.2 380.9h.5v.5h-.5zM436.7 380.9h.5v.5h-.5zM437.2 380.9h.5v.5h-.5zM413.7 381.4h.5v.5h-.5zM414.2 381.4h.5v.5h-.5zM416.2 381.4h.5v.5h-.5zM416.7 381.4h.5v.5h-.5zM419.2 381.4h.5v.5h-.5zM429.2 381.4h.5v.5h-.5zM430.7 381.4h.5v.5h-.5zM413.7 381.9h.5v.5h-.5zM414.2 381.9h.5v.5h-.5zM417.7 381.9h.5v.5h-.5zM415.2 382.4h.5v.5h-.5zM415.7 382.4h.5v.5h-.5zM416.2 382.4h.5v.5h-.5zM416.7 382.4h.5v.5h-.5zM431.2 382.4h.5v.5h-.5zM432.2 382.4h.5v.5h-.5zM438.7 382.4h.5v.5h-.5zM439.2 382.4h.5v.5h-.5zM416.7 382.9h.5v.5h-.5zM429.2 382.9h.5v.5h-.5zM429.7 382.9h.5v.5h-.5zM436.2 382.9h.5v.5h-.5zM436.7 382.9h.5v.5h-.5zM438.7 382.9h.5v.5h-.5zM439.2 382.9h.5v.5h-.5zM427.7 383.4h.5v.5h-.5zM432.2 383.4h.5v.5h-.5zM432.7 383.4h.5v.5h-.5zM436.2 383.4h.5v.5h-.5zM436.7 383.4h.5v.5h-.5zM414.2 383.9h.5v.5h-.5zM425.7 383.9h.5v.5h-.5zM426.2 383.9h.5v.5h-.5zM427.7 383.9h.5v.5h-.5zM428.2 383.9h.5v.5h-.5zM428.7 383.9h.5v.5h-.5zM432.2 383.9h.5v.5h-.5zM432.7 383.9h.5v.5h-.5zM425.7 384.4h.5v.5h-.5zM426.2 384.4h.5v.5h-.5zM426.7 384.4h.5v.5h-.5zM428.2 384.4h.5v.5h-.5zM410.7 384.9h.5v.5h-.5zM426.2 384.9h.5v.5h-.5zM427.2 384.9h.5v.5h-.5zM428.2 384.9h.5v.5h-.5zM423.7 385.4h.5v.5h-.5zM424.2 385.4h.5v.5h-.5zM429.7 385.4h.5v.5h-.5zM430.2 385.4h.5v.5h-.5zM410.2 385.9h.5v.5h-.5zM412.2 385.9h.5v.5h-.5zM429.7 385.9h.5v.5h-.5zM430.2 385.9h.5v.5h-.5zM409.2 386.4h.5v.5h-.5zM409.7 386.4h.5v.5h-.5zM425.7 386.4h.5v.5h-.5zM430.2 386.4h.5v.5h-.5zM430.7 386.4h.5v.5h-.5zM409.2 386.9h.5v.5h-.5zM409.7 386.9h.5v.5h-.5zM411.2 386.9h.5v.5h-.5zM425.7 386.9h.5v.5h-.5zM430.2 386.9h.5v.5h-.5zM430.7 386.9h.5v.5h-.5zM409.7 387.4h.5v.5h-.5zM422.7 387.4h.5v.5h-.5zM425.2 387.4h.5v.5h-.5zM408.7 387.9h.5v.5h-.5zM409.2 387.9h.5v.5h-.5zM409.7 387.9h.5v.5h-.5zM410.2 387.9h.5v.5h-.5zM410.7 387.9h.5v.5h-.5zM406.7 388.4h.5v.5h-.5zM407.2 388.4h.5v.5h-.5zM422.2 388.4h.5v.5h-.5zM424.2 388.4h.5v.5h-.5zM406.2 388.9h.5v.5h-.5zM423.7 388.9h.5v.5h-.5zM424.2 388.9h.5v.5h-.5zM424.7 388.9h.5v.5h-.5zM425.2 388.9h.5v.5h-.5zM406.2 389.4h.5v.5h-.5zM422.2 389.4h.5v.5h-.5zM423.7 389.4h.5v.5h-.5zM424.2 389.4h.5v.5h-.5zM424.7 389.4h.5v.5h-.5zM425.2 389.4h.5v.5h-.5zM423.2 389.9h.5v.5h-.5zM424.2 389.9h.5v.5h-.5zM406.2 390.4h.5v.5h-.5zM419.7 390.4h.5v.5h-.5zM421.7 390.4h.5v.5h-.5zM423.2 390.4h.5v.5h-.5zM423.7 390.4h.5v.5h-.5zM404.2 390.9h.5v.5h-.5zM404.7 390.9h.5v.5h-.5zM406.2 390.9h.5v.5h-.5zM420.7 390.9h.5v.5h-.5zM422.2 390.9h.5v.5h-.5zM422.7 390.9h.5v.5h-.5zM423.2 390.9h.5v.5h-.5zM423.7 390.9h.5v.5h-.5zM405.2 391.4h.5v.5h-.5zM420.7 391.4h.5v.5h-.5zM421.2 391.4h.5v.5h-.5zM421.7 391.4h.5v.5h-.5zM422.2 391.4h.5v.5h-.5zM422.7 391.4h.5v.5h-.5zM423.2 391.4h.5v.5h-.5zM423.7 391.4h.5v.5h-.5zM401.7 391.9h.5v.5h-.5zM402.2 391.9h.5v.5h-.5zM404.2 391.9h.5v.5h-.5zM404.7 391.9h.5v.5h-.5zM419.7 391.9h.5v.5h-.5zM420.2 391.9h.5v.5h-.5zM421.7 391.9h.5v.5h-.5zM422.2 391.9h.5v.5h-.5zM401.7 392.4h.5v.5h-.5zM402.2 392.4h.5v.5h-.5zM403.7 392.4h.5v.5h-.5zM404.2 392.4h.5v.5h-.5zM405.2 392.4h.5v.5h-.5zM420.2 392.4h.5v.5h-.5zM420.7 392.4h.5v.5h-.5zM421.7 392.4h.5v.5h-.5zM422.2 392.4h.5v.5h-.5zM419.2 392.9h.5v.5h-.5zM420.2 392.9h.5v.5h-.5zM420.7 392.9h.5v.5h-.5zM403.2 393.4h.5v.5h-.5zM418.2 393.4h.5v.5h-.5zM418.7 393.4h.5v.5h-.5zM402.2 393.9h.5v.5h-.5zM418.2 393.9h.5v.5h-.5zM402.2 394.4h.5v.5h-.5zM416.7 394.4h.5v.5h-.5zM418.2 394.4h.5v.5h-.5zM419.7 394.4h.5v.5h-.5zM420.2 394.4h.5v.5h-.5zM400.7 394.9h.5v.5h-.5zM416.2 394.9h.5v.5h-.5zM416.7 394.9h.5v.5h-.5zM417.7 394.9h.5v.5h-.5zM419.7 394.9h.5v.5h-.5zM420.2 394.9h.5v.5h-.5zM400.2 395.4h.5v.5h-.5zM415.7 395.4h.5v.5h-.5zM416.7 395.4h.5v.5h-.5zM417.7 395.4h.5v.5h-.5zM418.2 395.4h.5v.5h-.5zM418.7 395.4h.5v.5h-.5zM398.2 395.9h.5v.5h-.5zM398.7 395.9h.5v.5h-.5zM399.7 395.9h.5v.5h-.5zM414.7 395.9h.5v.5h-.5zM415.2 395.9h.5v.5h-.5zM417.2 395.9h.5v.5h-.5zM417.7 395.9h.5v.5h-.5zM418.2 395.9h.5v.5h-.5zM418.7 395.9h.5v.5h-.5zM399.7 396.4h.5v.5h-.5zM401.2 396.4h.5v.5h-.5zM414.7 396.4h.5v.5h-.5zM415.2 396.4h.5v.5h-.5zM416.2 396.4h.5v.5h-.5zM416.7 396.4h.5v.5h-.5zM397.7 396.9h.5v.5h-.5zM399.7 396.9h.5v.5h-.5zM413.7 396.9h.5v.5h-.5zM416.2 396.9h.5v.5h-.5zM416.7 396.9h.5v.5h-.5zM413.2 397.4h.5v.5h-.5zM414.2 397.4h.5v.5h-.5zM412.7 397.9h.5v.5h-.5zM413.2 397.9h.5v.5h-.5zM414.2 397.9h.5v.5h-.5zM417.2 397.9h.5v.5h-.5zM417.7 397.9h.5v.5h-.5zM396.2 398.4h.5v.5h-.5zM396.7 398.4h.5v.5h-.5zM397.7 398.4h.5v.5h-.5zM412.7 398.4h.5v.5h-.5zM413.7 398.4h.5v.5h-.5zM417.2 398.4h.5v.5h-.5zM417.7 398.4h.5v.5h-.5zM396.2 398.9h.5v.5h-.5zM397.2 398.9h.5v.5h-.5zM412.2 398.9h.5v.5h-.5zM412.7 398.9h.5v.5h-.5zM413.2 398.9h.5v.5h-.5zM395.7 399.4h.5v.5h-.5zM396.2 399.4h.5v.5h-.5zM396.7 399.4h.5v.5h-.5zM397.2 399.4h.5v.5h-.5zM411.7 399.4h.5v.5h-.5zM395.7 399.9h.5v.5h-.5zM410.2 399.9h.5v.5h-.5zM409.7 400.4h.5v.5h-.5zM410.2 400.4h.5v.5h-.5zM411.2 400.4h.5v.5h-.5zM411.7 400.4h.5v.5h-.5zM394.2 400.9h.5v.5h-.5zM409.7 400.9h.5v.5h-.5zM410.2 400.9h.5v.5h-.5zM410.7 400.9h.5v.5h-.5zM394.2 401.4h.5v.5h-.5zM409.2 401.4h.5v.5h-.5zM410.7 401.4h.5v.5h-.5zM411.7 401.4h.5v.5h-.5zM413.2 401.4h.5v.5h-.5zM413.7 401.4h.5v.5h-.5zM390.7 401.9h.5v.5h-.5zM391.2 401.9h.5v.5h-.5zM394.2 401.9h.5v.5h-.5zM409.2 401.9h.5v.5h-.5zM410.2 401.9h.5v.5h-.5zM410.7 401.9h.5v.5h-.5zM411.2 401.9h.5v.5h-.5zM411.7 401.9h.5v.5h-.5zM413.2 401.9h.5v.5h-.5zM413.7 401.9h.5v.5h-.5zM390.7 402.4h.5v.5h-.5zM391.2 402.4h.5v.5h-.5zM392.2 402.4h.5v.5h-.5zM409.2 402.4h.5v.5h-.5zM410.2 402.4h.5v.5h-.5zM410.7 402.4h.5v.5h-.5zM411.2 402.4h.5v.5h-.5zM411.7 402.4h.5v.5h-.5zM392.2 402.9h.5v.5h-.5zM392.2 403.4h.5v.5h-.5zM392.7 403.4h.5v.5h-.5zM406.2 403.4h.5v.5h-.5zM406.7 403.4h.5v.5h-.5zM407.7 403.4h.5v.5h-.5zM408.2 403.4h.5v.5h-.5zM408.7 403.4h.5v.5h-.5zM406.2 403.9h.5v.5h-.5zM407.2 403.9h.5v.5h-.5zM407.7 403.9h.5v.5h-.5zM408.2 403.9h.5v.5h-.5zM408.7 403.9h.5v.5h-.5zM406.2 404.4h.5v.5h-.5zM409.2 404.4h.5v.5h-.5zM409.7 404.4h.5v.5h-.5zM388.2 404.9h.5v.5h-.5zM388.7 404.9h.5v.5h-.5zM390.2 404.9h.5v.5h-.5zM404.7 404.9h.5v.5h-.5zM405.2 404.9h.5v.5h-.5zM406.2 404.9h.5v.5h-.5zM406.7 404.9h.5v.5h-.5zM407.7 404.9h.5v.5h-.5zM409.2 404.9h.5v.5h-.5zM409.7 404.9h.5v.5h-.5zM386.7 405.4h.5v.5h-.5zM387.2 405.4h.5v.5h-.5zM388.2 405.4h.5v.5h-.5zM406.7 405.4h.5v.5h-.5zM407.7 405.4h.5v.5h-.5zM382.2 405.9h.5v.5h-.5zM382.7 405.9h.5v.5h-.5zM386.7 405.9h.5v.5h-.5zM387.2 405.9h.5v.5h-.5zM388.7 405.9h.5v.5h-.5zM382.2 406.4h.5v.5h-.5zM382.7 406.4h.5v.5h-.5zM388.7 406.4h.5v.5h-.5zM389.2 406.4h.5v.5h-.5zM389.7 406.4h.5v.5h-.5zM402.7 406.4h.5v.5h-.5zM403.2 406.4h.5v.5h-.5zM404.2 406.4h.5v.5h-.5zM404.7 406.4h.5v.5h-.5zM387.7 406.9h.5v.5h-.5zM388.2 406.9h.5v.5h-.5zM402.7 406.9h.5v.5h-.5zM404.2 406.9h.5v.5h-.5zM404.7 406.9h.5v.5h-.5zM387.7 407.4h.5v.5h-.5zM388.2 407.4h.5v.5h-.5zM402.7 407.4h.5v.5h-.5zM403.2 407.4h.5v.5h-.5zM404.2 407.4h.5v.5h-.5zM401.2 407.9h.5v.5h-.5zM401.7 407.9h.5v.5h-.5zM402.2 407.9h.5v.5h-.5zM403.2 407.9h.5v.5h-.5zM404.2 407.9h.5v.5h-.5zM386.7 408.4h.5v.5h-.5zM401.2 408.4h.5v.5h-.5zM401.7 408.4h.5v.5h-.5zM386.2 408.9h.5v.5h-.5zM399.7 408.9h.5v.5h-.5zM401.2 408.9h.5v.5h-.5zM401.7 408.9h.5v.5h-.5zM385.7 409.4h.5v.5h-.5zM400.2 409.4h.5v.5h-.5zM400.7 409.4h.5v.5h-.5zM401.2 409.4h.5v.5h-.5zM385.2 409.9h.5v.5h-.5zM399.7 409.9h.5v.5h-.5zM400.7 409.9h.5v.5h-.5zM401.2 409.9h.5v.5h-.5zM384.7 410.4h.5v.5h-.5zM397.7 410.4h.5v.5h-.5zM397.7 410.9h.5v.5h-.5zM398.2 410.9h.5v.5h-.5zM400.7 410.9h.5v.5h-.5zM401.2 410.9h.5v.5h-.5zM380.7 411.4h.5v.5h-.5zM381.2 411.4h.5v.5h-.5zM383.2 411.4h.5v.5h-.5zM383.7 411.4h.5v.5h-.5zM384.2 411.4h.5v.5h-.5zM396.7 411.4h.5v.5h-.5zM397.2 411.4h.5v.5h-.5zM397.7 411.4h.5v.5h-.5zM400.2 411.4h.5v.5h-.5zM401.2 411.4h.5v.5h-.5zM380.7 411.9h.5v.5h-.5zM381.2 411.9h.5v.5h-.5zM382.2 411.9h.5v.5h-.5zM382.7 411.9h.5v.5h-.5zM383.2 411.9h.5v.5h-.5zM400.2 411.9h.5v.5h-.5zM400.7 411.9h.5v.5h-.5zM379.2 412.4h.5v.5h-.5zM379.7 412.4h.5v.5h-.5zM381.7 412.4h.5v.5h-.5zM379.2 412.9h.5v.5h-.5zM379.7 412.9h.5v.5h-.5zM381.7 412.9h.5v.5h-.5zM396.7 412.9h.5v.5h-.5zM393.2 413.4h.5v.5h-.5zM380.7 413.9h.5v.5h-.5zM393.7 413.9h.5v.5h-.5zM396.2 413.9h.5v.5h-.5zM397.2 413.9h.5v.5h-.5zM377.7 414.4h.5v.5h-.5zM378.2 414.4h.5v.5h-.5zM380.7 414.4h.5v.5h-.5zM394.7 414.4h.5v.5h-.5zM396.7 414.4h.5v.5h-.5zM397.2 414.4h.5v.5h-.5zM377.7 414.9h.5v.5h-.5zM394.2 414.9h.5v.5h-.5zM394.7 414.9h.5v.5h-.5zM377.2 415.4h.5v.5h-.5zM377.7 415.4h.5v.5h-.5zM393.7 415.4h.5v.5h-.5zM394.2 415.4h.5v.5h-.5zM394.7 415.4h.5v.5h-.5zM377.2 415.9h.5v.5h-.5zM377.7 415.9h.5v.5h-.5zM378.2 415.9h.5v.5h-.5zM391.7 415.9h.5v.5h-.5zM375.2 416.4h.5v.5h-.5zM375.7 416.4h.5v.5h-.5zM376.2 416.4h.5v.5h-.5zM376.7 416.4h.5v.5h-.5zM377.7 416.4h.5v.5h-.5zM391.7 416.4h.5v.5h-.5zM393.7 416.4h.5v.5h-.5zM395.2 416.4h.5v.5h-.5zM395.7 416.4h.5v.5h-.5zM375.2 416.9h.5v.5h-.5zM392.2 416.9h.5v.5h-.5zM393.2 416.9h.5v.5h-.5zM393.7 416.9h.5v.5h-.5zM395.2 416.9h.5v.5h-.5zM395.7 416.9h.5v.5h-.5zM375.7 417.4h.5v.5h-.5zM391.2 417.4h.5v.5h-.5zM391.7 417.4h.5v.5h-.5zM392.2 417.4h.5v.5h-.5zM375.2 417.9h.5v.5h-.5zM389.2 417.9h.5v.5h-.5zM389.7 417.9h.5v.5h-.5zM390.2 417.9h.5v.5h-.5zM391.2 417.9h.5v.5h-.5zM391.7 417.9h.5v.5h-.5zM389.2 418.4h.5v.5h-.5zM389.7 418.4h.5v.5h-.5zM390.2 418.4h.5v.5h-.5zM391.2 418.4h.5v.5h-.5zM391.7 418.4h.5v.5h-.5zM372.7 418.9h.5v.5h-.5zM373.2 418.9h.5v.5h-.5zM374.7 418.9h.5v.5h-.5zM388.7 418.9h.5v.5h-.5zM389.7 418.9h.5v.5h-.5zM390.7 418.9h.5v.5h-.5zM391.2 418.9h.5v.5h-.5zM372.7 419.4h.5v.5h-.5zM388.7 419.4h.5v.5h-.5zM389.2 419.4h.5v.5h-.5zM389.7 419.4h.5v.5h-.5zM390.7 419.4h.5v.5h-.5zM391.2 419.4h.5v.5h-.5zM373.2 419.9h.5v.5h-.5zM374.7 419.9h.5v.5h-.5zM387.7 419.9h.5v.5h-.5zM388.2 419.9h.5v.5h-.5zM388.7 419.9h.5v.5h-.5zM389.7 419.9h.5v.5h-.5zM390.2 419.9h.5v.5h-.5zM387.7 420.4h.5v.5h-.5zM389.7 420.4h.5v.5h-.5zM390.2 420.4h.5v.5h-.5zM370.7 420.9h.5v.5h-.5zM371.2 420.9h.5v.5h-.5zM387.7 420.9h.5v.5h-.5zM370.7 421.4h.5v.5h-.5zM371.2 421.4h.5v.5h-.5zM372.7 421.4h.5v.5h-.5zM373.2 421.4h.5v.5h-.5zM385.7 421.4h.5v.5h-.5zM371.7 421.9h.5v.5h-.5zM386.2 422.4h.5v.5h-.5zM386.7 422.4h.5v.5h-.5zM369.7 422.9h.5v.5h-.5zM370.2 422.9h.5v.5h-.5zM370.7 422.9h.5v.5h-.5zM385.2 422.9h.5v.5h-.5zM385.7 422.9h.5v.5h-.5zM386.2 422.9h.5v.5h-.5zM386.7 422.9h.5v.5h-.5zM369.7 423.4h.5v.5h-.5zM384.7 423.4h.5v.5h-.5zM385.2 423.4h.5v.5h-.5zM385.7 423.4h.5v.5h-.5zM384.2 423.9h.5v.5h-.5zM384.7 423.9h.5v.5h-.5zM367.2 424.4h.5v.5h-.5zM367.7 424.4h.5v.5h-.5zM382.2 424.4h.5v.5h-.5zM384.2 424.4h.5v.5h-.5zM384.7 424.4h.5v.5h-.5zM364.2 424.9h.5v.5h-.5zM364.7 424.9h.5v.5h-.5zM367.2 424.9h.5v.5h-.5zM367.7 424.9h.5v.5h-.5zM381.2 424.9h.5v.5h-.5zM364.2 425.4h.5v.5h-.5zM364.7 425.4h.5v.5h-.5zM366.7 425.4h.5v.5h-.5zM367.7 425.4h.5v.5h-.5zM381.7 425.4h.5v.5h-.5zM383.7 425.4h.5v.5h-.5zM384.2 425.4h.5v.5h-.5zM365.7 425.9h.5v.5h-.5zM366.2 425.9h.5v.5h-.5zM381.2 425.9h.5v.5h-.5zM382.7 425.9h.5v.5h-.5zM383.2 425.9h.5v.5h-.5zM383.7 425.9h.5v.5h-.5zM384.2 425.9h.5v.5h-.5zM365.7 426.4h.5v.5h-.5zM382.7 426.4h.5v.5h-.5zM383.2 426.4h.5v.5h-.5zM380.2 426.9h.5v.5h-.5zM380.7 426.9h.5v.5h-.5zM381.2 426.9h.5v.5h-.5zM364.7 427.4h.5v.5h-.5zM365.2 427.4h.5v.5h-.5zM365.7 427.4h.5v.5h-.5zM380.2 427.4h.5v.5h-.5zM362.2 427.9h.5v.5h-.5zM363.2 427.9h.5v.5h-.5zM363.7 427.9h.5v.5h-.5zM364.2 427.9h.5v.5h-.5zM380.2 427.9h.5v.5h-.5zM380.7 427.9h.5v.5h-.5zM362.2 428.4h.5v.5h-.5zM363.2 428.4h.5v.5h-.5zM363.7 428.4h.5v.5h-.5zM364.2 428.4h.5v.5h-.5zM364.7 428.4h.5v.5h-.5zM365.2 428.4h.5v.5h-.5zM380.2 428.4h.5v.5h-.5zM380.7 428.4h.5v.5h-.5zM363.7 428.9h.5v.5h-.5zM377.2 428.9h.5v.5h-.5zM377.7 428.9h.5v.5h-.5zM378.2 428.9h.5v.5h-.5zM379.2 428.9h.5v.5h-.5zM363.7 429.4h.5v.5h-.5zM377.2 429.4h.5v.5h-.5zM380.2 429.4h.5v.5h-.5zM380.7 429.4h.5v.5h-.5zM359.7 429.9h.5v.5h-.5zM360.2 429.9h.5v.5h-.5zM360.7 429.9h.5v.5h-.5zM361.2 429.9h.5v.5h-.5zM362.2 429.9h.5v.5h-.5zM362.7 429.9h.5v.5h-.5zM363.7 429.9h.5v.5h-.5zM380.2 429.9h.5v.5h-.5zM380.7 429.9h.5v.5h-.5zM359.7 430.4h.5v.5h-.5zM360.2 430.4h.5v.5h-.5zM360.7 430.4h.5v.5h-.5zM361.2 430.4h.5v.5h-.5zM361.7 430.4h.5v.5h-.5zM376.7 430.4h.5v.5h-.5zM377.2 430.4h.5v.5h-.5zM361.2 430.9h.5v.5h-.5zM359.7 431.4h.5v.5h-.5zM376.7 431.4h.5v.5h-.5zM359.7 431.9h.5v.5h-.5zM375.7 431.9h.5v.5h-.5zM376.2 431.9h.5v.5h-.5zM376.7 431.9h.5v.5h-.5zM358.2 432.4h.5v.5h-.5zM358.7 432.4h.5v.5h-.5zM360.2 432.4h.5v.5h-.5zM374.2 432.4h.5v.5h-.5zM376.2 432.4h.5v.5h-.5zM355.7 432.9h.5v.5h-.5zM356.2 432.9h.5v.5h-.5zM358.2 432.9h.5v.5h-.5zM374.2 432.9h.5v.5h-.5zM375.7 432.9h.5v.5h-.5zM376.2 432.9h.5v.5h-.5zM355.7 433.4h.5v.5h-.5zM356.2 433.4h.5v.5h-.5zM358.7 433.4h.5v.5h-.5zM373.2 433.4h.5v.5h-.5zM373.7 433.4h.5v.5h-.5zM374.2 433.4h.5v.5h-.5zM358.2 433.9h.5v.5h-.5zM358.7 433.9h.5v.5h-.5zM360.2 433.9h.5v.5h-.5zM360.7 433.9h.5v.5h-.5zM372.7 433.9h.5v.5h-.5zM373.7 433.9h.5v.5h-.5zM374.2 433.9h.5v.5h-.5zM357.2 434.4h.5v.5h-.5zM357.7 434.4h.5v.5h-.5zM373.2 434.4h.5v.5h-.5zM357.2 434.9h.5v.5h-.5zM357.7 434.9h.5v.5h-.5zM371.2 434.9h.5v.5h-.5zM371.7 434.9h.5v.5h-.5zM372.7 434.9h.5v.5h-.5zM373.7 434.9h.5v.5h-.5zM352.7 435.4h.5v.5h-.5zM353.2 435.4h.5v.5h-.5zM356.2 435.4h.5v.5h-.5zM371.2 435.4h.5v.5h-.5zM373.2 435.4h.5v.5h-.5zM373.7 435.4h.5v.5h-.5zM352.7 435.9h.5v.5h-.5zM353.2 435.9h.5v.5h-.5zM356.2 435.9h.5v.5h-.5zM371.7 435.9h.5v.5h-.5zM353.2 436.4h.5v.5h-.5zM353.7 436.4h.5v.5h-.5zM370.7 436.4h.5v.5h-.5zM371.2 436.4h.5v.5h-.5zM371.7 436.4h.5v.5h-.5zM352.7 436.9h.5v.5h-.5zM353.7 436.9h.5v.5h-.5zM369.2 436.9h.5v.5h-.5zM370.2 436.9h.5v.5h-.5zM370.7 436.9h.5v.5h-.5zM371.2 436.9h.5v.5h-.5zM371.7 436.9h.5v.5h-.5zM351.2 437.4h.5v.5h-.5zM352.2 437.4h.5v.5h-.5zM352.7 437.4h.5v.5h-.5zM354.2 437.4h.5v.5h-.5zM356.2 437.4h.5v.5h-.5zM367.2 437.4h.5v.5h-.5zM367.7 437.4h.5v.5h-.5zM368.2 437.4h.5v.5h-.5zM368.7 437.4h.5v.5h-.5zM369.2 437.4h.5v.5h-.5zM369.7 437.4h.5v.5h-.5zM370.2 437.4h.5v.5h-.5zM371.2 437.4h.5v.5h-.5zM371.7 437.4h.5v.5h-.5zM351.2 437.9h.5v.5h-.5zM352.2 437.9h.5v.5h-.5zM353.2 437.9h.5v.5h-.5zM354.2 437.9h.5v.5h-.5zM367.2 437.9h.5v.5h-.5zM367.7 437.9h.5v.5h-.5zM368.7 437.9h.5v.5h-.5zM369.2 437.9h.5v.5h-.5zM353.2 438.4h.5v.5h-.5zM353.7 438.4h.5v.5h-.5zM354.2 438.4h.5v.5h-.5zM354.7 438.4h.5v.5h-.5zM366.7 438.4h.5v.5h-.5zM368.2 438.4h.5v.5h-.5zM369.7 438.4h.5v.5h-.5zM370.2 438.4h.5v.5h-.5zM349.7 438.9h.5v.5h-.5zM350.2 438.9h.5v.5h-.5zM352.7 438.9h.5v.5h-.5zM368.2 438.9h.5v.5h-.5zM349.2 439.4h.5v.5h-.5zM350.2 439.4h.5v.5h-.5zM352.7 439.4h.5v.5h-.5zM354.2 439.4h.5v.5h-.5zM366.2 439.4h.5v.5h-.5zM368.2 439.4h.5v.5h-.5zM368.7 439.4h.5v.5h-.5zM349.2 439.9h.5v.5h-.5zM349.7 439.9h.5v.5h-.5zM351.2 439.9h.5v.5h-.5zM354.2 439.9h.5v.5h-.5zM368.2 439.9h.5v.5h-.5zM368.7 439.9h.5v.5h-.5zM349.7 440.4h.5v.5h-.5zM350.2 440.4h.5v.5h-.5zM351.2 440.4h.5v.5h-.5zM349.7 440.9h.5v.5h-.5zM350.2 440.9h.5v.5h-.5zM350.7 440.9h.5v.5h-.5zM364.7 440.9h.5v.5h-.5zM365.2 440.9h.5v.5h-.5zM346.2 441.4h.5v.5h-.5zM346.7 441.4h.5v.5h-.5zM348.2 441.4h.5v.5h-.5zM349.2 441.4h.5v.5h-.5zM364.2 441.4h.5v.5h-.5zM346.2 441.9h.5v.5h-.5zM346.7 441.9h.5v.5h-.5zM348.2 441.9h.5v.5h-.5zM350.7 441.9h.5v.5h-.5zM364.7 441.9h.5v.5h-.5zM348.7 442.4h.5v.5h-.5zM349.2 442.4h.5v.5h-.5zM350.2 442.4h.5v.5h-.5zM350.7 442.4h.5v.5h-.5zM363.2 442.4h.5v.5h-.5zM365.2 442.4h.5v.5h-.5zM347.2 442.9h.5v.5h-.5zM348.2 442.9h.5v.5h-.5zM350.2 442.9h.5v.5h-.5zM350.7 442.9h.5v.5h-.5zM362.2 442.9h.5v.5h-.5zM363.7 442.9h.5v.5h-.5zM365.2 442.9h.5v.5h-.5zM346.2 443.4h.5v.5h-.5zM346.7 443.4h.5v.5h-.5zM347.2 443.4h.5v.5h-.5zM348.2 443.4h.5v.5h-.5zM350.2 443.4h.5v.5h-.5zM363.2 443.4h.5v.5h-.5zM346.2 443.9h.5v.5h-.5zM346.7 443.9h.5v.5h-.5zM347.2 443.9h.5v.5h-.5zM348.7 443.9h.5v.5h-.5zM363.2 443.9h.5v.5h-.5zM362.2 444.4h.5v.5h-.5zM348.2 444.9h.5v.5h-.5zM359.2 444.9h.5v.5h-.5zM360.7 444.9h.5v.5h-.5zM361.7 444.9h.5v.5h-.5zM344.7 445.4h.5v.5h-.5zM345.7 445.4h.5v.5h-.5zM359.2 445.4h.5v.5h-.5zM359.7 445.4h.5v.5h-.5zM360.2 445.4h.5v.5h-.5zM343.2 445.9h.5v.5h-.5zM343.7 445.9h.5v.5h-.5zM344.7 445.9h.5v.5h-.5zM345.7 445.9h.5v.5h-.5zM350.2 445.9h.5v.5h-.5zM360.7 445.9h.5v.5h-.5zM361.2 445.9h.5v.5h-.5zM343.2 446.4h.5v.5h-.5zM343.7 446.4h.5v.5h-.5zM345.2 446.4h.5v.5h-.5zM345.7 446.4h.5v.5h-.5zM346.2 446.4h.5v.5h-.5zM358.2 446.4h.5v.5h-.5zM358.7 446.4h.5v.5h-.5zM359.2 446.4h.5v.5h-.5zM360.2 446.4h.5v.5h-.5zM361.2 446.4h.5v.5h-.5zM342.7 446.9h.5v.5h-.5zM343.2 446.9h.5v.5h-.5zM344.2 446.9h.5v.5h-.5zM344.7 446.9h.5v.5h-.5zM345.2 446.9h.5v.5h-.5zM345.7 446.9h.5v.5h-.5zM346.2 446.9h.5v.5h-.5zM356.2 446.9h.5v.5h-.5zM356.7 446.9h.5v.5h-.5zM358.2 446.9h.5v.5h-.5zM360.2 446.9h.5v.5h-.5zM360.7 446.9h.5v.5h-.5zM342.2 447.4h.5v.5h-.5zM343.2 447.4h.5v.5h-.5zM344.2 447.4h.5v.5h-.5zM344.7 447.4h.5v.5h-.5zM348.2 447.4h.5v.5h-.5zM356.2 447.4h.5v.5h-.5zM356.7 447.4h.5v.5h-.5zM357.2 447.4h.5v.5h-.5zM357.7 447.4h.5v.5h-.5zM358.2 447.4h.5v.5h-.5zM358.7 447.4h.5v.5h-.5zM343.7 447.9h.5v.5h-.5zM344.2 447.9h.5v.5h-.5zM345.2 447.9h.5v.5h-.5zM355.7 447.9h.5v.5h-.5zM358.2 447.9h.5v.5h-.5zM358.7 447.9h.5v.5h-.5zM342.2 448.4h.5v.5h-.5zM343.2 448.4h.5v.5h-.5zM343.7 448.4h.5v.5h-.5zM356.2 448.4h.5v.5h-.5zM342.2 448.9h.5v.5h-.5zM339.7 449.4h.5v.5h-.5zM340.2 449.4h.5v.5h-.5zM342.2 449.4h.5v.5h-.5zM342.7 449.4h.5v.5h-.5zM343.2 449.4h.5v.5h-.5zM355.2 449.4h.5v.5h-.5zM339.7 449.9h.5v.5h-.5zM340.2 449.9h.5v.5h-.5zM342.7 449.9h.5v.5h-.5zM353.7 449.9h.5v.5h-.5zM342.2 450.4h.5v.5h-.5zM353.7 450.4h.5v.5h-.5zM354.2 450.4h.5v.5h-.5zM355.7 450.4h.5v.5h-.5zM356.2 450.4h.5v.5h-.5zM356.7 450.4h.5v.5h-.5zM338.7 450.9h.5v.5h-.5zM339.7 450.9h.5v.5h-.5zM352.2 450.9h.5v.5h-.5zM352.7 450.9h.5v.5h-.5zM353.2 450.9h.5v.5h-.5zM355.2 450.9h.5v.5h-.5zM355.7 450.9h.5v.5h-.5zM356.2 450.9h.5v.5h-.5zM357.2 450.9h.5v.5h-.5zM338.7 451.4h.5v.5h-.5zM339.7 451.4h.5v.5h-.5zM352.7 451.4h.5v.5h-.5zM353.7 451.4h.5v.5h-.5zM354.2 451.4h.5v.5h-.5zM356.7 451.4h.5v.5h-.5zM357.2 451.4h.5v.5h-.5zM340.2 451.9h.5v.5h-.5zM341.2 451.9h.5v.5h-.5zM344.2 451.9h.5v.5h-.5zM353.2 451.9h.5v.5h-.5zM339.2 452.4h.5v.5h-.5zM339.7 452.4h.5v.5h-.5zM341.7 452.4h.5v.5h-.5zM344.2 452.4h.5v.5h-.5zM346.2 452.4h.5v.5h-.5zM351.7 452.4h.5v.5h-.5zM352.2 452.4h.5v.5h-.5zM337.7 452.9h.5v.5h-.5zM338.2 452.9h.5v.5h-.5zM342.7 452.9h.5v.5h-.5zM345.7 452.9h.5v.5h-.5zM346.2 452.9h.5v.5h-.5zM349.7 452.9h.5v.5h-.5zM350.7 452.9h.5v.5h-.5zM351.2 452.9h.5v.5h-.5zM352.7 452.9h.5v.5h-.5zM353.2 452.9h.5v.5h-.5zM337.7 453.4h.5v.5h-.5zM338.2 453.4h.5v.5h-.5zM339.2 453.4h.5v.5h-.5zM340.2 453.4h.5v.5h-.5zM342.2 453.4h.5v.5h-.5zM345.7 453.4h.5v.5h-.5zM347.2 453.4h.5v.5h-.5zM349.2 453.4h.5v.5h-.5zM349.7 453.4h.5v.5h-.5zM351.7 453.4h.5v.5h-.5zM354.7 453.4h.5v.5h-.5zM355.2 453.4h.5v.5h-.5zM337.2 453.9h.5v.5h-.5zM337.7 453.9h.5v.5h-.5zM349.2 453.9h.5v.5h-.5zM350.7 453.9h.5v.5h-.5zM351.7 453.9h.5v.5h-.5zM354.7 453.9h.5v.5h-.5zM355.2 453.9h.5v.5h-.5zM335.2 454.9h.5v.5h-.5zM335.7 454.9h.5v.5h-.5zM336.2 454.9h.5v.5h-.5zM336.7 454.9h.5v.5h-.5zM337.2 454.9h.5v.5h-.5zM337.7 454.9h.5v.5h-.5zM338.7 454.9h.5v.5h-.5zM339.2 454.9h.5v.5h-.5zM347.7 454.9h.5v.5h-.5zM335.2 455.4h.5v.5h-.5zM335.7 455.4h.5v.5h-.5zM336.2 455.4h.5v.5h-.5zM336.7 455.4h.5v.5h-.5zM337.2 455.4h.5v.5h-.5zM337.7 455.4h.5v.5h-.5zM338.7 455.4h.5v.5h-.5zM339.7 455.4h.5v.5h-.5zM343.2 455.4h.5v.5h-.5zM349.2 455.4h.5v.5h-.5zM349.7 455.4h.5v.5h-.5zM340.2 455.9h.5v.5h-.5zM340.7 455.9h.5v.5h-.5zM347.7 455.9h.5v.5h-.5zM336.7 456.4h.5v.5h-.5zM337.7 456.4h.5v.5h-.5zM342.2 456.4h.5v.5h-.5zM342.7 456.4h.5v.5h-.5zM344.7 456.4h.5v.5h-.5zM345.7 456.4h.5v.5h-.5zM346.2 456.4h.5v.5h-.5zM348.2 456.4h.5v.5h-.5zM332.2 456.9h.5v.5h-.5zM332.7 456.9h.5v.5h-.5zM334.2 456.9h.5v.5h-.5zM334.7 456.9h.5v.5h-.5zM336.2 456.9h.5v.5h-.5zM345.2 456.9h.5v.5h-.5zM345.7 456.9h.5v.5h-.5zM346.2 456.9h.5v.5h-.5zM346.7 456.9h.5v.5h-.5zM347.2 456.9h.5v.5h-.5zM347.7 456.9h.5v.5h-.5zM348.2 456.9h.5v.5h-.5zM332.2 457.4h.5v.5h-.5zM332.7 457.4h.5v.5h-.5zM335.2 457.4h.5v.5h-.5zM337.2 457.4h.5v.5h-.5zM345.2 457.4h.5v.5h-.5zM347.2 457.4h.5v.5h-.5zM347.7 457.4h.5v.5h-.5zM334.2 457.9h.5v.5h-.5zM334.7 457.9h.5v.5h-.5zM335.2 457.9h.5v.5h-.5zM336.2 457.9h.5v.5h-.5zM337.2 457.9h.5v.5h-.5zM341.7 457.9h.5v.5h-.5zM343.7 457.9h.5v.5h-.5zM344.2 457.9h.5v.5h-.5zM345.7 457.9h.5v.5h-.5zM346.2 457.9h.5v.5h-.5zM347.2 457.9h.5v.5h-.5zM347.7 457.9h.5v.5h-.5zM333.2 458.4h.5v.5h-.5zM333.7 458.4h.5v.5h-.5zM334.2 458.4h.5v.5h-.5zM335.7 458.4h.5v.5h-.5zM337.2 458.4h.5v.5h-.5zM338.2 458.4h.5v.5h-.5zM339.2 458.4h.5v.5h-.5zM342.2 458.4h.5v.5h-.5zM343.7 458.4h.5v.5h-.5zM344.2 458.4h.5v.5h-.5zM345.2 458.4h.5v.5h-.5zM345.7 458.4h.5v.5h-.5zM333.2 458.9h.5v.5h-.5zM333.7 458.9h.5v.5h-.5zM335.7 458.9h.5v.5h-.5zM337.7 458.9h.5v.5h-.5zM338.7 458.9h.5v.5h-.5zM339.2 458.9h.5v.5h-.5zM343.7 458.9h.5v.5h-.5zM344.2 458.9h.5v.5h-.5zM330.7 459.4h.5v.5h-.5zM331.2 459.4h.5v.5h-.5zM335.2 459.4h.5v.5h-.5zM335.7 459.4h.5v.5h-.5zM339.2 459.4h.5v.5h-.5zM343.2 459.4h.5v.5h-.5zM345.2 459.4h.5v.5h-.5zM346.2 459.4h.5v.5h-.5zM330.7 459.9h.5v.5h-.5zM331.2 459.9h.5v.5h-.5zM333.7 459.9h.5v.5h-.5zM335.2 459.9h.5v.5h-.5zM335.7 459.9h.5v.5h-.5zM336.2 459.9h.5v.5h-.5zM345.7 459.9h.5v.5h-.5zM346.2 459.9h.5v.5h-.5zM330.2 460.4h.5v.5h-.5zM330.7 460.4h.5v.5h-.5zM331.2 460.4h.5v.5h-.5zM331.7 460.4h.5v.5h-.5zM332.2 460.4h.5v.5h-.5zM333.2 460.4h.5v.5h-.5zM333.7 460.4h.5v.5h-.5zM334.7 460.4h.5v.5h-.5zM337.7 460.4h.5v.5h-.5zM341.2 460.4h.5v.5h-.5zM343.2 460.4h.5v.5h-.5zM345.2 460.4h.5v.5h-.5zM345.7 460.4h.5v.5h-.5zM330.2 460.9h.5v.5h-.5zM330.7 460.9h.5v.5h-.5zM331.2 460.9h.5v.5h-.5zM333.2 460.9h.5v.5h-.5zM336.7 460.9h.5v.5h-.5zM337.2 460.9h.5v.5h-.5zM339.7 460.9h.5v.5h-.5zM340.2 460.9h.5v.5h-.5zM341.2 460.9h.5v.5h-.5zM342.2 460.9h.5v.5h-.5zM342.7 460.9h.5v.5h-.5zM345.2 460.9h.5v.5h-.5zM345.7 460.9h.5v.5h-.5zM330.2 461.4h.5v.5h-.5zM330.7 461.4h.5v.5h-.5zM331.7 461.4h.5v.5h-.5zM332.2 461.4h.5v.5h-.5zM334.2 461.4h.5v.5h-.5zM334.7 461.4h.5v.5h-.5zM336.2 461.4h.5v.5h-.5zM339.2 461.4h.5v.5h-.5zM339.7 461.4h.5v.5h-.5zM340.2 461.4h.5v.5h-.5zM342.7 461.4h.5v.5h-.5zM343.2 461.4h.5v.5h-.5zM343.7 461.4h.5v.5h-.5zM344.2 461.4h.5v.5h-.5zM328.2 461.9h.5v.5h-.5zM328.7 461.9h.5v.5h-.5zM330.2 461.9h.5v.5h-.5zM330.7 461.9h.5v.5h-.5zM331.7 461.9h.5v.5h-.5zM333.2 461.9h.5v.5h-.5zM335.7 461.9h.5v.5h-.5zM338.7 461.9h.5v.5h-.5zM342.7 461.9h.5v.5h-.5zM328.2 462.4h.5v.5h-.5zM329.2 462.4h.5v.5h-.5zM331.7 462.4h.5v.5h-.5zM333.2 462.4h.5v.5h-.5zM338.7 462.4h.5v.5h-.5zM339.2 462.4h.5v.5h-.5zM339.7 462.4h.5v.5h-.5zM341.7 462.4h.5v.5h-.5zM342.2 462.4h.5v.5h-.5zM343.2 462.4h.5v.5h-.5zM344.2 462.4h.5v.5h-.5zM328.7 462.9h.5v.5h-.5zM329.2 462.9h.5v.5h-.5zM332.2 462.9h.5v.5h-.5zM332.7 462.9h.5v.5h-.5zM334.2 462.9h.5v.5h-.5zM335.7 462.9h.5v.5h-.5zM336.2 462.9h.5v.5h-.5zM336.7 462.9h.5v.5h-.5zM338.7 462.9h.5v.5h-.5zM339.2 462.9h.5v.5h-.5zM339.7 462.9h.5v.5h-.5zM341.7 462.9h.5v.5h-.5zM342.2 462.9h.5v.5h-.5zM328.7 463.4h.5v.5h-.5zM329.2 463.4h.5v.5h-.5zM332.2 463.4h.5v.5h-.5zM332.7 463.4h.5v.5h-.5zM335.7 463.4h.5v.5h-.5zM336.7 463.4h.5v.5h-.5zM337.2 463.4h.5v.5h-.5zM338.2 463.4h.5v.5h-.5zM339.2 463.4h.5v.5h-.5zM340.2 463.4h.5v.5h-.5zM328.7 463.9h.5v.5h-.5zM329.2 463.9h.5v.5h-.5zM333.2 463.9h.5v.5h-.5zM333.7 463.9h.5v.5h-.5zM339.7 463.9h.5v.5h-.5zM340.2 463.9h.5v.5h-.5zM330.7 464.4h.5v.5h-.5zM331.7 464.4h.5v.5h-.5zM333.2 464.4h.5v.5h-.5zM333.7 464.4h.5v.5h-.5zM336.7 464.4h.5v.5h-.5zM338.2 464.4h.5v.5h-.5zM341.2 464.4h.5v.5h-.5zM341.7 464.4h.5v.5h-.5zM329.2 464.9h.5v.5h-.5zM330.2 464.9h.5v.5h-.5zM332.2 464.9h.5v.5h-.5zM332.7 464.9h.5v.5h-.5zM333.7 464.9h.5v.5h-.5zM334.2 464.9h.5v.5h-.5zM334.7 464.9h.5v.5h-.5zM337.7 464.9h.5v.5h-.5zM338.2 464.9h.5v.5h-.5zM339.2 464.9h.5v.5h-.5zM339.7 464.9h.5v.5h-.5zM341.2 464.9h.5v.5h-.5zM341.7 464.9h.5v.5h-.5zM325.2 465.4h.5v.5h-.5zM325.7 465.4h.5v.5h-.5zM334.2 465.4h.5v.5h-.5zM334.7 465.4h.5v.5h-.5zM335.7 465.4h.5v.5h-.5zM339.2 465.4h.5v.5h-.5zM339.7 465.4h.5v.5h-.5zM325.2 465.9h.5v.5h-.5zM325.7 465.9h.5v.5h-.5zM330.2 465.9h.5v.5h-.5zM330.7 465.9h.5v.5h-.5zM331.2 465.9h.5v.5h-.5zM331.7 465.9h.5v.5h-.5zM333.7 465.9h.5v.5h-.5zM338.7 465.9h.5v.5h-.5zM339.2 465.9h.5v.5h-.5zM329.2 466.4h.5v.5h-.5zM329.7 466.4h.5v.5h-.5zM330.2 466.4h.5v.5h-.5zM330.7 466.4h.5v.5h-.5zM331.2 466.4h.5v.5h-.5zM331.7 466.4h.5v.5h-.5zM332.2 466.4h.5v.5h-.5zM336.7 466.4h.5v.5h-.5zM337.2 466.4h.5v.5h-.5zM338.2 466.4h.5v.5h-.5zM339.2 466.4h.5v.5h-.5zM330.2 466.9h.5v.5h-.5zM330.7 466.9h.5v.5h-.5zM332.2 466.9h.5v.5h-.5zM333.7 466.9h.5v.5h-.5zM336.7 466.9h.5v.5h-.5zM337.2 466.9h.5v.5h-.5zM338.2 466.9h.5v.5h-.5zM338.7 466.9h.5v.5h-.5zM326.7 467.4h.5v.5h-.5zM327.2 467.4h.5v.5h-.5zM330.7 467.4h.5v.5h-.5zM331.7 467.4h.5v.5h-.5zM332.2 467.4h.5v.5h-.5zM332.7 467.4h.5v.5h-.5zM333.2 467.4h.5v.5h-.5zM334.2 467.4h.5v.5h-.5zM325.7 467.9h.5v.5h-.5zM326.2 467.9h.5v.5h-.5zM326.7 467.9h.5v.5h-.5zM327.2 467.9h.5v.5h-.5zM329.7 467.9h.5v.5h-.5zM330.2 467.9h.5v.5h-.5zM330.7 467.9h.5v.5h-.5zM331.2 467.9h.5v.5h-.5zM334.7 467.9h.5v.5h-.5zM335.2 467.9h.5v.5h-.5zM323.2 468.4h.5v.5h-.5zM323.7 468.4h.5v.5h-.5zM324.2 468.4h.5v.5h-.5zM324.7 468.4h.5v.5h-.5zM330.7 468.4h.5v.5h-.5zM331.2 468.4h.5v.5h-.5zM332.2 468.4h.5v.5h-.5zM332.7 468.4h.5v.5h-.5zM333.7 468.4h.5v.5h-.5zM334.2 468.4h.5v.5h-.5zM334.7 468.4h.5v.5h-.5zM335.2 468.4h.5v.5h-.5zM323.2 468.9h.5v.5h-.5zM323.7 468.9h.5v.5h-.5zM324.2 468.9h.5v.5h-.5zM324.7 468.9h.5v.5h-.5zM325.7 468.9h.5v.5h-.5zM326.2 468.9h.5v.5h-.5zM326.7 468.9h.5v.5h-.5zM327.2 468.9h.5v.5h-.5zM330.2 468.9h.5v.5h-.5zM330.7 468.9h.5v.5h-.5zM331.2 468.9h.5v.5h-.5zM331.7 468.9h.5v.5h-.5zM332.7 468.9h.5v.5h-.5zM333.7 468.9h.5v.5h-.5zM334.2 468.9h.5v.5h-.5zM327.7 469.4h.5v.5h-.5zM328.2 469.4h.5v.5h-.5zM330.2 469.4h.5v.5h-.5zM330.7 469.4h.5v.5h-.5zM331.7 469.4h.5v.5h-.5zM332.2 469.4h.5v.5h-.5zM333.7 469.4h.5v.5h-.5zM334.2 469.4h.5v.5h-.5zM326.7 469.9h.5v.5h-.5zM327.2 469.9h.5v.5h-.5zM327.7 469.9h.5v.5h-.5zM329.7 469.9h.5v.5h-.5zM330.7 469.9h.5v.5h-.5zM332.7 469.9h.5v.5h-.5zM333.2 469.9h.5v.5h-.5zM323.7 470.4h.5v.5h-.5zM324.2 470.4h.5v.5h-.5zM328.2 470.4h.5v.5h-.5zM329.2 470.4h.5v.5h-.5zM329.7 470.4h.5v.5h-.5zM330.2 470.4h.5v.5h-.5zM332.7 470.4h.5v.5h-.5zM333.2 470.4h.5v.5h-.5zM324.7 470.9h.5v.5h-.5zM325.2 470.9h.5v.5h-.5zM329.2 470.9h.5v.5h-.5zM329.7 470.9h.5v.5h-.5zM330.2 470.9h.5v.5h-.5zM322.2 471.4h.5v.5h-.5zM322.7 471.4h.5v.5h-.5zM323.7 471.4h.5v.5h-.5zM324.2 471.4h.5v.5h-.5zM324.7 471.4h.5v.5h-.5zM325.2 471.4h.5v.5h-.5zM329.7 471.4h.5v.5h-.5zM330.2 471.4h.5v.5h-.5zM331.7 471.4h.5v.5h-.5zM332.2 471.4h.5v.5h-.5zM333.7 471.4h.5v.5h-.5zM334.2 471.4h.5v.5h-.5zM323.2 471.9h.5v.5h-.5zM323.7 471.9h.5v.5h-.5zM329.2 471.9h.5v.5h-.5zM330.2 471.9h.5v.5h-.5zM331.7 471.9h.5v.5h-.5zM332.2 471.9h.5v.5h-.5zM333.7 471.9h.5v.5h-.5zM334.2 471.9h.5v.5h-.5zM322.2 472.4h.5v.5h-.5zM322.7 472.4h.5v.5h-.5zM323.2 472.4h.5v.5h-.5zM324.2 472.4h.5v.5h-.5zM324.7 472.4h.5v.5h-.5zM325.2 472.4h.5v.5h-.5zM327.2 472.4h.5v.5h-.5zM327.7 472.4h.5v.5h-.5zM330.2 472.4h.5v.5h-.5zM317.2 472.9h.5v.5h-.5zM317.7 472.9h.5v.5h-.5zM323.2 472.9h.5v.5h-.5zM326.7 472.9h.5v.5h-.5zM327.2 472.9h.5v.5h-.5zM328.2 472.9h.5v.5h-.5zM329.2 472.9h.5v.5h-.5zM329.7 472.9h.5v.5h-.5zM317.2 473.4h.5v.5h-.5zM317.7 473.4h.5v.5h-.5zM323.2 473.4h.5v.5h-.5zM323.7 473.4h.5v.5h-.5zM324.2 473.4h.5v.5h-.5zM324.7 473.4h.5v.5h-.5zM326.2 473.4h.5v.5h-.5zM326.7 473.4h.5v.5h-.5zM327.7 473.4h.5v.5h-.5zM328.2 473.4h.5v.5h-.5zM322.2 473.9h.5v.5h-.5zM322.7 473.9h.5v.5h-.5zM323.2 473.9h.5v.5h-.5zM323.7 473.9h.5v.5h-.5zM328.7 473.9h.5v.5h-.5zM329.2 473.9h.5v.5h-.5zM322.2 474.4h.5v.5h-.5zM322.7 474.4h.5v.5h-.5zM323.2 474.4h.5v.5h-.5zM323.7 474.4h.5v.5h-.5zM325.2 474.4h.5v.5h-.5zM325.7 474.4h.5v.5h-.5zM328.2 474.4h.5v.5h-.5zM329.2 474.4h.5v.5h-.5zM317.2 474.9h.5v.5h-.5zM317.7 474.9h.5v.5h-.5zM321.7 474.9h.5v.5h-.5zM322.2 474.9h.5v.5h-.5zM324.7 474.9h.5v.5h-.5zM326.2 474.9h.5v.5h-.5zM328.2 474.9h.5v.5h-.5zM328.7 474.9h.5v.5h-.5zM317.2 475.4h.5v.5h-.5zM317.7 475.4h.5v.5h-.5zM321.7 475.4h.5v.5h-.5zM322.2 475.4h.5v.5h-.5zM322.7 475.4h.5v.5h-.5zM323.7 475.4h.5v.5h-.5zM324.7 475.4h.5v.5h-.5zM325.2 475.4h.5v.5h-.5zM325.7 475.4h.5v.5h-.5zM326.2 475.4h.5v.5h-.5zM322.2 475.9h.5v.5h-.5zM323.7 475.9h.5v.5h-.5zM326.2 475.9h.5v.5h-.5zM326.7 475.9h.5v.5h-.5zM322.2 476.4h.5v.5h-.5zM322.7 476.4h.5v.5h-.5zM326.2 476.4h.5v.5h-.5zM326.7 476.4h.5v.5h-.5zM329.2 476.4h.5v.5h-.5zM329.7 476.4h.5v.5h-.5zM324.7 476.9h.5v.5h-.5zM325.2 476.9h.5v.5h-.5zM329.2 476.9h.5v.5h-.5zM329.7 476.9h.5v.5h-.5zM318.2 477.4h.5v.5h-.5zM318.7 477.4h.5v.5h-.5zM319.7 477.4h.5v.5h-.5zM322.7 477.4h.5v.5h-.5zM323.2 477.4h.5v.5h-.5zM324.7 477.4h.5v.5h-.5zM325.2 477.4h.5v.5h-.5zM318.2 477.9h.5v.5h-.5zM319.2 477.9h.5v.5h-.5zM319.7 477.9h.5v.5h-.5zM320.7 477.9h.5v.5h-.5zM322.7 477.9h.5v.5h-.5zM323.2 477.9h.5v.5h-.5zM324.2 477.9h.5v.5h-.5zM324.7 477.9h.5v.5h-.5zM315.2 478.4h.5v.5h-.5zM315.7 478.4h.5v.5h-.5zM318.7 478.4h.5v.5h-.5zM319.2 478.4h.5v.5h-.5zM324.2 478.4h.5v.5h-.5zM324.7 478.4h.5v.5h-.5zM315.2 478.9h.5v.5h-.5zM315.7 478.9h.5v.5h-.5zM318.2 478.9h.5v.5h-.5zM318.7 478.9h.5v.5h-.5zM325.2 478.9h.5v.5h-.5zM325.7 478.9h.5v.5h-.5zM318.2 479.4h.5v.5h-.5zM318.7 479.4h.5v.5h-.5zM325.2 479.4h.5v.5h-.5zM325.7 479.4h.5v.5h-.5zM322.7 479.9h.5v.5h-.5zM323.2 479.9h.5v.5h-.5zM322.7 480.4h.5v.5h-.5zM323.2 480.4h.5v.5h-.5z" fill="#0072BD" fill-opacity="0.50"/>
<path d="M451.2 360.4h.5v.5h-.5zM451.7 360.4h.5v.5h-.5zM451.2 360.9h.5v.5h-.5zM451.7 360.9h.5v.5h-.5zM448.2 361.9h.5v.5h-.5zM448.7 361.9h.5v.5h-.5zM449.2 361.9h.5v.5h-.5zM449.7 361.9h.5v.5h-.5zM448.2 362.4h.5v.5h-.5zM448.7 362.4h.5v.5h-.5zM449.2 362.4h.5v.5h-.5zM449.7 362.4h.5v.5h-.5zM445.2 362.9h.5v.5h-.5zM441.2 363.4h.5v.5h-.5zM441.7 363.4h.5v.5h-.5zM445.2 363.4h.5v.5h-.5zM441.2 363.9h.5v.5h-.5zM441.7 363.9h.5v.5h-.5zM446.2 363.9h.5v.5h-.5zM446.7 363.9h.5v.5h-.5zM447.2 363.9h.5v.5h-.5zM447.7 363.9h.5v.5h-.5zM443.7 364.4h.5v.5h-.5zM446.7 364.4h.5v.5h-.5zM447.7 364.4h.5v.5h-.5zM443.7 364.9h.5v.5h-.5zM445.2 364.9h.5v.5h-.5zM445.7 364.9h.5v.5h-.5zM438.7 365.4h.5v.5h-.5zM441.7 365.4h.5v.5h-.5zM443.2 365.4h.5v.5h-.5zM443.7 365.4h.5v.5h-.5zM445.7 365.4h.5v.5h-.5zM440.2 365.9h.5v.5h-.5zM441.7 365.9h.5v.5h-.5zM439.7 366.4h.5v.5h-.5zM440.2 366.4h.5v.5h-.5zM440.7 366.9h.5v.5h-.5zM441.2 366.9h.5v.5h-.5zM443.7 366.9h.5v.5h-.5zM444.2 366.9h.5v.5h-.5zM448.2 366.9h.5v.5h-.5zM448.7 366.9h.5v.5h-.5zM435.2 367.4h.5v.5h-.5zM435.7 367.4h.5v.5h-.5zM439.2 367.4h.5v.5h-.5zM439.7 367.4h.5v.5h-.5zM441.2 367.4h.5v.5h-.5zM441.7 367.4h.5v.5h-.5zM442.2 367.4h.5v.5h-.5zM443.7 367.4h.5v.5h-.5zM444.2 367.4h.5v.5h-.5zM448.2 367.4h.5v.5h-.5zM448.7 367.4h.5v.5h-.5zM435.2 367.9h.5v.5h-.5zM435.7 367.9h.5v.5h-.5zM438.2 367.9h.5v.5h-.5zM438.7 367.9h.5v.5h-.5zM439.2 367.9h.5v.5h-.5zM440.7 367.9h.5v.5h-.5zM441.2 367.9h.5v.5h-.5zM441.7 367.9h.5v.5h-.5zM442.7 367.9h.5v.5h-.5zM443.2 367.9h.5v.5h-.5zM443.7 367.9h.5v.5h-.5zM444.2 367.9h.5v.5h-.5zM448.2 367.9h.5v.5h-.5zM448.7 367.9h.5v.5h-.5zM432.7 368.4h.5v.5h-.5zM433.2 368.4h.5v.5h-.5zM435.7 368.4h.5v.5h-.5zM437.7 368.4h.5v.5h-.5zM438.7 368.4h.5v.5h-.5zM439.7 368.4h.5v.5h-.5zM443.2 368.4h.5v.5h-.5zM443.7 368.4h.5v.5h-.5zM444.2 368.4h.5v.5h-.5zM444.7 368.4h.5v.5h-.5zM445.2 368.4h.5v.5h-.5zM435.2 368.9h.5v.5h-.5zM435.7 368.9h.5v.5h-.5zM436.7 368.9h.5v.5h-.5zM437.2 368.9h.5v.5h-.5zM438.2 368.9h.5v.5h-.5zM438.7 368.9h.5v.5h-.5zM439.2 368.9h.5v.5h-.5zM439.7 368.9h.5v.5h-.5zM441.2 368.9h.5v.5h-.5zM444.7 368.9h.5v.5h-.5zM445.2 368.9h.5v.5h-.5zM436.7 369.4h.5v.5h-.5zM438.7 369.4h.5v.5h-.5zM440.7 369.4h.5v.5h-.5zM431.2 369.9h.5v.5h-.5zM431.7 369.9h.5v.5h-.5zM436.7 369.9h.5v.5h-.5zM437.2 369.9h.5v.5h-.5zM439.7 369.9h.5v.5h-.5zM440.2 369.9h.5v.5h-.5zM440.7 369.9h.5v.5h-.5zM442.7 369.9h.5v.5h-.5zM443.2 369.9h.5v.5h-.5zM431.7 370.4h.5v.5h-.5zM434.7 370.4h.5v.5h-.5zM435.2 370.4h.5v.5h-.5zM436.7 370.4h.5v.5h-.5zM437.2 370.4h.5v.5h-.5zM437.7 370.4h.5v.5h-.5zM440.7 370.4h.5v.5h-.5zM441.2 370.4h.5v.5h-.5zM432.7 370.9h.5v.5h-.5zM433.2 370.9h.5v.5h-.5zM433.7 370.9h.5v.5h-.5zM434.2 370.9h.5v.5h-.5zM435.2 370.9h.5v.5h-.5zM436.2 370.9h.5v.5h-.5zM436.7 370.9h.5v.5h-.5zM437.7 370.9h.5v.5h-.5zM438.2 370.9h.5v.5h-.5zM438.7 370.9h.5v.5h-.5zM440.2 370.9h.5v.5h-.5zM441.2 370.9h.5v.5h-.5zM432.7 371.4h.5v.5h-.5zM435.2 371.4h.5v.5h-.5zM437.2 371.4h.5v.5h-.5zM437.7 371.4h.5v.5h-.5zM438.2 371.4h.5v.5h-.5zM438.7 371.4h.5v.5h-.5zM439.2 371.4h.5v.5h-.5zM440.2 371.4h.5v.5h-.5zM440.7 371.4h.5v.5h-.5zM428.7 371.9h.5v.5h-.5zM429.2 371.9h.5v.5h-.5zM429.7 371.9h.5v.5h-.5zM434.2 371.9h.5v.5h-.5zM434.7 371.9h.5v.5h-.5zM437.7 371.9h.5v.5h-.5zM438.2 371.9h.5v.5h-.5zM438.7 371.9h.5v.5h-.5zM439.2 371.9h.5v.5h-.5zM428.2 372.4h.5v.5h-.5zM429.7 372.4h.5v.5h-.5zM431.2 372.4h.5v.5h-.5zM432.7 372.4h.5v.5h-.5zM433.2 372.4h.5v.5h-.5zM433.7 372.4h.5v.5h-.5zM434.2 372.4h.5v.5h-.5zM434.7 372.4h.5v.5h-.5zM435.2 372.4h.5v.5h-.5zM436.7 372.4h.5v.5h-.5zM437.7 372.4h.5v.5h-.5zM438.7 372.4h.5v.5h-.5zM439.7 372.4h.5v.5h-.5zM428.2 372.9h.5v.5h-.5zM428.7 372.9h.5v.5h-.5zM429.2 372.9h.5v.5h-.5zM430.2 372.9h.5v.5h-.5zM431.2 372.9h.5v.5h-.5zM431.7 372.9h.5v.5h-.5zM432.2 372.9h.5v.5h-.5zM432.7 372.9h.5v.5h-.5zM433.2 372.9h.5v.5h-.5zM433.7 372.9h.5v.5h-.5zM434.2 372.9h.5v.5h-.5zM436.7 372.9h.5v.5h-.5zM438.7 372.9h.5v.5h-.5zM430.2 373.4h.5v.5h-.5zM430.7 373.4h.5v.5h-.5zM431.2 373.4h.5v.5h-.5zM431.7 373.4h.5v.5h-.5zM432.2 373.4h.5v.5h-.5zM435.7 373.4h.5v.5h-.5zM436.2 373.4h.5v.5h-.5zM436.7 373.4h.5v.5h-.5zM438.2 373.4h.5v.5h-.5zM439.2 373.4h.5v.5h-.5zM427.2 373.9h.5v.5h-.5zM427.7 373.9h.5v.5h-.5zM430.7 373.9h.5v.5h-.5zM431.7 373.9h.5v.5h-.5zM435.7 373.9h.5v.5h-.5zM436.2 373.9h.5v.5h-.5zM437.2 373.9h.5v.5h-.5zM437.7 373.9h.5v.5h-.5zM438.2 373.9h.5v.5h-.5zM438.7 373.9h.5v.5h-.5zM426.7 374.4h.5v.5h-.5zM427.2 374.4h.5v.5h-.5zM427.7 374.4h.5v.5h-.5zM428.7 374.4h.5v.5h-.5zM429.7 374.4h.5v.5h-.5zM432.7 374.4h.5v.5h-.5zM434.7 374.4h.5v.5h-.5zM436.2 374.4h.5v.5h-.5zM436.7 374.4h.5v.5h-.5zM437.2 374.4h.5v.5h-.5zM437.7 374.4h.5v.5h-.5zM427.7 374.9h.5v.5h-.5zM428.2 374.9h.5v.5h-.5zM428.7 374.9h.5v.5h-.5zM429.2 374.9h.5v.5h-.5zM429.7 374.9h.5v.5h-.5zM430.7 374.9h.5v.5h-.5zM431.2 374.9h.5v.5h-.5zM432.7 374.9h.5v.5h-.5zM433.7 374.9h.5v.5h-.5zM434.2 374.9h.5v.5h-.5zM434.7 374.9h.5v.5h-.5zM424.7 375.4h.5v.5h-.5zM425.2 375.4h.5v.5h-.5zM425.7 375.4h.5v.5h-.5zM426.7 375.4h.5v.5h-.5zM427.2 375.4h.5v.5h-.5zM427.7 375.4h.5v.5h-.5zM428.2 375.4h.5v.5h-.5zM429.2 375.4h.5v.5h-.5zM430.2 375.4h.5v.5h-.5zM430.7 375.4h.5v.5h-.5zM431.7 375.4h.5v.5h-.5zM432.2 375.4h.5v.5h-.5zM434.7 375.4h.5v.5h-.5zM435.2 375.4h.5v.5h-.5zM435.7 375.4h.5v.5h-.5zM425.7 375.9h.5v.5h-.5zM426.7 375.9h.5v.5h-.5zM427.2 375.9h.5v.5h-.5zM429.7 375.9h.5v.5h-.5zM424.7 376.4h.5v.5h-.5zM425.2 376.4h.5v.5h-.5zM426.2 376.4h.5v.5h-.5zM426.7 376.4h.5v.5h-.5zM427.2 376.4h.5v.5h-.5zM429.7 376.4h.5v.5h-.5zM430.2 376.4h.5v.5h-.5zM430.7 376.4h.5v.5h-.5zM432.7 376.4h.5v.5h-.5zM433.7 376.4h.5v.5h-.5zM437.7 376.4h.5v.5h-.5zM423.2 376.9h.5v.5h-.5zM423.7 376.9h.5v.5h-.5zM424.2 376.9h.5v.5h-.5zM426.2 376.9h.5v.5h-.5zM426.7 376.9h.5v.5h-.5zM429.7 376.9h.5v.5h-.5zM430.2 376.9h.5v.5h-.5zM432.2 376.9h.5v.5h-.5zM435.2 376.9h.5v.5h-.5zM435.7 376.9h.5v.5h-.5zM422.7 377.4h.5v.5h-.5zM425.7 377.4h.5v.5h-.5zM428.2 377.4h.5v.5h-.5zM429.7 377.4h.5v.5h-.5zM430.2 377.4h.5v.5h-.5zM432.2 377.4h.5v.5h-.5zM433.2 377.4h.5v.5h-.5zM433.7 377.4h.5v.5h-.5zM435.2 377.4h.5v.5h-.5zM435.7 377.4h.5v.5h-.5zM421.7 377.9h.5v.5h-.5zM423.7 377.9h.5v.5h-.5zM425.7 377.9h.5v.5h-.5zM430.2 377.9h.5v.5h-.5zM430.7 377.9h.5v.5h-.5zM433.7 377.9h.5v.5h-.5zM434.2 377.9h.5v.5h-.5zM436.7 377.9h.5v.5h-.5zM437.2 377.9h.5v.5h-.5zM420.2 378.4h.5v.5h-.5zM421.7 378.4h.5v.5h-.5zM423.7 378.4h.5v.5h-.5zM428.2 378.4h.5v.5h-.5zM430.2 378.4h.5v.5h-.5zM432.2 378.4h.5v.5h-.5zM433.7 378.4h.5v.5h-.5zM434.2 378.4h.5v.5h-.5zM436.7 378.4h.5v.5h-.5zM437.2 378.4h.5v.5h-.5zM416.7 378.9h.5v.5h-.5zM417.2 378.9h.5v.5h-.5zM418.2 378.9h.5v.5h-.5zM418.7 378.9h.5v.5h-.5zM423.7 378.9h.5v.5h-.5zM424.2 378.9h.5v.5h-.5zM424.7 378.9h.5v.5h-.5zM426.7 378.9h.5v.5h-.5zM428.2 378.9h.5v.5h-.5zM430.2 378.9h.5v.5h-.5zM430.7 378.9h.5v.5h-.5zM431.7 378.9h.5v.5h-.5zM432.2 378.9h.5v.5h-.5zM432.7 378.9h.5v.5h-.5zM416.7 379.4h.5v.5h-.5zM417.2 379.4h.5v.5h-.5zM421.2 379.4h.5v.5h-.5zM422.2 379.4h.5v.5h-.5zM424.2 379.4h.5v.5h-.5zM425.2 379.4h.5v.5h-.5zM428.2 379.4h.5v.5h-.5zM429.7 379.4h.5v.5h-.5zM430.7 379.4h.5v.5h-.5zM431.2 379.4h.5v.5h-.5zM431.7 379.4h.5v.5h-.5zM432.2 379.4h.5v.5h-.5zM432.7 379.4h.5v.5h-.5zM436.7 379.4h.5v.5h-.5zM437.2 379.4h.5v.5h-.5zM419.2 379.9h.5v.5h-.5zM419.7 379.9h.5v.5h-.5zM421.7 379.9h.5v.5h-.5zM424.7 379.9h.5v.5h-.5zM425.2 379.9h.5v.5h-.5zM429.2 379.9h.5v.5h-.5zM429.7 379.9h.5v.5h-.5zM431.7 379.9h.5v.5h-.5zM432.2 379.9h.5v.5h-.5zM436.7 379.9h.5v.5h-.5zM437.2 379.9h.5v.5h-.5zM419.2 380.4h.5v.5h-.5zM419.7 380.4h.5v.5h-.5zM421.7 380.4h.5v.5h-.5zM429.2 380.4h.5v.5h-.5zM430.2 380.4h.5v.5h-.5zM415.7 380.9h.5v.5h-.5zM417.7 380.9h.5v.5h-.5zM418.2 380.9h.5v.5h-.5zM419.7 380.9h.5v.5h-.5zM428.7 380.9h.5v.5h-.5zM429.7 380.9h.5v.5h-.5zM430.2 380.9h.5v.5h-.5zM431.2 380.9h.5v.5h-.5zM431.7 380.9h.5v.5h-.5zM415.2 381.4h.5v.5h-.5zM415.7 381.4h.5v.5h-.5zM417.7 381.4h.5v.5h-.5zM418.7 381.4h.5v.5h-.5zM419.7 381.4h.5v.5h-.5zM428.2 381.4h.5v.5h-.5zM428.7 381.4h.5v.5h-.5zM429.7 381.4h.5v.5h-.5zM430.2 381.4h.5v.5h-.5zM431.2 381.4h.5v.5h-.5zM432.2 381.4h.5v.5h-.5zM415.2 381.9h.5v.5h-.5zM415.7 381.9h.5v.5h-.5zM416.2 381.9h.5v.5h-.5zM416.7 381.9h.5v.5h-.5zM420.2 381.9h.5v.5h-.5zM427.7 381.9h.5v.5h-.5zM428.2 381.9h.5v.5h-.5zM429.7 381.9h.5v.5h-.5zM430.7 381.9h.5v.5h-.5zM431.2 381.9h.5v.5h-.5zM432.2 381.9h.5v.5h-.5zM417.2 382.4h.5v.5h-.5zM427.2 382.4h.5v.5h-.5zM427.7 382.4h.5v.5h-.5zM429.7 382.4h.5v.5h-.5zM430.2 382.4h.5v.5h-.5zM430.7 382.4h.5v.5h-.5zM431.7 382.4h.5v.5h-.5zM426.7 382.9h.5v.5h-.5zM427.2 382.9h.5v.5h-.5zM427.7 382.9h.5v.5h-.5zM428.7 382.9h.5v.5h-.5zM430.2 382.9h.5v.5h-.5zM430.7 382.9h.5v.5h-.5zM414.7 383.4h.5v.5h-.5zM415.7 383.4h.5v.5h-.5zM416.2 383.4h.5v.5h-.5zM425.7 383.4h.5v.5h-.5zM426.2 383.4h.5v.5h-.5zM426.7 383.4h.5v.5h-.5zM428.2 383.4h.5v.5h-.5zM428.7 383.4h.5v.5h-.5zM429.2 383.4h.5v.5h-.5zM429.7 383.4h.5v.5h-.5zM430.2 383.4h.5v.5h-.5zM430.7 383.4h.5v.5h-.5zM412.7 383.9h.5v.5h-.5zM413.2 383.9h.5v.5h-.5zM414.7 383.9h.5v.5h-.5zM416.2 383.9h.5v.5h-.5zM426.7 383.9h.5v.5h-.5zM427.2 383.9h.5v.5h-.5zM429.2 383.9h.5v.5h-.5zM429.7 383.9h.5v.5h-.5zM412.7 384.4h.5v.5h-.5zM413.2 384.4h.5v.5h-.5zM413.7 384.4h.5v.5h-.5zM414.2 384.4h.5v.5h-.5zM414.7 384.4h.5v.5h-.5zM415.2 384.4h.5v.5h-.5zM427.2 384.4h.5v.5h-.5zM427.7 384.4h.5v.5h-.5zM411.2 384.9h.5v.5h-.5zM411.7 384.9h.5v.5h-.5zM412.2 384.9h.5v.5h-.5zM412.7 384.9h.5v.5h-.5zM413.2 384.9h.5v.5h-.5zM414.2 384.9h.5v.5h-.5zM424.2 384.9h.5v.5h-.5zM424.7 384.9h.5v.5h-.5zM425.2 384.9h.5v.5h-.5zM425.7 384.9h.5v.5h-.5zM427.7 384.9h.5v.5h-.5zM410.7 385.4h.5v.5h-.5zM411.2 385.4h.5v.5h-.5zM411.7 385.4h.5v.5h-.5zM412.2 385.4h.5v.5h-.5zM413.7 385.4h.5v.5h-.5zM423.2 385.4h.5v.5h-.5zM424.7 385.4h.5v.5h-.5zM426.2 385.4h.5v.5h-.5zM410.7 385.9h.5v.5h-.5zM411.2 385.9h.5v.5h-.5zM411.7 385.9h.5v.5h-.5zM412.7 385.9h.5v.5h-.5zM421.7 385.9h.5v.5h-.5zM423.2 385.9h.5v.5h-.5zM423.7 385.9h.5v.5h-.5zM426.2 385.9h.5v.5h-.5zM410.2 386.4h.5v.5h-.5zM410.7 386.4h.5v.5h-.5zM411.2 386.4h.5v.5h-.5zM423.2 386.4h.5v.5h-.5zM424.7 386.4h.5v.5h-.5zM425.2 386.4h.5v.5h-.5zM410.2 386.9h.5v.5h-.5zM410.7 386.9h.5v.5h-.5zM422.7 386.9h.5v.5h-.5zM423.2 386.9h.5v.5h-.5zM425.2 386.9h.5v.5h-.5zM410.2 387.4h.5v.5h-.5zM410.7 387.4h.5v.5h-.5zM411.2 387.4h.5v.5h-.5zM421.7 387.4h.5v.5h-.5zM422.2 387.4h.5v.5h-.5zM423.2 387.4h.5v.5h-.5zM423.7 387.4h.5v.5h-.5zM424.2 387.4h.5v.5h-.5zM424.7 387.4h.5v.5h-.5zM421.7 387.9h.5v.5h-.5zM422.2 387.9h.5v.5h-.5zM422.7 387.9h.5v.5h-.5zM423.7 387.9h.5v.5h-.5zM407.7 388.4h.5v.5h-.5zM408.2 388.4h.5v.5h-.5zM408.7 388.4h.5v.5h-.5zM409.2 388.4h.5v.5h-.5zM409.7 388.4h.5v.5h-.5zM421.7 388.4h.5v.5h-.5zM422.7 388.4h.5v.5h-.5zM423.2 388.4h.5v.5h-.5zM423.7 388.4h.5v.5h-.5zM406.7 388.9h.5v.5h-.5zM407.2 388.9h.5v.5h-.5zM407.7 388.9h.5v.5h-.5zM422.2 388.9h.5v.5h-.5zM406.7 389.4h.5v.5h-.5zM407.2 389.4h.5v.5h-.5zM407.7 389.4h.5v.5h-.5zM420.2 389.4h.5v.5h-.5zM406.7 389.9h.5v.5h-.5zM407.2 389.9h.5v.5h-.5zM407.7 389.9h.5v.5h-.5zM408.2 389.9h.5v.5h-.5zM408.7 389.9h.5v.5h-.5zM419.7 389.9h.5v.5h-.5zM421.7 389.9h.5v.5h-.5zM422.2 389.9h.5v.5h-.5zM422.7 389.9h.5v.5h-.5zM423.7 389.9h.5v.5h-.5zM406.7 390.4h.5v.5h-.5zM407.2 390.4h.5v.5h-.5zM407.7 390.4h.5v.5h-.5zM408.2 390.4h.5v.5h-.5zM408.7 390.4h.5v.5h-.5zM419.2 390.4h.5v.5h-.5zM420.2 390.4h.5v.5h-.5zM420.7 390.4h.5v.5h-.5zM421.2 390.4h.5v.5h-.5zM422.2 390.4h.5v.5h-.5zM422.7 390.4h.5v.5h-.5zM406.7 390.9h.5v.5h-.5zM407.2 390.9h.5v.5h-.5zM419.2 390.9h.5v.5h-.5zM419.7 390.9h.5v.5h-.5zM420.2 390.9h.5v.5h-.5zM421.2 390.9h.5v.5h-.5zM421.7 390.9h.5v.5h-.5zM404.2 391.4h.5v.5h-.5zM404.7 391.4h.5v.5h-.5zM405.7 391.4h.5v.5h-.5zM406.2 391.4h.5v.5h-.5zM418.7 391.4h.5v.5h-.5zM419.2 391.4h.5v.5h-.5zM419.7 391.4h.5v.5h-.5zM420.2 391.4h.5v.5h-.5zM405.2 391.9h.5v.5h-.5zM416.7 391.9h.5v.5h-.5zM417.2 391.9h.5v.5h-.5zM417.7 391.9h.5v.5h-.5zM419.2 391.9h.5v.5h-.5zM417.7 392.4h.5v.5h-.5zM419.2 392.4h.5v.5h-.5zM403.7 392.9h.5v.5h-.5zM404.2 392.9h.5v.5h-.5zM404.7 392.9h.5v.5h-.5zM405.2 392.9h.5v.5h-.5zM416.2 392.9h.5v.5h-.5zM403.7 393.4h.5v.5h-.5zM414.7 393.4h.5v.5h-.5zM415.7 393.4h.5v.5h-.5zM416.2 393.4h.5v.5h-.5zM416.7 393.4h.5v.5h-.5zM417.2 393.4h.5v.5h-.5zM417.7 393.4h.5v.5h-.5zM402.7 393.9h.5v.5h-.5zM403.2 393.9h.5v.5h-.5zM415.2 393.9h.5v.5h-.5zM415.7 393.9h.5v.5h-.5zM416.2 393.9h.5v.5h-.5zM416.7 393.9h.5v.5h-.5zM417.2 393.9h.5v.5h-.5zM417.7 393.9h.5v.5h-.5zM415.2 394.4h.5v.5h-.5zM415.7 394.4h.5v.5h-.5zM416.2 394.4h.5v.5h-.5zM417.2 394.4h.5v.5h-.5zM417.7 394.4h.5v.5h-.5zM401.2 394.9h.5v.5h-.5zM414.2 394.9h.5v.5h-.5zM415.7 394.9h.5v.5h-.5zM417.2 394.9h.5v.5h-.5zM400.7 395.4h.5v.5h-.5zM403.2 395.4h.5v.5h-.5zM414.2 395.4h.5v.5h-.5zM414.7 395.4h.5v.5h-.5zM415.2 395.4h.5v.5h-.5zM417.2 395.4h.5v.5h-.5zM400.2 395.9h.5v.5h-.5zM400.7 395.9h.5v.5h-.5zM401.2 395.9h.5v.5h-.5zM414.2 395.9h.5v.5h-.5zM398.2 396.4h.5v.5h-.5zM398.7 396.4h.5v.5h-.5zM400.2 396.4h.5v.5h-.5zM400.7 396.4h.5v.5h-.5zM413.2 396.4h.5v.5h-.5zM413.7 396.4h.5v.5h-.5zM414.2 396.4h.5v.5h-.5zM399.2 396.9h.5v.5h-.5zM400.2 396.9h.5v.5h-.5zM413.2 396.9h.5v.5h-.5zM397.7 397.4h.5v.5h-.5zM399.2 397.4h.5v.5h-.5zM411.2 397.4h.5v.5h-.5zM412.7 397.4h.5v.5h-.5zM413.7 397.4h.5v.5h-.5zM397.7 397.9h.5v.5h-.5zM398.7 397.9h.5v.5h-.5zM399.2 397.9h.5v.5h-.5zM413.7 397.9h.5v.5h-.5zM412.2 398.4h.5v.5h-.5zM413.2 398.4h.5v.5h-.5zM396.7 398.9h.5v.5h-.5zM397.7 398.9h.5v.5h-.5zM410.7 398.9h.5v.5h-.5zM411.2 398.9h.5v.5h-.5zM411.7 398.9h.5v.5h-.5zM412.2 399.4h.5v.5h-.5zM412.7 399.4h.5v.5h-.5zM396.2 399.9h.5v.5h-.5zM396.7 399.9h.5v.5h-.5zM397.2 399.9h.5v.5h-.5zM408.7 399.9h.5v.5h-.5zM409.7 399.9h.5v.5h-.5zM412.2 399.9h.5v.5h-.5zM412.7 399.9h.5v.5h-.5zM395.7 400.4h.5v.5h-.5zM396.2 400.4h.5v.5h-.5zM409.2 400.4h.5v.5h-.5zM394.7 400.9h.5v.5h-.5zM395.2 400.9h.5v.5h-.5zM409.2 400.9h.5v.5h-.5zM411.2 400.9h.5v.5h-.5zM411.7 400.9h.5v.5h-.5zM393.2 401.4h.5v.5h-.5zM393.7 401.4h.5v.5h-.5zM408.7 401.4h.5v.5h-.5zM411.2 401.4h.5v.5h-.5zM393.2 401.9h.5v.5h-.5zM393.7 401.9h.5v.5h-.5zM408.7 401.9h.5v.5h-.5zM392.7 402.4h.5v.5h-.5zM393.2 402.4h.5v.5h-.5zM393.7 402.4h.5v.5h-.5zM394.2 402.4h.5v.5h-.5zM408.2 402.4h.5v.5h-.5zM408.7 402.4h.5v.5h-.5zM392.7 402.9h.5v.5h-.5zM393.2 402.9h.5v.5h-.5zM393.7 402.9h.5v.5h-.5zM405.7 402.9h.5v.5h-.5zM406.2 402.9h.5v.5h-.5zM407.2 402.9h.5v.5h-.5zM393.2 403.4h.5v.5h-.5zM407.2 403.4h.5v.5h-.5zM392.2 403.9h.5v.5h-.5zM405.7 403.9h.5v.5h-.5zM391.2 404.4h.5v.5h-.5zM391.7 404.4h.5v.5h-.5zM404.7 404.4h.5v.5h-.5zM405.2 404.4h.5v.5h-.5zM405.7 404.4h.5v.5h-.5zM390.7 404.9h.5v.5h-.5zM405.7 404.9h.5v.5h-.5zM407.2 404.9h.5v.5h-.5zM388.7 405.4h.5v.5h-.5zM389.2 405.4h.5v.5h-.5zM389.7 405.4h.5v.5h-.5zM390.2 405.4h.5v.5h-.5zM403.2 405.4h.5v.5h-.5zM404.7 405.4h.5v.5h-.5zM407.2 405.4h.5v.5h-.5zM389.2 405.9h.5v.5h-.5zM389.7 405.9h.5v.5h-.5zM390.2 405.9h.5v.5h-.5zM403.2 405.9h.5v.5h-.5zM403.7 405.9h.5v.5h-.5zM404.7 405.9h.5v.5h-.5zM390.2 406.4h.5v.5h-.5zM402.2 406.4h.5v.5h-.5zM388.7 406.9h.5v.5h-.5zM389.2 406.9h.5v.5h-.5zM389.7 406.9h.5v.5h-.5zM401.2 406.9h.5v.5h-.5zM388.7 407.4h.5v.5h-.5zM401.2 407.4h.5v.5h-.5zM403.7 407.4h.5v.5h-.5zM387.7 407.9h.5v.5h-.5zM399.2 407.9h.5v.5h-.5zM400.7 407.9h.5v.5h-.5zM403.7 407.9h.5v.5h-.5zM387.2 408.4h.5v.5h-.5zM399.2 408.4h.5v.5h-.5zM399.7 408.4h.5v.5h-.5zM400.7 408.4h.5v.5h-.5zM386.7 408.9h.5v.5h-.5zM398.7 408.9h.5v.5h-.5zM399.2 408.9h.5v.5h-.5zM400.2 408.9h.5v.5h-.5zM400.7 408.9h.5v.5h-.5zM386.2 409.4h.5v.5h-.5zM399.2 409.4h.5v.5h-.5zM399.7 409.4h.5v.5h-.5zM397.7 409.9h.5v.5h-.5zM399.2 409.9h.5v.5h-.5zM385.2 410.4h.5v.5h-.5zM398.2 410.4h.5v.5h-.5zM399.2 410.4h.5v.5h-.5zM384.7 410.9h.5v.5h-.5zM385.2 410.9h.5v.5h-.5zM399.2 410.9h.5v.5h-.5zM385.7 411.4h.5v.5h-.5zM400.7 411.4h.5v.5h-.5zM383.7 411.9h.5v.5h-.5zM396.7 411.9h.5v.5h-.5zM397.2 411.9h.5v.5h-.5zM382.2 412.4h.5v.5h-.5zM382.7 412.4h.5v.5h-.5zM383.2 412.4h.5v.5h-.5zM396.2 412.4h.5v.5h-.5zM396.7 412.4h.5v.5h-.5zM397.2 412.4h.5v.5h-.5zM396.2 412.9h.5v.5h-.5zM379.7 413.4h.5v.5h-.5zM380.2 413.4h.5v.5h-.5zM395.2 413.4h.5v.5h-.5zM395.7 413.4h.5v.5h-.5zM396.2 413.4h.5v.5h-.5zM396.7 413.4h.5v.5h-.5zM379.7 413.9h.5v.5h-.5zM380.2 413.9h.5v.5h-.5zM393.2 413.9h.5v.5h-.5zM394.2 413.9h.5v.5h-.5zM394.7 413.9h.5v.5h-.5zM396.7 413.9h.5v.5h-.5zM393.2 414.4h.5v.5h-.5zM393.7 414.4h.5v.5h-.5zM394.2 414.4h.5v.5h-.5zM378.2 414.9h.5v.5h-.5zM378.7 414.9h.5v.5h-.5zM379.2 414.9h.5v.5h-.5zM379.7 414.9h.5v.5h-.5zM393.2 414.9h.5v.5h-.5zM393.7 414.9h.5v.5h-.5zM378.2 415.4h.5v.5h-.5zM379.7 415.4h.5v.5h-.5zM393.2 415.4h.5v.5h-.5zM378.7 415.9h.5v.5h-.5zM391.2 415.9h.5v.5h-.5zM392.2 415.9h.5v.5h-.5zM393.2 415.9h.5v.5h-.5zM378.2 416.4h.5v.5h-.5zM378.7 416.4h.5v.5h-.5zM392.2 416.4h.5v.5h-.5zM392.7 416.4h.5v.5h-.5zM393.2 416.4h.5v.5h-.5zM375.7 416.9h.5v.5h-.5zM377.2 416.9h.5v.5h-.5zM377.7 416.9h.5v.5h-.5zM391.7 416.9h.5v.5h-.5zM389.2 417.4h.5v.5h-.5zM389.7 417.4h.5v.5h-.5zM390.2 417.4h.5v.5h-.5zM390.7 417.4h.5v.5h-.5zM374.2 417.9h.5v.5h-.5zM374.7 417.9h.5v.5h-.5zM375.7 417.9h.5v.5h-.5zM376.2 417.9h.5v.5h-.5zM374.2 418.4h.5v.5h-.5zM374.7 418.4h.5v.5h-.5zM375.2 418.4h.5v.5h-.5zM376.2 418.4h.5v.5h-.5zM388.2 418.4h.5v.5h-.5zM375.2 418.9h.5v.5h-.5zM376.2 418.9h.5v.5h-.5zM376.7 418.9h.5v.5h-.5zM388.2 418.9h.5v.5h-.5zM389.2 418.9h.5v.5h-.5zM373.2 419.4h.5v.5h-.5zM373.7 419.4h.5v.5h-.5zM374.2 419.4h.5v.5h-.5zM374.7 419.4h.5v.5h-.5zM375.2 419.4h.5v.5h-.5zM388.2 419.4h.5v.5h-.5zM373.7 419.9h.5v.5h-.5zM374.2 419.9h.5v.5h-.5zM375.2 419.9h.5v.5h-.5zM387.2 419.9h.5v.5h-.5zM372.7 420.4h.5v.5h-.5zM373.2 420.4h.5v.5h-.5zM373.7 420.4h.5v.5h-.5zM374.2 420.4h.5v.5h-.5zM374.7 420.4h.5v.5h-.5zM386.2 420.4h.5v.5h-.5zM386.7 420.4h.5v.5h-.5zM387.2 420.4h.5v.5h-.5zM372.7 420.9h.5v.5h-.5zM373.2 420.9h.5v.5h-.5zM373.7 420.9h.5v.5h-.5zM385.7 420.9h.5v.5h-.5zM386.7 420.9h.5v.5h-.5zM387.2 420.9h.5v.5h-.5zM373.7 421.4h.5v.5h-.5zM385.2 421.9h.5v.5h-.5zM371.7 422.4h.5v.5h-.5zM371.2 422.9h.5v.5h-.5zM384.7 422.9h.5v.5h-.5zM370.2 423.4h.5v.5h-.5zM370.7 423.4h.5v.5h-.5zM383.7 423.4h.5v.5h-.5zM384.2 423.4h.5v.5h-.5zM370.2 423.9h.5v.5h-.5zM383.2 423.9h.5v.5h-.5zM368.2 424.4h.5v.5h-.5zM368.7 424.4h.5v.5h-.5zM369.7 424.4h.5v.5h-.5zM370.2 424.4h.5v.5h-.5zM382.7 424.4h.5v.5h-.5zM383.2 424.4h.5v.5h-.5zM370.2 424.9h.5v.5h-.5zM380.7 424.9h.5v.5h-.5zM381.7 424.9h.5v.5h-.5zM382.2 424.9h.5v.5h-.5zM382.7 424.9h.5v.5h-.5zM367.2 425.4h.5v.5h-.5zM369.7 425.4h.5v.5h-.5zM380.7 425.4h.5v.5h-.5zM382.2 425.4h.5v.5h-.5zM382.7 425.4h.5v.5h-.5zM366.7 425.9h.5v.5h-.5zM367.7 425.9h.5v.5h-.5zM380.7 425.9h.5v.5h-.5zM366.2 426.4h.5v.5h-.5zM367.7 426.4h.5v.5h-.5zM380.2 426.4h.5v.5h-.5zM380.7 426.4h.5v.5h-.5zM381.2 426.4h.5v.5h-.5zM366.2 426.9h.5v.5h-.5zM378.7 426.9h.5v.5h-.5zM379.2 426.9h.5v.5h-.5zM366.2 427.4h.5v.5h-.5zM378.7 427.4h.5v.5h-.5zM379.2 427.4h.5v.5h-.5zM379.7 427.4h.5v.5h-.5zM362.7 427.9h.5v.5h-.5zM364.7 427.9h.5v.5h-.5zM365.2 427.9h.5v.5h-.5zM379.2 427.9h.5v.5h-.5zM361.2 428.4h.5v.5h-.5zM361.7 428.4h.5v.5h-.5zM362.7 428.4h.5v.5h-.5zM379.2 428.4h.5v.5h-.5zM361.2 428.9h.5v.5h-.5zM361.7 428.9h.5v.5h-.5zM364.2 428.9h.5v.5h-.5zM364.7 428.9h.5v.5h-.5zM365.2 428.9h.5v.5h-.5zM376.7 428.9h.5v.5h-.5zM378.7 428.9h.5v.5h-.5zM376.7 429.4h.5v.5h-.5zM364.2 429.9h.5v.5h-.5zM376.7 429.9h.5v.5h-.5zM377.2 429.9h.5v.5h-.5zM362.2 430.4h.5v.5h-.5zM362.7 430.4h.5v.5h-.5zM363.2 430.4h.5v.5h-.5zM361.7 430.9h.5v.5h-.5zM376.2 430.9h.5v.5h-.5zM360.2 431.4h.5v.5h-.5zM360.7 431.4h.5v.5h-.5zM361.2 431.4h.5v.5h-.5zM362.2 431.4h.5v.5h-.5zM375.2 431.4h.5v.5h-.5zM375.7 431.4h.5v.5h-.5zM376.2 431.4h.5v.5h-.5zM360.2 431.9h.5v.5h-.5zM360.7 431.9h.5v.5h-.5zM361.2 431.9h.5v.5h-.5zM361.7 431.9h.5v.5h-.5zM373.7 431.9h.5v.5h-.5zM374.2 431.9h.5v.5h-.5zM375.2 431.9h.5v.5h-.5zM360.7 432.4h.5v.5h-.5zM361.2 432.4h.5v.5h-.5zM374.7 432.4h.5v.5h-.5zM375.2 432.4h.5v.5h-.5zM375.7 432.4h.5v.5h-.5zM358.7 432.9h.5v.5h-.5zM359.2 432.9h.5v.5h-.5zM359.7 432.9h.5v.5h-.5zM360.2 432.9h.5v.5h-.5zM372.2 432.9h.5v.5h-.5zM372.7 432.9h.5v.5h-.5zM360.2 433.4h.5v.5h-.5zM360.7 433.4h.5v.5h-.5zM372.2 433.4h.5v.5h-.5zM372.7 433.4h.5v.5h-.5zM359.2 433.9h.5v.5h-.5zM358.2 434.4h.5v.5h-.5zM371.2 434.4h.5v.5h-.5zM372.2 434.4h.5v.5h-.5zM372.7 434.4h.5v.5h-.5zM358.2 434.9h.5v.5h-.5zM373.2 434.9h.5v.5h-.5zM355.2 435.4h.5v.5h-.5zM355.7 435.4h.5v.5h-.5zM358.2 435.4h.5v.5h-.5zM355.2 435.9h.5v.5h-.5zM355.7 435.9h.5v.5h-.5zM356.7 435.9h.5v.5h-.5zM357.2 435.9h.5v.5h-.5zM357.7 435.9h.5v.5h-.5zM370.7 435.9h.5v.5h-.5zM371.2 435.9h.5v.5h-.5zM356.7 436.4h.5v.5h-.5zM369.2 436.4h.5v.5h-.5zM369.7 436.4h.5v.5h-.5zM353.2 436.9h.5v.5h-.5zM356.7 436.9h.5v.5h-.5zM368.2 436.9h.5v.5h-.5zM368.7 436.9h.5v.5h-.5zM351.7 437.4h.5v.5h-.5zM353.2 437.4h.5v.5h-.5zM353.7 437.4h.5v.5h-.5zM355.2 437.4h.5v.5h-.5zM351.7 437.9h.5v.5h-.5zM353.7 437.9h.5v.5h-.5zM369.7 437.9h.5v.5h-.5zM370.2 437.9h.5v.5h-.5zM355.2 438.4h.5v.5h-.5zM367.2 438.4h.5v.5h-.5zM367.7 438.4h.5v.5h-.5zM353.2 438.9h.5v.5h-.5zM353.7 438.9h.5v.5h-.5zM354.2 438.9h.5v.5h-.5zM354.7 438.9h.5v.5h-.5zM355.2 438.9h.5v.5h-.5zM366.2 438.9h.5v.5h-.5zM366.7 438.9h.5v.5h-.5zM367.2 438.9h.5v.5h-.5zM367.7 438.9h.5v.5h-.5zM349.7 439.4h.5v.5h-.5zM353.2 439.4h.5v.5h-.5zM353.7 439.4h.5v.5h-.5zM365.2 439.4h.5v.5h-.5zM365.7 439.4h.5v.5h-.5zM366.7 439.4h.5v.5h-.5zM367.2 439.4h.5v.5h-.5zM351.7 439.9h.5v.5h-.5zM352.2 439.9h.5v.5h-.5zM352.7 439.9h.5v.5h-.5zM353.2 439.9h.5v.5h-.5zM353.7 439.9h.5v.5h-.5zM365.2 439.9h.5v.5h-.5zM351.7 440.4h.5v.5h-.5zM365.2 440.4h.5v.5h-.5zM365.7 440.4h.5v.5h-.5zM366.2 440.4h.5v.5h-.5zM351.2 440.9h.5v.5h-.5zM352.7 440.9h.5v.5h-.5zM362.7 440.9h.5v.5h-.5zM364.2 440.9h.5v.5h-.5zM365.7 440.9h.5v.5h-.5zM366.2 440.9h.5v.5h-.5zM348.7 441.4h.5v.5h-.5zM350.7 441.4h.5v.5h-.5zM352.7 441.4h.5v.5h-.5zM353.2 441.4h.5v.5h-.5zM363.2 441.4h.5v.5h-.5zM363.7 441.4h.5v.5h-.5zM348.7 441.9h.5v.5h-.5zM349.2 441.9h.5v.5h-.5zM351.2 441.9h.5v.5h-.5zM363.2 441.9h.5v.5h-.5zM363.7 441.9h.5v.5h-.5zM364.2 441.9h.5v.5h-.5zM361.7 442.4h.5v.5h-.5zM362.2 442.4h.5v.5h-.5zM362.7 442.4h.5v.5h-.5zM363.7 442.4h.5v.5h-.5zM364.7 442.4h.5v.5h-.5zM347.7 442.9h.5v.5h-.5zM349.2 442.9h.5v.5h-.5zM349.7 442.9h.5v.5h-.5zM361.2 442.9h.5v.5h-.5zM361.7 442.9h.5v.5h-.5zM364.2 442.9h.5v.5h-.5zM364.7 442.9h.5v.5h-.5zM347.7 443.4h.5v.5h-.5zM349.2 443.4h.5v.5h-.5zM349.7 443.4h.5v.5h-.5zM359.7 443.4h.5v.5h-.5zM361.7 443.4h.5v.5h-.5zM362.2 443.4h.5v.5h-.5zM362.7 443.4h.5v.5h-.5zM347.7 443.9h.5v.5h-.5zM348.2 443.9h.5v.5h-.5zM349.7 443.9h.5v.5h-.5zM358.7 443.9h.5v.5h-.5zM359.7 443.9h.5v.5h-.5zM361.2 443.9h.5v.5h-.5zM361.7 443.9h.5v.5h-.5zM362.2 443.9h.5v.5h-.5zM362.7 443.9h.5v.5h-.5zM347.2 444.4h.5v.5h-.5zM348.7 444.4h.5v.5h-.5zM349.2 444.4h.5v.5h-.5zM358.7 444.4h.5v.5h-.5zM360.2 444.4h.5v.5h-.5zM360.7 444.4h.5v.5h-.5zM361.2 444.4h.5v.5h-.5zM361.7 444.4h.5v.5h-.5zM347.2 444.9h.5v.5h-.5zM347.7 444.9h.5v.5h-.5zM348.7 444.9h.5v.5h-.5zM358.7 444.9h.5v.5h-.5zM359.7 444.9h.5v.5h-.5zM360.2 444.9h.5v.5h-.5zM361.2 444.9h.5v.5h-.5zM345.2 445.4h.5v.5h-.5zM346.7 445.4h.5v.5h-.5zM347.2 445.4h.5v.5h-.5zM347.7 445.4h.5v.5h-.5zM348.2 445.4h.5v.5h-.5zM348.7 445.4h.5v.5h-.5zM357.7 445.4h.5v.5h-.5zM358.2 445.4h.5v.5h-.5zM358.7 445.4h.5v.5h-.5zM345.2 445.9h.5v.5h-.5zM350.7 445.9h.5v.5h-.5zM357.7 445.9h.5v.5h-.5zM358.2 445.9h.5v.5h-.5zM359.2 445.9h.5v.5h-.5zM357.7 446.4h.5v.5h-.5zM360.7 446.4h.5v.5h-.5zM346.7 446.9h.5v.5h-.5zM347.2 446.9h.5v.5h-.5zM355.7 446.9h.5v.5h-.5zM357.2 446.9h.5v.5h-.5zM357.7 446.9h.5v.5h-.5zM342.7 447.4h.5v.5h-.5zM347.2 447.4h.5v.5h-.5zM348.7 447.4h.5v.5h-.5zM349.2 447.4h.5v.5h-.5zM342.2 447.9h.5v.5h-.5zM342.7 447.9h.5v.5h-.5zM345.7 447.9h.5v.5h-.5zM346.2 447.9h.5v.5h-.5zM346.7 447.9h.5v.5h-.5zM348.7 447.9h.5v.5h-.5zM342.7 448.4h.5v.5h-.5zM344.2 448.4h.5v.5h-.5zM344.7 448.4h.5v.5h-.5zM345.2 448.4h.5v.5h-.5zM345.7 448.4h.5v.5h-.5zM355.7 448.4h.5v.5h-.5zM342.7 448.9h.5v.5h-.5zM343.2 448.9h.5v.5h-.5zM343.7 448.9h.5v.5h-.5zM344.2 448.9h.5v.5h-.5zM345.7 448.9h.5v.5h-.5zM355.2 448.9h.5v.5h-.5zM355.7 448.9h.5v.5h-.5zM345.7 449.4h.5v.5h-.5zM354.7 449.4h.5v.5h-.5zM343.2 449.9h.5v.5h-.5zM345.7 449.9h.5v.5h-.5zM353.2 449.9h.5v.5h-.5zM354.7 449.9h.5v.5h-.5zM355.2 449.9h.5v.5h-.5zM342.7 450.4h.5v.5h-.5zM347.2 450.4h.5v.5h-.5zM350.2 450.4h.5v.5h-.5zM352.2 450.4h.5v.5h-.5zM352.7 450.4h.5v.5h-.5zM353.2 450.4h.5v.5h-.5zM354.7 450.4h.5v.5h-.5zM355.2 450.4h.5v.5h-.5zM339.2 450.9h.5v.5h-.5zM341.2 450.9h.5v.5h-.5zM341.7 450.9h.5v.5h-.5zM342.2 450.9h.5v.5h-.5zM342.7 450.9h.5v.5h-.5zM343.2 450.9h.5v.5h-.5zM344.7 450.9h.5v.5h-.5zM345.2 450.9h.5v.5h-.5zM351.7 450.9h.5v.5h-.5zM353.7 450.9h.5v.5h-.5zM354.2 450.9h.5v.5h-.5zM356.7 450.9h.5v.5h-.5zM339.2 451.4h.5v.5h-.5zM341.2 451.4h.5v.5h-.5zM341.7 451.4h.5v.5h-.5zM343.2 451.4h.5v.5h-.5zM343.7 451.4h.5v.5h-.5zM344.2 451.4h.5v.5h-.5zM344.7 451.4h.5v.5h-.5zM345.2 451.4h.5v.5h-.5zM345.7 451.4h.5v.5h-.5zM351.7 451.4h.5v.5h-.5zM352.2 451.4h.5v.5h-.5zM340.7 451.9h.5v.5h-.5zM342.2 451.9h.5v.5h-.5zM345.7 451.9h.5v.5h-.5zM346.2 451.9h.5v.5h-.5zM348.7 451.9h.5v.5h-.5zM349.2 451.9h.5v.5h-.5zM349.7 451.9h.5v.5h-.5zM351.2 451.9h.5v.5h-.5zM351.7 451.9h.5v.5h-.5zM352.2 451.9h.5v.5h-.5zM352.7 451.9h.5v.5h-.5zM340.2 452.4h.5v.5h-.5zM341.2 452.4h.5v.5h-.5zM342.2 452.4h.5v.5h-.5zM342.7 452.4h.5v.5h-.5zM343.2 452.4h.5v.5h-.5zM345.7 452.4h.5v.5h-.5zM352.7 452.4h.5v.5h-.5zM353.2 452.4h.5v.5h-.5zM339.2 452.9h.5v.5h-.5zM339.7 452.9h.5v.5h-.5zM340.2 452.9h.5v.5h-.5zM341.7 452.9h.5v.5h-.5zM342.2 452.9h.5v.5h-.5zM343.2 452.9h.5v.5h-.5zM345.2 452.9h.5v.5h-.5zM346.7 452.9h.5v.5h-.5zM348.7 452.9h.5v.5h-.5zM349.2 452.9h.5v.5h-.5zM339.7 453.4h.5v.5h-.5zM345.2 453.4h.5v.5h-.5zM346.2 453.4h.5v.5h-.5zM346.7 453.4h.5v.5h-.5zM347.7 453.4h.5v.5h-.5zM348.7 453.4h.5v.5h-.5zM350.7 453.4h.5v.5h-.5zM351.2 453.4h.5v.5h-.5zM340.2 453.9h.5v.5h-.5zM342.7 453.9h.5v.5h-.5zM346.7 453.9h.5v.5h-.5zM348.7 453.9h.5v.5h-.5zM351.2 453.9h.5v.5h-.5zM337.2 454.4h.5v.5h-.5zM337.7 454.4h.5v.5h-.5zM341.2 454.4h.5v.5h-.5zM342.7 454.4h.5v.5h-.5zM344.2 454.4h.5v.5h-.5zM346.7 454.4h.5v.5h-.5zM348.2 454.4h.5v.5h-.5zM348.7 454.4h.5v.5h-.5zM349.2 454.4h.5v.5h-.5zM349.7 454.4h.5v.5h-.5zM341.2 454.9h.5v.5h-.5zM341.7 454.9h.5v.5h-.5zM342.2 454.9h.5v.5h-.5zM342.7 454.9h.5v.5h-.5zM346.7 454.9h.5v.5h-.5zM347.2 454.9h.5v.5h-.5zM348.2 454.9h.5v.5h-.5zM348.7 454.9h.5v.5h-.5zM349.2 454.9h.5v.5h-.5zM349.7 454.9h.5v.5h-.5zM339.2 455.4h.5v.5h-.5zM340.2 455.4h.5v.5h-.5zM341.7 455.4h.5v.5h-.5zM345.7 455.4h.5v.5h-.5zM346.2 455.4h.5v.5h-.5zM346.7 455.4h.5v.5h-.5zM347.2 455.4h.5v.5h-.5zM348.2 455.4h.5v.5h-.5zM348.7 455.4h.5v.5h-.5zM337.2 455.9h.5v.5h-.5zM337.7 455.9h.5v.5h-.5zM338.2 455.9h.5v.5h-.5zM338.7 455.9h.5v.5h-.5zM341.2 455.9h.5v.5h-.5zM341.7 455.9h.5v.5h-.5zM342.2 455.9h.5v.5h-.5zM342.7 455.9h.5v.5h-.5zM343.2 455.9h.5v.5h-.5zM344.2 455.9h.5v.5h-.5zM344.7 455.9h.5v.5h-.5zM345.7 455.9h.5v.5h-.5zM346.2 455.9h.5v.5h-.5zM346.7 455.9h.5v.5h-.5zM347.2 455.9h.5v.5h-.5zM337.2 456.4h.5v.5h-.5zM338.2 456.4h.5v.5h-.5zM338.7 456.4h.5v.5h-.5zM340.2 456.4h.5v.5h-.5zM340.7 456.4h.5v.5h-.5zM343.2 456.4h.5v.5h-.5zM345.2 456.4h.5v.5h-.5zM346.7 456.4h.5v.5h-.5zM347.2 456.4h.5v.5h-.5zM347.7 456.4h.5v.5h-.5zM336.7 456.9h.5v.5h-.5zM337.2 456.9h.5v.5h-.5zM337.7 456.9h.5v.5h-.5zM338.2 456.9h.5v.5h-.5zM338.7 456.9h.5v.5h-.5zM339.2 456.9h.5v.5h-.5zM342.7 456.9h.5v.5h-.5zM343.7 456.9h.5v.5h-.5zM334.2 457.4h.5v.5h-.5zM334.7 457.4h.5v.5h-.5zM335.7 457.4h.5v.5h-.5zM336.2 457.4h.5v.5h-.5zM336.7 457.4h.5v.5h-.5zM339.2 457.4h.5v.5h-.5zM339.7 457.4h.5v.5h-.5zM341.2 457.4h.5v.5h-.5zM341.7 457.4h.5v.5h-.5zM342.2 457.4h.5v.5h-.5zM342.7 457.4h.5v.5h-.5zM343.7 457.4h.5v.5h-.5zM345.7 457.4h.5v.5h-.5zM346.2 457.4h.5v.5h-.5zM335.7 457.9h.5v.5h-.5zM337.7 457.9h.5v.5h-.5zM338.7 457.9h.5v.5h-.5zM339.7 457.9h.5v.5h-.5zM341.2 457.9h.5v.5h-.5zM334.7 458.4h.5v.5h-.5zM335.2 458.4h.5v.5h-.5zM336.2 458.4h.5v.5h-.5zM336.7 458.4h.5v.5h-.5zM337.7 458.4h.5v.5h-.5zM341.7 458.4h.5v.5h-.5zM334.2 458.9h.5v.5h-.5zM335.2 458.9h.5v.5h-.5zM336.7 458.9h.5v.5h-.5zM338.2 458.9h.5v.5h-.5zM342.2 458.9h.5v.5h-.5zM345.2 458.9h.5v.5h-.5zM345.7 458.9h.5v.5h-.5zM334.2 459.4h.5v.5h-.5zM334.7 459.4h.5v.5h-.5zM336.2 459.4h.5v.5h-.5zM336.7 459.4h.5v.5h-.5zM337.2 459.4h.5v.5h-.5zM337.7 459.4h.5v.5h-.5zM338.2 459.4h.5v.5h-.5zM338.7 459.4h.5v.5h-.5zM339.7 459.4h.5v.5h-.5zM340.7 459.4h.5v.5h-.5zM341.2 459.4h.5v.5h-.5zM341.7 459.4h.5v.5h-.5zM342.2 459.4h.5v.5h-.5zM342.7 459.4h.5v.5h-.5zM345.7 459.4h.5v.5h-.5zM334.2 459.9h.5v.5h-.5zM334.7 459.9h.5v.5h-.5zM336.7 459.9h.5v.5h-.5zM337.2 459.9h.5v.5h-.5zM337.7 459.9h.5v.5h-.5zM338.2 459.9h.5v.5h-.5zM338.7 459.9h.5v.5h-.5zM339.2 459.9h.5v.5h-.5zM340.2 459.9h.5v.5h-.5zM340.7 459.9h.5v.5h-.5zM341.2 459.9h.5v.5h-.5zM341.7 459.9h.5v.5h-.5zM342.2 459.9h.5v.5h-.5zM342.7 459.9h.5v.5h-.5zM343.2 459.9h.5v.5h-.5zM332.7 460.4h.5v.5h-.5zM334.2 460.4h.5v.5h-.5zM338.2 460.4h.5v.5h-.5zM338.7 460.4h.5v.5h-.5zM340.2 460.4h.5v.5h-.5zM341.7 460.4h.5v.5h-.5zM342.2 460.4h.5v.5h-.5zM342.7 460.4h.5v.5h-.5zM331.7 460.9h.5v.5h-.5zM332.2 460.9h.5v.5h-.5zM332.7 460.9h.5v.5h-.5zM335.2 460.9h.5v.5h-.5zM335.7 460.9h.5v.5h-.5zM338.2 460.9h.5v.5h-.5zM339.2 460.9h.5v.5h-.5zM340.7 460.9h.5v.5h-.5zM335.2 461.4h.5v.5h-.5zM335.7 461.4h.5v.5h-.5zM336.7 461.4h.5v.5h-.5zM338.7 461.4h.5v.5h-.5zM341.2 461.4h.5v.5h-.5zM332.2 461.9h.5v.5h-.5zM332.7 461.9h.5v.5h-.5zM334.2 461.9h.5v.5h-.5zM334.7 461.9h.5v.5h-.5zM336.2 461.9h.5v.5h-.5zM336.7 461.9h.5v.5h-.5zM338.2 461.9h.5v.5h-.5zM339.2 461.9h.5v.5h-.5zM339.7 461.9h.5v.5h-.5zM340.7 461.9h.5v.5h-.5zM341.2 461.9h.5v.5h-.5zM343.2 461.9h.5v.5h-.5zM343.7 461.9h.5v.5h-.5zM344.2 461.9h.5v.5h-.5zM328.7 462.4h.5v.5h-.5zM332.2 462.4h.5v.5h-.5zM332.7 462.4h.5v.5h-.5zM334.2 462.4h.5v.5h-.5zM335.2 462.4h.5v.5h-.5zM335.7 462.4h.5v.5h-.5zM336.2 462.4h.5v.5h-.5zM336.7 462.4h.5v.5h-.5zM337.2 462.4h.5v.5h-.5zM337.7 462.4h.5v.5h-.5zM338.2 462.4h.5v.5h-.5zM343.7 462.4h.5v.5h-.5zM334.7 462.9h.5v.5h-.5zM335.2 462.9h.5v.5h-.5zM337.2 462.9h.5v.5h-.5zM336.2 463.4h.5v.5h-.5zM337.7 463.4h.5v.5h-.5zM339.7 463.4h.5v.5h-.5zM334.7 463.9h.5v.5h-.5zM335.2 463.9h.5v.5h-.5zM335.7 463.9h.5v.5h-.5zM336.2 463.9h.5v.5h-.5zM336.7 463.9h.5v.5h-.5zM337.2 463.9h.5v.5h-.5zM337.7 463.9h.5v.5h-.5zM331.2 464.4h.5v.5h-.5zM334.7 464.4h.5v.5h-.5zM335.2 464.4h.5v.5h-.5zM335.7 464.4h.5v.5h-.5zM336.2 464.4h.5v.5h-.5zM337.2 464.4h.5v.5h-.5zM337.7 464.4h.5v.5h-.5zM329.7 464.9h.5v.5h-.5zM330.7 464.9h.5v.5h-.5zM331.7 464.9h.5v.5h-.5zM335.2 464.9h.5v.5h-.5zM335.7 464.9h.5v.5h-.5zM336.2 464.9h.5v.5h-.5zM329.2 465.4h.5v.5h-.5zM329.7 465.4h.5v.5h-.5zM330.2 465.4h.5v.5h-.5zM330.7 465.4h.5v.5h-.5zM331.2 465.4h.5v.5h-.5zM331.7 465.4h.5v.5h-.5zM332.2 465.4h.5v.5h-.5zM332.7 465.4h.5v.5h-.5zM333.2 465.4h.5v.5h-.5zM333.7 465.4h.5v.5h-.5zM335.2 465.4h.5v.5h-.5zM329.2 465.9h.5v.5h-.5zM329.7 465.9h.5v.5h-.5zM332.2 465.9h.5v.5h-.5zM333.2 466.4h.5v.5h-.5zM338.7 466.4h.5v.5h-.5zM329.2 466.9h.5v.5h-.5zM329.7 466.9h.5v.5h-.5zM331.2 466.9h.5v.5h-.5zM331.7 466.9h.5v.5h-.5zM332.7 466.9h.5v.5h-.5zM333.2 466.9h.5v.5h-.5zM335.2 466.9h.5v.5h-.5zM335.7 466.9h.5v.5h-.5zM329.2 467.4h.5v.5h-.5zM329.7 467.4h.5v.5h-.5zM331.2 467.4h.5v.5h-.5zM333.7 467.4h.5v.5h-.5zM335.2 467.4h.5v.5h-.5zM335.7 467.4h.5v.5h-.5zM336.2 467.4h.5v.5h-.5zM336.7 467.4h.5v.5h-.5zM333.7 467.9h.5v.5h-.5zM334.2 467.9h.5v.5h-.5zM336.2 467.9h.5v.5h-.5zM336.7 467.9h.5v.5h-.5zM325.7 468.4h.5v.5h-.5zM326.2 468.4h.5v.5h-.5zM329.2 468.4h.5v.5h-.5zM330.2 468.4h.5v.5h-.5zM329.2 468.9h.5v.5h-.5zM329.7 468.9h.5v.5h-.5zM332.2 468.9h.5v.5h-.5zM326.7 469.4h.5v.5h-.5zM327.2 469.4h.5v.5h-.5zM328.7 469.4h.5v.5h-.5zM329.2 469.4h.5v.5h-.5zM328.2 469.9h.5v.5h-.5zM328.7 469.9h.5v.5h-.5zM329.2 469.9h.5v.5h-.5zM330.2 469.9h.5v.5h-.5zM328.7 470.4h.5v.5h-.5zM323.7 470.9h.5v.5h-.5zM324.2 470.9h.5v.5h-.5zM328.2 470.9h.5v.5h-.5zM328.7 470.9h.5v.5h-.5zM328.2 471.4h.5v.5h-.5zM328.7 471.4h.5v.5h-.5zM322.2 471.9h.5v.5h-.5zM322.7 471.9h.5v.5h-.5zM326.2 471.9h.5v.5h-.5zM326.7 471.9h.5v.5h-.5zM329.7 471.9h.5v.5h-.5zM323.7 472.4h.5v.5h-.5zM325.7 472.4h.5v.5h-.5zM326.7 472.4h.5v.5h-.5zM329.2 472.4h.5v.5h-.5zM329.7 472.4h.5v.5h-.5zM323.7 472.9h.5v.5h-.5zM324.2 472.9h.5v.5h-.5zM324.7 472.9h.5v.5h-.5zM325.2 472.9h.5v.5h-.5zM327.7 472.9h.5v.5h-.5zM325.2 473.4h.5v.5h-.5zM325.7 473.4h.5v.5h-.5zM328.7 474.4h.5v.5h-.5zM325.2 474.9h.5v.5h-.5zM325.7 474.9h.5v.5h-.5zM323.2 475.4h.5v.5h-.5zM322.7 475.9h.5v.5h-.5zM323.2 475.9h.5v.5h-.5zM320.2 476.9h.5v.5h-.5zM320.7 476.9h.5v.5h-.5zM320.7 477.4h.5v.5h-.5zM318.7 477.9h.5v.5h-.5zM320.2 477.9h.5v.5h-.5z" fill="#0072BD" fill-opacity="0.83"/>
<path d="M447.2 364.4h.5v.5h-.5zM443.2 364.9h.5v.5h-.5zM440.7 367.4h.5v.5h-.5zM439.7 367.9h.5v.5h-.5zM440.2 367.9h.5v.5h-.5zM435.2 368.4h.5v.5h-.5zM438.2 368.4h.5v.5h-.5zM440.2 368.4h.5v.5h-.5zM440.7 368.4h.5v.5h-.5zM441.2 368.4h.5v.5h-.5zM437.7 368.9h.5v.5h-.5zM440.2 368.9h.5v.5h-.5zM440.7 368.9h.5v.5h-.5zM437.2 369.4h.5v.5h-.5zM437.7 369.4h.5v.5h-.5zM439.2 369.4h.5v.5h-.5zM439.7 369.4h.5v.5h-.5zM440.2 369.4h.5v.5h-.5zM434.7 370.9h.5v.5h-.5zM437.2 370.9h.5v.5h-.5zM440.7 370.9h.5v.5h-.5zM433.2 371.4h.5v.5h-.5zM433.7 371.4h.5v.5h-.5zM434.2 371.4h.5v.5h-.5zM434.7 371.4h.5v.5h-.5zM436.2 371.4h.5v.5h-.5zM436.7 371.4h.5v.5h-.5zM433.2 371.9h.5v.5h-.5zM433.7 371.9h.5v.5h-.5zM436.2 371.9h.5v.5h-.5zM436.7 371.9h.5v.5h-.5zM437.2 371.9h.5v.5h-.5zM428.7 372.4h.5v.5h-.5zM429.2 372.4h.5v.5h-.5zM437.2 372.4h.5v.5h-.5zM439.2 372.4h.5v.5h-.5zM430.7 372.9h.5v.5h-.5zM434.7 372.9h.5v.5h-.5zM435.2 372.9h.5v.5h-.5zM439.2 372.9h.5v.5h-.5zM432.7 373.4h.5v.5h-.5zM433.2 373.4h.5v.5h-.5zM434.2 373.4h.5v.5h-.5zM434.7 373.4h.5v.5h-.5zM435.2 373.4h.5v.5h-.5zM438.7 373.4h.5v.5h-.5zM431.2 373.9h.5v.5h-.5zM432.2 373.9h.5v.5h-.5zM432.7 373.9h.5v.5h-.5zM433.2 373.9h.5v.5h-.5zM433.7 373.9h.5v.5h-.5zM434.2 373.9h.5v.5h-.5zM434.7 373.9h.5v.5h-.5zM435.2 373.9h.5v.5h-.5zM436.7 373.9h.5v.5h-.5zM429.2 374.4h.5v.5h-.5zM430.7 374.4h.5v.5h-.5zM431.2 374.4h.5v.5h-.5zM431.7 374.4h.5v.5h-.5zM432.2 374.4h.5v.5h-.5zM433.2 374.4h.5v.5h-.5zM433.7 374.4h.5v.5h-.5zM434.2 374.4h.5v.5h-.5zM430.2 374.9h.5v.5h-.5zM431.7 374.9h.5v.5h-.5zM432.2 374.9h.5v.5h-.5zM429.7 375.4h.5v.5h-.5zM431.2 375.4h.5v.5h-.5zM432.7 375.4h.5v.5h-.5zM433.2 375.4h.5v.5h-.5zM433.7 375.4h.5v.5h-.5zM434.2 375.4h.5v.5h-.5zM424.7 375.9h.5v.5h-.5zM425.2 375.9h.5v.5h-.5zM428.2 375.9h.5v.5h-.5zM428.7 375.9h.5v.5h-.5zM429.2 375.9h.5v.5h-.5zM430.7 375.9h.5v.5h-.5zM431.2 375.9h.5v.5h-.5zM431.7 375.9h.5v.5h-.5zM432.2 375.9h.5v.5h-.5zM432.7 375.9h.5v.5h-.5zM433.2 375.9h.5v.5h-.5zM433.7 375.9h.5v.5h-.5zM434.2 375.9h.5v.5h-.5zM427.7 376.4h.5v.5h-.5zM428.2 376.4h.5v.5h-.5zM428.7 376.4h.5v.5h-.5zM429.2 376.4h.5v.5h-.5zM431.2 376.4h.5v.5h-.5zM431.7 376.4h.5v.5h-.5zM432.2 376.4h.5v.5h-.5zM427.2 376.9h.5v.5h-.5zM427.7 376.9h.5v.5h-.5zM428.2 376.9h.5v.5h-.5zM428.7 376.9h.5v.5h-.5zM429.2 376.9h.5v.5h-.5zM431.2 376.9h.5v.5h-.5zM431.7 376.9h.5v.5h-.5zM423.2 377.4h.5v.5h-.5zM423.7 377.4h.5v.5h-.5zM424.2 377.4h.5v.5h-.5zM424.7 377.4h.5v.5h-.5zM425.2 377.4h.5v.5h-.5zM426.2 377.4h.5v.5h-.5zM426.7 377.4h.5v.5h-.5zM427.2 377.4h.5v.5h-.5zM427.7 377.4h.5v.5h-.5zM428.7 377.4h.5v.5h-.5zM429.2 377.4h.5v.5h-.5zM431.2 377.4h.5v.5h-.5zM431.7 377.4h.5v.5h-.5zM422.2 377.9h.5v.5h-.5zM422.7 377.9h.5v.5h-.5zM423.2 377.9h.5v.5h-.5zM424.2 377.9h.5v.5h-.5zM424.7 377.9h.5v.5h-.5zM425.2 377.9h.5v.5h-.5zM426.2 377.9h.5v.5h-.5zM426.7 377.9h.5v.5h-.5zM427.2 377.9h.5v.5h-.5zM427.7 377.9h.5v.5h-.5zM428.2 377.9h.5v.5h-.5zM428.7 377.9h.5v.5h-.5zM429.2 377.9h.5v.5h-.5zM429.7 377.9h.5v.5h-.5zM431.2 377.9h.5v.5h-.5zM431.7 377.9h.5v.5h-.5zM432.2 377.9h.5v.5h-.5zM422.2 378.4h.5v.5h-.5zM422.7 378.4h.5v.5h-.5zM423.2 378.4h.5v.5h-.5zM424.2 378.4h.5v.5h-.5zM424.7 378.4h.5v.5h-.5zM425.2 378.4h.5v.5h-.5zM425.7 378.4h.5v.5h-.5zM426.2 378.4h.5v.5h-.5zM426.7 378.4h.5v.5h-.5zM427.2 378.4h.5v.5h-.5zM427.7 378.4h.5v.5h-.5zM429.2 378.4h.5v.5h-.5zM429.7 378.4h.5v.5h-.5zM430.7 378.4h.5v.5h-.5zM431.2 378.4h.5v.5h-.5zM431.7 378.4h.5v.5h-.5zM422.2 378.9h.5v.5h-.5zM422.7 378.9h.5v.5h-.5zM423.2 378.9h.5v.5h-.5zM425.2 378.9h.5v.5h-.5zM425.7 378.9h.5v.5h-.5zM426.2 378.9h.5v.5h-.5zM427.2 378.9h.5v.5h-.5zM427.7 378.9h.5v.5h-.5zM428.7 378.9h.5v.5h-.5zM429.2 378.9h.5v.5h-.5zM429.7 378.9h.5v.5h-.5zM431.2 378.9h.5v.5h-.5zM422.7 379.4h.5v.5h-.5zM423.2 379.4h.5v.5h-.5zM423.7 379.4h.5v.5h-.5zM425.7 379.4h.5v.5h-.5zM426.2 379.4h.5v.5h-.5zM426.7 379.4h.5v.5h-.5zM427.2 379.4h.5v.5h-.5zM427.7 379.4h.5v.5h-.5zM428.7 379.4h.5v.5h-.5zM429.2 379.4h.5v.5h-.5zM430.2 379.4h.5v.5h-.5zM420.7 379.9h.5v.5h-.5zM421.2 379.9h.5v.5h-.5zM422.2 379.9h.5v.5h-.5zM422.7 379.9h.5v.5h-.5zM423.2 379.9h.5v.5h-.5zM423.7 379.9h.5v.5h-.5zM424.2 379.9h.5v.5h-.5zM425.7 379.9h.5v.5h-.5zM426.2 379.9h.5v.5h-.5zM426.7 379.9h.5v.5h-.5zM427.2 379.9h.5v.5h-.5zM427.7 379.9h.5v.5h-.5zM428.2 379.9h.5v.5h-.5zM428.7 379.9h.5v.5h-.5zM430.2 379.9h.5v.5h-.5zM430.7 379.9h.5v.5h-.5zM420.7 380.4h.5v.5h-.5zM421.2 380.4h.5v.5h-.5zM422.2 380.4h.5v.5h-.5zM422.7 380.4h.5v.5h-.5zM423.2 380.4h.5v.5h-.5zM423.7 380.4h.5v.5h-.5zM424.2 380.4h.5v.5h-.5zM424.7 380.4h.5v.5h-.5zM425.2 380.4h.5v.5h-.5zM425.7 380.4h.5v.5h-.5zM426.2 380.4h.5v.5h-.5zM426.7 380.4h.5v.5h-.5zM427.2 380.4h.5v.5h-.5zM427.7 380.4h.5v.5h-.5zM428.2 380.4h.5v.5h-.5zM428.7 380.4h.5v.5h-.5zM429.7 380.4h.5v.5h-.5zM420.2 380.9h.5v.5h-.5zM420.7 380.9h.5v.5h-.5zM421.2 380.9h.5v.5h-.5zM421.7 380.9h.5v.5h-.5zM422.2 380.9h.5v.5h-.5zM422.7 380.9h.5v.5h-.5zM423.2 380.9h.5v.5h-.5zM423.7 380.9h.5v.5h-.5zM424.2 380.9h.5v.5h-.5zM424.7 380.9h.5v.5h-.5zM425.2 380.9h.5v.5h-.5zM425.7 380.9h.5v.5h-.5zM426.2 380.9h.5v.5h-.5zM426.7 380.9h.5v.5h-.5zM427.2 380.9h.5v.5h-.5zM427.7 380.9h.5v.5h-.5zM428.2 380.9h.5v.5h-.5zM418.2 381.4h.5v.5h-.5zM420.2 381.4h.5v.5h-.5zM420.7 381.4h.5v.5h-.5zM421.2 381.4h.5v.5h-.5zM421.7 381.4h.5v.5h-.5zM422.2 381.4h.5v.5h-.5zM422.7 381.4h.5v.5h-.5zM423.2 381.4h.5v.5h-.5zM423.7 381.4h.5v.5h-.5zM424.2 381.4h.5v.5h-.5zM424.7 381.4h.5v.5h-.5zM425.2 381.4h.5v.5h-.5zM425.7 381.4h.5v.5h-.5zM426.2 381.4h.5v.5h-.5zM426.7 381.4h.5v.5h-.5zM427.2 381.4h.5v.5h-.5zM427.7 381.4h.5v.5h-.5zM431.7 381.4h.5v.5h-.5zM418.2 381.9h.5v.5h-.5zM418.7 381.9h.5v.5h-.5zM419.2 381.9h.5v.5h-.5zM419.7 381.9h.5v.5h-.5zM420.7 381.9h.5v.5h-.5zM421.2 381.9h.5v.5h-.5zM421.7 381.9h.5v.5h-.5zM422.2 381.9h.5v.5h-.5zM422.7 381.9h.5v.5h-.5zM423.2 381.9h.5v.5h-.5zM423.7 381.9h.5v.5h-.5zM424.2 381.9h.5v.5h-.5zM424.7 381.9h.5v.5h-.5zM425.2 381.9h.5v.5h-.5zM425.7 381.9h.5v.5h-.5zM426.2 381.9h.5v.5h-.5zM426.7 381.9h.5v.5h-.5zM427.2 381.9h.5v.5h-.5zM428.7 381.9h.5v.5h-.5zM429.2 381.9h.5v.5h-.5zM430.2 381.9h.5v.5h-.5zM431.7 381.9h.5v.5h-.5zM417.7 382.4h.5v.5h-.5zM418.2 382.4h.5v.5h-.5zM418.7 382.4h.5v.5h-.5zM419.2 382.4h.5v.5h-.5zM419.7 382.4h.5v.5h-.5zM420.2 382.4h.5v.5h-.5zM420.7 382.4h.5v.5h-.5zM421.2 382.4h.5v.5h-.5zM421.7 382.4h.5v.5h-.5zM422.2 382.4h.5v.5h-.5zM422.7 382.4h.5v.5h-.5zM423.2 382.4h.5v.5h-.5zM423.7 382.4h.5v.5h-.5zM424.2 382.4h.5v.5h-.5zM424.7 382.4h.5v.5h-.5zM425.2 382.4h.5v.5h-.5zM425.7 382.4h.5v.5h-.5zM426.2 382.4h.5v.5h-.5zM426.7 382.4h.5v.5h-.5zM428.2 382.4h.5v.5h-.5zM428.7 382.4h.5v.5h-.5zM429.2 382.4h.5v.5h-.5zM417.2 382.9h.5v.5h-.5zM417.7 382.9h.5v.5h-.5zM418.2 382.9h.5v.5h-.5zM418.7 382.9h.5v.5h-.5zM419.2 382.9h.5v.5h-.5zM419.7 382.9h.5v.5h-.5zM420.2 382.9h.5v.5h-.5zM420.7 382.9h.5v.5h-.5zM421.2 382.9h.5v.5h-.5zM421.7 382.9h.5v.5h-.5zM422.2 382.9h.5v.5h-.5zM422.7 382.9h.5v.5h-.5zM423.2 382.9h.5v.5h-.5zM423.7 382.9h.5v.5h-.5zM424.2 382.9h.5v.5h-.5zM424.7 382.9h.5v.5h-.5zM425.2 382.9h.5v.5h-.5zM425.7 382.9h.5v.5h-.5zM426.2 382.9h.5v.5h-.5zM428.2 382.9h.5v.5h-.5zM415.2 383.4h.5v.5h-.5zM416.7 383.4h.5v.5h-.5zM417.2 383.4h.5v.5h-.5zM417.7 383.4h.5v.5h-.5zM418.2 383.4h.5v.5h-.5zM418.7 383.4h.5v.5h-.5zM419.2 383.4h.5v.5h-.5zM419.7 383.4h.5v.5h-.5zM420.2 383.4h.5v.5h-.5zM420.7 383.4h.5v.5h-.5zM421.2 383.4h.5v.5h-.5zM421.7 383.4h.5v.5h-.5zM422.2 383.4h.5v.5h-.5zM422.7 383.4h.5v.5h-.5zM423.2 383.4h.5v.5h-.5zM423.7 383.4h.5v.5h-.5zM424.2 383.4h.5v.5h-.5zM424.7 383.4h.5v.5h-.5zM425.2 383.4h.5v.5h-.5zM415.2 383.9h.5v.5h-.5zM415.7 383.9h.5v.5h-.5zM416.7 383.9h.5v.5h-.5zM417.2 383.9h.5v.5h-.5zM417.7 383.9h.5v.5h-.5zM418.2 383.9h.5v.5h-.5zM418.7 383.9h.5v.5h-.5zM419.2 383.9h.5v.5h-.5zM419.7 383.9h.5v.5h-.5zM420.2 383.9h.5v.5h-.5zM420.7 383.9h.5v.5h-.5zM421.2 383.9h.5v.5h-.5zM421.7 383.9h.5v.5h-.5zM422.2 383.9h.5v.5h-.5zM422.7 383.9h.5v.5h-.5zM423.2 383.9h.5v.5h-.5zM423.7 383.9h.5v.5h-.5zM424.2 383.9h.5v.5h-.5zM424.7 383.9h.5v.5h-.5zM425.2 383.9h.5v.5h-.5zM415.7 384.4h.5v.5h-.5zM416.2 384.4h.5v.5h-.5zM416.7 384.4h.5v.5h-.5zM417.2 384.4h.5v.5h-.5zM417.7 384.4h.5v.5h-.5zM418.2 384.4h.5v.5h-.5zM418.7 384.4h.5v.5h-.5zM419.2 384.4h.5v.5h-.5zM419.7 384.4h.5v.5h-.5zM420.2 384.4h.5v.5h-.5zM420.7 384.4h.5v.5h-.5zM421.2 384.4h.5v.5h-.5zM421.7 384.4h.5v.5h-.5zM422.2 384.4h.5v.5h-.5zM422.7 384.4h.5v.5h-.5zM423.2 384.4h.5v.5h-.5zM423.7 384.4h.5v.5h-.5zM424.2 384.4h.5v.5h-.5zM424.7 384.4h.5v.5h-.5zM425.2 384.4h.5v.5h-.5zM413.7 384.9h.5v.5h-.5zM414.7 384.9h.5v.5h-.5zM415.2 384.9h.5v.5h-.5zM415.7 384.9h.5v.5h-.5zM416.2 384.9h.5v.5h-.5zM416.7 384.9h.5v.5h-.5zM417.2 384.9h.5v.5h-.5zM417.7 384.9h.5v.5h-.5zM418.2 384.9h.5v.5h-.5zM418.7 384.9h.5v.5h-.5zM419.2 384.9h.5v.5h-.5zM419.7 384.9h.5v.5h-.5zM420.2 384.9h.5v.5h-.5zM420.7 384.9h.5v.5h-.5zM421.2 384.9h.5v.5h-.5zM421.7 384.9h.5v.5h-.5zM422.2 384.9h.5v.5h-.5zM422.7 384.9h.5v.5h-.5zM423.2 384.9h.5v.5h-.5zM423.7 384.9h.5v.5h-.5zM412.7 385.4h.5v.5h-.5zM413.2 385.4h.5v.5h-.5zM414.2 385.4h.5v.5h-.5zM414.7 385.4h.5v.5h-.5zM415.2 385.4h.5v.5h-.5zM415.7 385.4h.5v.5h-.5zM416.2 385.4h.5v.5h-.5zM416.7 385.4h.5v.5h-.5zM417.2 385.4h.5v.5h-.5zM417.7 385.4h.5v.5h-.5zM418.2 385.4h.5v.5h-.5zM418.7 385.4h.5v.5h-.5zM419.2 385.4h.5v.5h-.5zM419.7 385.4h.5v.5h-.5zM420.2 385.4h.5v.5h-.5zM420.7 385.4h.5v.5h-.5zM421.2 385.4h.5v.5h-.5zM421.7 385.4h.5v.5h-.5zM422.2 385.4h.5v.5h-.5zM422.7 385.4h.5v.5h-.5zM425.2 385.4h.5v.5h-.5zM425.7 385.4h.5v.5h-.5zM413.2 385.9h.5v.5h-.5zM413.7 385.9h.5v.5h-.5zM414.2 385.9h.5v.5h-.5zM414.7 385.9h.5v.5h-.5zM415.2 385.9h.5v.5h-.5zM415.7 385.9h.5v.5h-.5zM416.2 385.9h.5v.5h-.5zM416.7 385.9h.5v.5h-.5zM417.2 385.9h.5v.5h-.5zM417.7 385.9h.5v.5h-.5zM418.2 385.9h.5v.5h-.5zM418.7 385.9h.5v.5h-.5zM419.2 385.9h.5v.5h-.5zM419.7 385.9h.5v.5h-.5zM420.2 385.9h.5v.5h-.5zM420.7 385.9h.5v.5h-.5zM421.2 385.9h.5v.5h-.5zM422.2 385.9h.5v.5h-.5zM422.7 385.9h.5v.5h-.5zM424.2 385.9h.5v.5h-.5zM424.7 385.9h.5v.5h-.5zM425.2 385.9h.5v.5h-.5zM425.7 385.9h.5v.5h-.5zM411.7 386.4h.5v.5h-.5zM412.2 386.4h.5v.5h-.5zM412.7 386.4h.5v.5h-.5zM413.2 386.4h.5v.5h-.5zM413.7 386.4h.5v.5h-.5zM414.2 386.4h.5v.5h-.5zM414.7 386.4h.5v.5h-.5zM415.2 386.4h.5v.5h-.5zM415.7 386.4h.5v.5h-.5zM416.2 386.4h.5v.5h-.5zM416.7 386.4h.5v.5h-.5zM417.2 386.4h.5v.5h-.5zM417.7 386.4h.5v.5h-.5zM418.2 386.4h.5v.5h-.5zM418.7 386.4h.5v.5h-.5zM419.2 386.4h.5v.5h-.5zM419.7 386.4h.5v.5h-.5zM420.2 386.4h.5v.5h-.5zM420.7 386.4h.5v.5h-.5zM421.2 386.4h.5v.5h-.5zM421.7 386.4h.5v.5h-.5zM422.2 386.4h.5v.5h-.5zM422.7 386.4h.5v.5h-.5zM423.7 386.4h.5v.5h-.5zM424.2 386.4h.5v.5h-.5zM411.7 386.9h.5v.5h-.5zM412.2 386.9h.5v.5h-.5zM412.7 386.9h.5v.5h-.5zM413.2 386.9h.5v.5h-.5zM413.7 386.9h.5v.5h-.5zM414.2 386.9h.5v.5h-.5zM414.7 386.9h.5v.5h-.5zM415.2 386.9h.5v.5h-.5zM415.7 386.9h.5v.5h-.5zM416.2 386.9h.5v.5h-.5zM416.7 386.9h.5v.5h-.5zM417.2 386.9h.5v.5h-.5zM417.7 386.9h.5v.5h-.5zM418.2 386.9h.5v.5h-.5zM418.7 386.9h.5v.5h-.5zM419.2 386.9h.5v.5h-.5zM419.7 386.9h.5v.5h-.5zM420.2 386.9h.5v.5h-.5zM420.7 386.9h.5v.5h-.5zM421.2 386.9h.5v.5h-.5zM421.7 386.9h.5v.5h-.5zM422.2 386.9h.5v.5h-.5zM423.7 386.9h.5v.5h-.5zM424.2 386.9h.5v.5h-.5zM424.7 386.9h.5v.5h-.5zM411.7 387.4h.5v.5h-.5zM412.2 387.4h.5v.5h-.5zM412.7 387.4h.5v.5h-.5zM413.2 387.4h.5v.5h-.5zM413.7 387.4h.5v.5h-.5zM414.2 387.4h.5v.5h-.5zM414.7 387.4h.5v.5h-.5zM415.2 387.4h.5v.5h-.5zM415.7 387.4h.5v.5h-.5zM416.2 387.4h.5v.5h-.5zM416.7 387.4h.5v.5h-.5zM417.2 387.4h.5v.5h-.5zM417.7 387.4h.5v.5h-.5zM418.2 387.4h.5v.5h-.5zM418.7 387.4h.5v.5h-.5zM419.2 387.4h.5v.5h-.5zM419.7 387.4h.5v.5h-.5zM420.2 387.4h.5v.5h-.5zM420.7 387.4h.5v.5h-.5zM421.2 387.4h.5v.5h-.5zM411.2 387.9h.5v.5h-.5zM411.7 387.9h.5v.5h-.5zM412.2 387.9h.5v.5h-.5zM412.7 387.9h.5v.5h-.5zM413.2 387.9h.5v.5h-.5zM413.7 387.9h.5v.5h-.5zM414.2 387.9h.5v.5h-.5zM414.7 387.9h.5v.5h-.5zM415.2 387.9h.5v.5h-.5zM415.7 387.9h.5v.5h-.5zM416.2 387.9h.5v.5h-.5zM416.7 387.9h.5v.5h-.5zM417.2 387.9h.5v.5h-.5zM417.7 387.9h.5v.5h-.5zM418.2 387.9h.5v.5h-.5zM418.7 387.9h.5v.5h-.5zM419.2 387.9h.5v.5h-.5zM419.7 387.9h.5v.5h-.5zM420.2 387.9h.5v.5h-.5zM420.7 387.9h.5v.5h-.5zM421.2 387.9h.5v.5h-.5zM423.2 387.9h.5v.5h-.5zM410.2 388.4h.5v.5h-.5zM410.7 388.4h.5v.5h-.5zM411.2 388.4h.5v.5h-.5zM411.7 388.4h.5v.5h-.5zM412.2 388.4h.5v.5h-.5zM412.7 388.4h.5v.5h-.5zM413.2 388.4h.5v.5h-.5zM413.7 388.4h.5v.5h-.5zM414.2 388.4h.5v.5h-.5zM414.7 388.4h.5v.5h-.5zM415.2 388.4h.5v.5h-.5zM415.7 388.4h.5v.5h-.5zM416.2 388.4h.5v.5h-.5zM416.7 388.4h.5v.5h-.5zM417.2 388.4h.5v.5h-.5zM417.7 388.4h.5v.5h-.5zM418.2 388.4h.5v.5h-.5zM418.7 388.4h.5v.5h-.5zM419.2 388.4h.5v.5h-.5zM419.7 388.4h.5v.5h-.5zM420.2 388.4h.5v.5h-.5zM420.7 388.4h.5v.5h-.5zM421.2 388.4h.5v.5h-.5zM408.2 388.9h.5v.5h-.5zM408.7 388.9h.5v.5h-.5zM409.2 388.9h.5v.5h-.5zM409.7 388.9h.5v.5h-.5zM410.2 388.9h.5v.5h-.5zM410.7 388.9h.5v.5h-.5zM411.2 388.9h.5v.5h-.5zM411.7 388.9h.5v.5h-.5zM412.2 388.9h.5v.5h-.5zM412.7 388.9h.5v.5h-.5zM413.2 388.9h.5v.5h-.5zM413.7 388.9h.5v.5h-.5zM414.2 388.9h.5v.5h-.5zM414.7 388.9h.5v.5h-.5zM415.2 388.9h.5v.5h-.5zM415.7 388.9h.5v.5h-.5zM416.2 388.9h.5v.5h-.5zM416.7 388.9h.5v.5h-.5zM417.2 388.9h.5v.5h-.5zM417.7 388.9h.5v.5h-.5zM418.2 388.9h.5v.5h-.5zM418.7 388.9h.5v.5h-.5zM419.2 388.9h.5v.5h-.5zM419.7 388.9h.5v.5h-.5zM420.2 388.9h.5v.5h-.5zM420.7 388.9h.5v.5h-.5zM421.2 388.9h.5v.5h-.5zM421.7 388.9h.5v.5h-.5zM408.2 389.4h.5v.5h-.5zM408.7 389.4h.5v.5h-.5zM409.2 389.4h.5v.5h-.5zM409.7 389.4h.5v.5h-.5zM410.2 389.4h.5v.5h-.5zM410.7 389.4h.5v.5h-.5zM411.2 389.4h.5v.5h-.5zM411.7 389.4h.5v.5h-.5zM412.2 389.4h.5v.5h-.5zM412.7 389.4h.5v.5h-.5zM413.2 389.4h.5v.5h-.5zM413.7 389.4h.5v.5h-.5zM414.2 389.4h.5v.5h-.5zM414.7 389.4h.5v.5h-.5zM415.2 389.4h.5v.5h-.5zM415.7 389.4h.5v.5h-.5zM416.2 389.4h.5v.5h-.5zM416.7 389.4h.5v.5h-.5zM417.2 389.4h.5v.5h-.5zM417.7 389.4h.5v.5h-.5zM418.2 389.4h.5v.5h-.5zM418.7 389.4h.5v.5h-.5zM419.2 389.4h.5v.5h-.5zM419.7 389.4h.5v.5h-.5zM420.7 389.4h.5v.5h-.5zM421.2 389.4h.5v.5h-.5zM421.7 389.4h.5v.5h-.5zM409.2 389.9h.5v.5h-.5zM409.7 389.9h.5v.5h-.5zM410.2 389.9h.5v.5h-.5zM410.7 389.9h.5v.5h-.5zM411.2 389.9h.5v.5h-.5zM411.7 389.9h.5v.5h-.5zM412.2 389.9h.5v.5h-.5zM412.7 389.9h.5v.5h-.5zM413.2 389.9h.5v.5h-.5zM413.7 389.9h.5v.5h-.5zM414.2 389.9h.5v.5h-.5zM414.7 389.9h.5v.5h-.5zM415.2 389.9h.5v.5h-.5zM415.7 389.9h.5v.5h-.5zM416.2 389.9h.5v.5h-.5zM416.7 389.9h.5v.5h-.5zM417.2 389.9h.5v.5h-.5zM417.7 389.9h.5v.5h-.5zM418.2 389.9h.5v.5h-.5zM418.7 389.9h.5v.5h-.5zM419.2 389.9h.5v.5h-.5zM420.2 389.9h.5v.5h-.5zM420.7 389.9h.5v.5h-.5zM421.2 389.9h.5v.5h-.5zM409.2 390.4h.5v.5h-.5zM409.7 390.4h.5v.5h-.5zM410.2 390.4h.5v.5h-.5zM410.7 390.4h.5v.5h-.5zM411.2 390.4h.5v.5h-.5zM411.7 390.4h.5v.5h-.5zM412.2 390.4h.5v.5h-.5zM412.7 390.4h.5v.5h-.5zM413.2 390.4h.5v.5h-.5zM413.7 390.4h.5v.5h-.5zM414.2 390.4h.5v.5h-.5zM414.7 390.4h.5v.5h-.5zM415.2 390.4h.5v.5h-.5zM415.7 390.4h.5v.5h-.5zM416.2 390.4h.5v.5h-.5zM416.7 390.4h.5v.5h-.5zM417.2 390.4h.5v.5h-.5zM417.7 390.4h.5v.5h-.5zM418.2 390.4h.5v.5h-.5zM418.7 390.4h.5v.5h-.5zM407.7 390.9h.5v.5h-.5zM408.2 390.9h.5v.5h-.5zM408.7 390.9h.5v.5h-.5zM409.2 390.9h.5v.5h-.5zM409.7 390.9h.5v.5h-.5zM410.2 390.9h.5v.5h-.5zM410.7 390.9h.5v.5h-.5zM411.2 390.9h.5v.5h-.5zM411.7 390.9h.5v.5h-.5zM412.2 390.9h.5v.5h-.5zM412.7 390.9h.5v.5h-.5zM413.2 390.9h.5v.5h-.5zM413.7 390.9h.5v.5h-.5zM414.2 390.9h.5v.5h-.5zM414.7 390.9h.5v.5h-.5zM415.2 390.9h.5v.5h-.5zM415.7 390.9h.5v.5h-.5zM416.2 390.9h.5v.5h-.5zM416.7 390.9h.5v.5h-.5zM417.2 390.9h.5v.5h-.5zM417.7 390.9h.5v.5h-.5zM418.2 390.9h.5v.5h-.5zM418.7 390.9h.5v.5h-.5zM406.7 391.4h.5v.5h-.5zM407.2 391.4h.5v.5h-.5zM407.7 391.4h.5v.5h-.5zM408.2 391.4h.5v.5h-.5zM408.7 391.4h.5v.5h-.5zM409.2 391.4h.5v.5h-.5zM409.7 391.4h.5v.5h-.5zM410.2 391.4h.5v.5h-.5zM410.7 391.4h.5v.5h-.5zM411.2 391.4h.5v.5h-.5zM411.7 391.4h.5v.5h-.5zM412.2 391.4h.5v.5h-.5zM412.7 391.4h.5v.5h-.5zM413.2 391.4h.5v.5h-.5zM413.7 391.4h.5v.5h-.5zM414.2 391.4h.5v.5h-.5zM414.7 391.4h.5v.5h-.5zM415.2 391.4h.5v.5h-.5zM415.7 391.4h.5v.5h-.5zM416.2 391.4h.5v.5h-.5zM416.7 391.4h.5v.5h-.5zM417.2 391.4h.5v.5h-.5zM417.7 391.4h.5v.5h-.5zM418.2 391.4h.5v.5h-.5zM405.7 391.9h.5v.5h-.5zM406.2 391.9h.5v.5h-.5zM406.7 391.9h.5v.5h-.5zM407.2 391.9h.5v.5h-.5zM407.7 391.9h.5v.5h-.5zM408.2 391.9h.5v.5h-.5zM408.7 391.9h.5v.5h-.5zM409.2 391.9h.5v.5h-.5zM409.7 391.9h.5v.5h-.5zM410.2 391.9h.5v.5h-.5zM410.7 391.9h.5v.5h-.5zM411.2 391.9h.5v.5h-.5zM411.7 391.9h.5v.5h-.5zM412.2 391.9h.5v.5h-.5zM412.7 391.9h.5v.5h-.5zM413.2 391.9h.5v.5h-.5zM413.7 391.9h.5v.5h-.5zM414.2 391.9h.5v.5h-.5zM414.7 391.9h.5v.5h-.5zM415.2 391.9h.5v.5h-.5zM415.7 391.9h.5v.5h-.5zM416.2 391.9h.5v.5h-.5zM418.2 391.9h.5v.5h-.5zM418.7 391.9h.5v.5h-.5zM405.7 392.4h.5v.5h-.5zM406.2 392.4h.5v.5h-.5zM406.7 392.4h.5v.5h-.5zM407.2 392.4h.5v.5h-.5zM407.7 392.4h.5v.5h-.5zM408.2 392.4h.5v.5h-.5zM408.7 392.4h.5v.5h-.5zM409.2 392.4h.5v.5h-.5zM409.7 392.4h.5v.5h-.5zM410.2 392.4h.5v.5h-.5zM410.7 392.4h.5v.5h-.5zM411.2 392.4h.5v.5h-.5zM411.7 392.4h.5v.5h-.5zM412.2 392.4h.5v.5h-.5zM412.7 392.4h.5v.5h-.5zM413.2 392.4h.5v.5h-.5zM413.7 392.4h.5v.5h-.5zM414.2 392.4h.5v.5h-.5zM414.7 392.4h.5v.5h-.5zM415.2 392.4h.5v.5h-.5zM415.7 392.4h.5v.5h-.5zM416.2 392.4h.5v.5h-.5zM416.7 392.4h.5v.5h-.5zM417.2 392.4h.5v.5h-.5zM418.2 392.4h.5v.5h-.5zM418.7 392.4h.5v.5h-.5zM405.7 392.9h.5v.5h-.5zM406.2 392.9h.5v.5h-.5zM406.7 392.9h.5v.5h-.5zM407.2 392.9h.5v.5h-.5zM407.7 392.9h.5v.5h-.5zM408.2 392.9h.5v.5h-.5zM408.7 392.9h.5v.5h-.5zM409.2 392.9h.5v.5h-.5zM409.7 392.9h.5v.5h-.5zM410.2 392.9h.5v.5h-.5zM410.7 392.9h.5v.5h-.5zM411.2 392.9h.5v.5h-.5zM411.7 392.9h.5v.5h-.5zM412.2 392.9h.5v.5h-.5zM412.7 392.9h.5v.5h-.5zM413.2 392.9h.5v.5h-.5zM413.7 392.9h.5v.5h-.5zM414.2 392.9h.5v.5h-.5zM414.7 392.9h.5v.5h-.5zM415.2 392.9h.5v.5h-.5zM415.7 392.9h.5v.5h-.5zM416.7 392.9h.5v.5h-.5zM417.2 392.9h.5v.5h-.5zM417.7 392.9h.5v.5h-.5zM418.2 392.9h.5v.5h-.5zM418.7 392.9h.5v.5h-.5zM404.2 393.4h.5v.5h-.5zM404.7 393.4h.5v.5h-.5zM405.2 393.4h.5v.5h-.5zM405.7 393.4h.5v.5h-.5zM406.2 393.4h.5v.5h-.5zM406.7 393.4h.5v.5h-.5zM407.2 393.4h.5v.5h-.5zM407.7 393.4h.5v.5h-.5zM408.2 393.4h.5v.5h-.5zM408.7 393.4h.5v.5h-.5zM409.2 393.4h.5v.5h-.5zM409.7 393.4h.5v.5h-.5zM410.2 393.4h.5v.5h-.5zM410.7 393.4h.5v.5h-.5zM411.2 393.4h.5v.5h-.5zM411.7 393.4h.5v.5h-.5zM412.2 393.4h.5v.5h-.5zM412.7 393.4h.5v.5h-.5zM413.2 393.4h.5v.5h-.5zM413.7 393.4h.5v.5h-.5zM414.2 393.4h.5v.5h-.5zM415.2 393.4h.5v.5h-.5zM403.7 393.9h.5v.5h-.5zM404.2 393.9h.5v.5h-.5zM404.7 393.9h.5v.5h-.5zM405.2 393.9h.5v.5h-.5zM405.7 393.9h.5v.5h-.5zM406.2 393.9h.5v.5h-.5zM406.7 393.9h.5v.5h-.5zM407.2 393.9h.5v.5h-.5zM407.7 393.9h.5v.5h-.5zM408.2 393.9h.5v.5h-.5zM408.7 393.9h.5v.5h-.5zM409.2 393.9h.5v.5h-.5zM409.7 393.9h.5v.5h-.5zM410.2 393.9h.5v.5h-.5zM410.7 393.9h.5v.5h-.5zM411.2 393.9h.5v.5h-.5zM411.7 393.9h.5v.5h-.5zM412.2 393.9h.5v.5h-.5zM412.7 393.9h.5v.5h-.5zM413.2 393.9h.5v.5h-.5zM413.7 393.9h.5v.5h-.5zM414.2 393.9h.5v.5h-.5zM414.7 393.9h.5v.5h-.5zM402.7 394.4h.5v.5h-.5zM403.2 394.4h.5v.5h-.5zM403.7 394.4h.5v.5h-.5zM404.2 394.4h.5v.5h-.5zM404.7 394.4h.5v.5h-.5zM405.2 394.4h.5v.5h-.5zM405.7 394.4h.5v.5h-.5zM406.2 394.4h.5v.5h-.5zM406.7 394.4h.5v.5h-.5zM407.2 394.4h.5v.5h-.5zM407.7 394.4h.5v.5h-.5zM408.2 394.4h.5v.5h-.5zM408.7 394.4h.5v.5h-.5zM409.2 394.4h.5v.5h-.5zM409.7 394.4h.5v.5h-.5zM410.2 394.4h.5v.5h-.5zM410.7 394.4h.5v.5h-.5zM411.2 394.4h.5v.5h-.5zM411.7 394.4h.5v.5h-.5zM412.2 394.4h.5v.5h-.5zM412.7 394.4h.5v.5h-.5zM413.2 394.4h.5v.5h-.5zM413.7 394.4h.5v.5h-.5zM414.2 394.4h.5v.5h-.5zM414.7 394.4h.5v.5h-.5zM401.7 394.9h.5v.5h-.5zM402.2 394.9h.5v.5h-.5zM402.7 394.9h.5v.5h-.5zM403.2 394.9h.5v.5h-.5zM403.7 394.9h.5v.5h-.5zM404.2 394.9h.5v.5h-.5zM404.7 394.9h.5v.5h-.5zM405.2 394.9h.5v.5h-.5zM405.7 394.9h.5v.5h-.5zM406.2 394.9h.5v.5h-.5zM406.7 394.9h.5v.5h-.5zM407.2 394.9h.5v.5h-.5zM407.7 394.9h.5v.5h-.5zM408.2 394.9h.5v.5h-.5zM408.7 394.9h.5v.5h-.5zM409.2 394.9h.5v.5h-.5zM409.7 394.9h.5v.5h-.5zM410.2 394.9h.5v.5h-.5zM410.7 394.9h.5v.5h-.5zM411.2 394.9h.5v.5h-.5zM411.7 394.9h.5v.5h-.5zM412.2 394.9h.5v.5h-.5zM412.7 394.9h.5v.5h-.5zM413.2 394.9h.5v.5h-.5zM413.7 394.9h.5v.5h-.5zM414.7 394.9h.5v.5h-.5zM415.2 394.9h.5v.5h-.5zM401.2 395.4h.5v.5h-.5zM401.7 395.4h.5v.5h-.5zM402.2 395.4h.5v.5h-.5zM402.7 395.4h.5v.5h-.5zM403.7 395.4h.5v.5h-.5zM404.2 395.4h.5v.5h-.5zM404.7 395.4h.5v.5h-.5zM405.2 395.4h.5v.5h-.5zM405.7 395.4h.5v.5h-.5zM406.2 395.4h.5v.5h-.5zM406.7 395.4h.5v.5h-.5zM407.2 395.4h.5v.5h-.5zM407.7 395.4h.5v.5h-.5zM408.2 395.4h.5v.5h-.5zM408.7 395.4h.5v.5h-.5zM409.2 395.4h.5v.5h-.5zM409.7 395.4h.5v.5h-.5zM410.2 395.4h.5v.5h-.5zM410.7 395.4h.5v.5h-.5zM411.2 395.4h.5v.5h-.5zM411.7 395.4h.5v.5h-.5zM412.2 395.4h.5v.5h-.5zM412.7 395.4h.5v.5h-.5zM413.2 395.4h.5v.5h-.5zM413.7 395.4h.5v.5h-.5zM401.7 395.9h.5v.5h-.5zM402.2 395.9h.5v.5h-.5zM402.7 395.9h.5v.5h-.5zM403.2 395.9h.5v.5h-.5zM403.7 395.9h.5v.5h-.5zM404.2 395.9h.5v.5h-.5zM404.7 395.9h.5v.5h-.5zM405.2 395.9h.5v.5h-.5zM405.7 395.9h.5v.5h-.5zM406.2 395.9h.5v.5h-.5zM406.7 395.9h.5v.5h-.5zM407.2 395.9h.5v.5h-.5zM407.7 395.9h.5v.5h-.5zM408.2 395.9h.5v.5h-.5zM408.7 395.9h.5v.5h-.5zM409.2 395.9h.5v.5h-.5zM409.7 395.9h.5v.5h-.5zM410.2 395.9h.5v.5h-.5zM410.7 395.9h.5v.5h-.5zM411.2 395.9h.5v.5h-.5zM411.7 395.9h.5v.5h-.5zM412.2 395.9h.5v.5h-.5zM412.7 395.9h.5v.5h-.5zM413.2 395.9h.5v.5h-.5zM413.7 395.9h.5v.5h-.5zM401.7 396.4h.5v.5h-.5zM402.2 396.4h.5v.5h-.5zM402.7 396.4h.5v.5h-.5zM403.2 396.4h.5v.5h-.5zM403.7 396.4h.5v.5h-.5zM404.2 396.4h.5v.5h-.5zM404.7 396.4h.5v.5h-.5zM405.2 396.4h.5v.5h-.5zM405.7 396.4h.5v.5h-.5zM406.2 396.4h.5v.5h-.5zM406.7 396.4h.5v.5h-.5zM407.2 396.4h.5v.5h-.5zM407.7 396.4h.5v.5h-.5zM408.2 396.4h.5v.5h-.5zM408.7 396.4h.5v.5h-.5zM409.2 396.4h.5v.5h-.5zM409.7 396.4h.5v.5h-.5zM410.2 396.4h.5v.5h-.5zM410.7 396.4h.5v.5h-.5zM411.2 396.4h.5v.5h-.5zM411.7 396.4h.5v.5h-.5zM412.2 396.4h.5v.5h-.5zM412.7 396.4h.5v.5h-.5zM398.2 396.9h.5v.5h-.5zM398.7 396.9h.5v.5h-.5zM400.7 396.9h.5v.5h-.5zM401.2 396.9h.5v.5h-.5zM401.7 396.9h.5v.5h-.5zM402.2 396.9h.5v.5h-.5zM402.7 396.9h.5v.5h-.5zM403.2 396.9h.5v.5h-.5zM403.7 396.9h.5v.5h-.5zM404.2 396.9h.5v.5h-.5zM404.7 396.9h.5v.5h-.5zM405.2 396.9h.5v.5h-.5zM405.7 396.9h.5v.5h-.5zM406.2 396.9h.5v.5h-.5zM406.7 396.9h.5v.5h-.5zM407.2 396.9h.5v.5h-.5zM407.7 396.9h.5v.5h-.5zM408.2 396.9h.5v.5h-.5zM408.7 396.9h.5v.5h-.5zM409.2 396.9h.5v.5h-.5zM409.7 396.9h.5v.5h-.5zM410.2 396.9h.5v.5h-.5zM410.7 396.9h.5v.5h-.5zM411.2 396.9h.5v.5h-.5zM411.7 396.9h.5v.5h-.5zM412.2 396.9h.5v.5h-.5zM412.7 396.9h.5v.5h-.5zM398.2 397.4h.5v.5h-.5zM398.7 397.4h.5v.5h-.5zM399.7 397.4h.5v.5h-.5zM400.2 397.4h.5v.5h-.5zM400.7 397.4h.5v.5h-.5zM401.2 397.4h.5v.5h-.5zM401.7 397.4h.5v.5h-.5zM402.2 397.4h.5v.5h-.5zM402.7 397.4h.5v.5h-.5zM403.2 397.4h.5v.5h-.5zM403.7 397.4h.5v.5h-.5zM404.2 397.4h.5v.5h-.5zM404.7 397.4h.5v.5h-.5zM405.2 397.4h.5v.5h-.5zM405.7 397.4h.5v.5h-.5zM406.2 397.4h.5v.5h-.5zM406.7 397.4h.5v.5h-.5zM407.2 397.4h.5v.5h-.5zM407.7 397.4h.5v.5h-.5zM408.2 397.4h.5v.5h-.5zM408.7 397.4h.5v.5h-.5zM409.2 397.4h.5v.5h-.5zM409.7 397.4h.5v.5h-.5zM410.2 397.4h.5v.5h-.5zM410.7 397.4h.5v.5h-.5zM411.7 397.4h.5v.5h-.5zM412.2 397.4h.5v.5h-.5zM398.2 397.9h.5v.5h-.5zM399.7 397.9h.5v.5h-.5zM400.2 397.9h.5v.5h-.5zM400.7 397.9h.5v.5h-.5zM401.2 397.9h.5v.5h-.5zM401.7 397.9h.5v.5h-.5zM402.2 397.9h.5v.5h-.5zM402.7 397.9h.5v.5h-.5zM403.2 397.9h.5v.5h-.5zM403.7 397.9h.5v.5h-.5zM404.2 397.9h.5v.5h-.5zM404.7 397.9h.5v.5h-.5zM405.2 397.9h.5v.5h-.5zM405.7 397.9h.5v.5h-.5zM406.2 397.9h.5v.5h-.5zM406.7 397.9h.5v.5h-.5zM407.2 397.9h.5v.5h-.5zM407.7 397.9h.5v.5h-.5zM408.2 397.9h.5v.5h-.5zM408.7 397.9h.5v.5h-.5zM409.2 397.9h.5v.5h-.5zM409.7 397.9h.5v.5h-.5zM410.2 397.9h.5v.5h-.5zM410.7 397.9h.5v.5h-.5zM411.2 397.9h.5v.5h-.5zM411.7 397.9h.5v.5h-.5zM412.2 397.9h.5v.5h-.5zM398.2 398.4h.5v.5h-.5zM398.7 398.4h.5v.5h-.5zM399.2 398.4h.5v.5h-.5zM399.7 398.4h.5v.5h-.5zM400.2 398.4h.5v.5h-.5zM400.7 398.4h.5v.5h-.5zM401.2 398.4h.5v.5h-.5zM401.7 398.4h.5v.5h-.5zM402.2 398.4h.5v.5h-.5zM402.7 398.4h.5v.5h-.5zM403.2 398.4h.5v.5h-.5zM403.7 398.4h.5v.5h-.5zM404.2 398.4h.5v.5h-.5zM404.7 398.4h.5v.5h-.5zM405.2 398.4h.5v.5h-.5zM405.7 398.4h.5v.5h-.5zM406.2 398.4h.5v.5h-.5zM406.7 398.4h.5v.5h-.5zM407.2 398.4h.5v.5h-.5zM407.7 398.4h.5v.5h-.5zM408.2 398.4h.5v.5h-.5zM408.7 398.4h.5v.5h-.5zM409.2 398.4h.5v.5h-.5zM409.7 398.4h.5v.5h-.5zM410.2 398.4h.5v.5h-.5zM410.7 398.4h.5v.5h-.5zM411.2 398.4h.5v.5h-.5zM411.7 398.4h.5v.5h-.5zM398.2 398.9h.5v.5h-.5zM398.7 398.9h.5v.5h-.5zM399.2 398.9h.5v.5h-.5zM399.7 398.9h.5v.5h-.5zM400.2 398.9h.5v.5h-.5zM400.7 398.9h.5v.5h-.5zM401.2 398.9h.5v.5h-.5zM401.7 398.9h.5v.5h-.5zM402.2 398.9h.5v.5h-.5zM402.7 398.9h.5v.5h-.5zM403.2 398.9h.5v.5h-.5zM403.7 398.9h.5v.5h-.5zM404.2 398.9h.5v.5h-.5zM404.7 398.9h.5v.5h-.5zM405.2 398.9h.5v.5h-.5zM405.7 398.9h.5v.5h-.5zM406.2 398.9h.5v.5h-.5zM406.7 398.9h.5v.5h-.5zM407.2 398.9h.5v.5h-.5zM407.7 398.9h.5v.5h-.5zM408.2 398.9h.5v.5h-.5zM408.7 398.9h.5v.5h-.5zM409.2 398.9h.5v.5h-.5zM409.7 398.9h.5v.5h-.5zM410.2 398.9h.5v.5h-.5zM397.7 399.4h.5v.5h-.5zM398.2 399.4h.5v.5h-.5zM398.7 399.4h.5v.5h-.5zM399.2 399.4h.5v.5h-.5zM399.7 399.4h.5v.5h-.5zM400.2 399.4h.5v.5h-.5zM400.7 399.4h.5v.5h-.5zM401.2 399.4h.5v.5h-.5zM401.7 399.4h.5v.5h-.5zM402.2 399.4h.5v.5h-.5zM402.7 399.4h.5v.5h-.5zM403.2 399.4h.5v.5h-.5zM403.7 399.4h.5v.5h-.5zM404.2 399.4h.5v.5h-.5zM404.7 399.4h.5v.5h-.5zM405.2 399.4h.5v.5h-.5zM405.7 399.4h.5v.5h-.5zM406.2 399.4h.5v.5h-.5zM406.7 399.4h.5v.5h-.5zM407.2 399.4h.5v.5h-.5zM407.7 399.4h.5v.5h-.5zM408.2 399.4h.5v.5h-.5zM408.7 399.4h.5v.5h-.5zM409.2 399.4h.5v.5h-.5zM409.7 399.4h.5v.5h-.5zM410.2 399.4h.5v.5h-.5zM397.7 399.9h.5v.5h-.5zM398.2 399.9h.5v.5h-.5zM398.7 399.9h.5v.5h-.5zM399.2 399.9h.5v.5h-.5zM399.7 399.9h.5v.5h-.5zM400.2 399.9h.5v.5h-.5zM400.7 399.9h.5v.5h-.5zM401.2 399.9h.5v.5h-.5zM401.7 399.9h.5v.5h-.5zM402.2 399.9h.5v.5h-.5zM402.7 399.9h.5v.5h-.5zM403.2 399.9h.5v.5h-.5zM403.7 399.9h.5v.5h-.5zM404.2 399.9h.5v.5h-.5zM404.7 399.9h.5v.5h-.5zM405.2 399.9h.5v.5h-.5zM405.7 399.9h.5v.5h-.5zM406.2 399.9h.5v.5h-.5zM406.7 399.9h.5v.5h-.5zM407.2 399.9h.5v.5h-.5zM407.7 399.9h.5v.5h-.5zM408.2 399.9h.5v.5h-.5zM409.2 399.9h.5v.5h-.5zM396.7 400.4h.5v.5h-.5zM397.2 400.4h.5v.5h-.5zM397.7 400.4h.5v.5h-.5zM398.2 400.4h.5v.5h-.5zM398.7 400.4h.5v.5h-.5zM399.2 400.4h.5v.5h-.5zM399.7 400.4h.5v.5h-.5zM400.2 400.4h.5v.5h-.5zM400.7 400.4h.5v.5h-.5zM401.2 400.4h.5v.5h-.5zM401.7 400.4h.5v.5h-.5zM402.2 400.4h.5v.5h-.5zM402.7 400.4h.5v.5h-.5zM403.2 400.4h.5v.5h-.5zM403.7 400.4h.5v.5h-.5zM404.2 400.4h.5v.5h-.5zM404.7 400.4h.5v.5h-.5zM405.2 400.4h.5v.5h-.5zM405.7 400.4h.5v.5h-.5zM406.2 400.4h.5v.5h-.5zM406.7 400.4h.5v.5h-.5zM407.2 400.4h.5v.5h-.5zM407.7 400.4h.5v.5h-.5zM408.2 400.4h.5v.5h-.5zM408.7 400.4h.5v.5h-.5zM395.7 400.9h.5v.5h-.5zM396.2 400.9h.5v.5h-.5zM396.7 400.9h.5v.5h-.5zM397.2 400.9h.5v.5h-.5zM397.7 400.9h.5v.5h-.5zM398.2 400.9h.5v.5h-.5zM398.7 400.9h.5v.5h-.5zM399.2 400.9h.5v.5h-.5zM399.7 400.9h.5v.5h-.5zM400.2 400.9h.5v.5h-.5zM400.7 400.9h.5v.5h-.5zM401.2 400.9h.5v.5h-.5zM401.7 400.9h.5v.5h-.5zM402.2 400.9h.5v.5h-.5zM402.7 400.9h.5v.5h-.5zM403.2 400.9h.5v.5h-.5zM403.7 400.9h.5v.5h-.5zM404.2 400.9h.5v.5h-.5zM404.7 400.9h.5v.5h-.5zM405.2 400.9h.5v.5h-.5zM405.7 400.9h.5v.5h-.5zM406.2 400.9h.5v.5h-.5zM406.7 400.9h.5v.5h-.5zM407.2 400.9h.5v.5h-.5zM407.7 400.9h.5v.5h-.5zM408.2 400.9h.5v.5h-.5zM408.7 400.9h.5v.5h-.5zM394.7 401.4h.5v.5h-.5zM395.2 401.4h.5v.5h-.5zM395.7 401.4h.5v.5h-.5zM396.2 401.4h.5v.5h-.5zM396.7 401.4h.5v.5h-.5zM397.2 401.4h.5v.5h-.5zM397.7 401.4h.5v.5h-.5zM398.2 401.4h.5v.5h-.5zM398.7 401.4h.5v.5h-.5zM399.2 401.4h.5v.5h-.5zM399.7 401.4h.5v.5h-.5zM400.2 401.4h.5v.5h-.5zM400.7 401.4h.5v.5h-.5zM401.2 401.4h.5v.5h-.5zM401.7 401.4h.5v.5h-.5zM402.2 401.4h.5v.5h-.5zM402.7 401.4h.5v.5h-.5zM403.2 401.4h.5v.5h-.5zM403.7 401.4h.5v.5h-.5zM404.2 401.4h.5v.5h-.5zM404.7 401.4h.5v.5h-.5zM405.2 401.4h.5v.5h-.5zM405.7 401.4h.5v.5h-.5zM406.2 401.4h.5v.5h-.5zM406.7 401.4h.5v.5h-.5zM407.2 401.4h.5v.5h-.5zM407.7 401.4h.5v.5h-.5zM408.2 401.4h.5v.5h-.5zM394.7 401.9h.5v.5h-.5zM395.2 401.9h.5v.5h-.5zM395.7 401.9h.5v.5h-.5zM396.2 401.9h.5v.5h-.5zM396.7 401.9h.5v.5h-.5zM397.2 401.9h.5v.5h-.5zM397.7 401.9h.5v.5h-.5zM398.2 401.9h.5v.5h-.5zM398.7 401.9h.5v.5h-.5zM399.2 401.9h.5v.5h-.5zM399.7 401.9h.5v.5h-.5zM400.2 401.9h.5v.5h-.5zM400.7 401.9h.5v.5h-.5zM401.2 401.9h.5v.5h-.5zM401.7 401.9h.5v.5h-.5zM402.2 401.9h.5v.5h-.5zM402.7 401.9h.5v.5h-.5zM403.2 401.9h.5v.5h-.5zM403.7 401.9h.5v.5h-.5zM404.2 401.9h.5v.5h-.5zM404.7 401.9h.5v.5h-.5zM405.2 401.9h.5v.5h-.5zM405.7 401.9h.5v.5h-.5zM406.2 401.9h.5v.5h-.5zM406.7 401.9h.5v.5h-.5zM407.2 401.9h.5v.5h-.5zM407.7 401.9h.5v.5h-.5zM408.2 401.9h.5v.5h-.5zM394.7 402.4h.5v.5h-.5zM395.2 402.4h.5v.5h-.5zM395.7 402.4h.5v.5h-.5zM396.2 402.4h.5v.5h-.5zM396.7 402.4h.5v.5h-.5zM397.2 402.4h.5v.5h-.5zM397.7 402.4h.5v.5h-.5zM398.2 402.4h.5v.5h-.5zM398.7 402.4h.5v.5h-.5zM399.2 402.4h.5v.5h-.5zM399.7 402.4h.5v.5h-.5zM400.2 402.4h.5v.5h-.5zM400.7 402.4h.5v.5h-.5zM401.2 402.4h.5v.5h-.5zM401.7 402.4h.5v.5h-.5zM402.2 402.4h.5v.5h-.5zM402.7 402.4h.5v.5h-.5zM403.2 402.4h.5v.5h-.5zM403.7 402.4h.5v.5h-.5zM404.2 402.4h.5v.5h-.5zM404.7 402.4h.5v.5h-.5zM405.2 402.4h.5v.5h-.5zM405.7 402.4h.5v.5h-.5zM406.2 402.4h.5v.5h-.5zM406.7 402.4h.5v.5h-.5zM407.2 402.4h.5v.5h-.5zM407.7 402.4h.5v.5h-.5zM394.2 402.9h.5v.5h-.5zM394.7 402.9h.5v.5h-.5zM395.2 402.9h.5v.5h-.5zM395.7 402.9h.5v.5h-.5zM396.2 402.9h.5v.5h-.5zM396.7 402.9h.5v.5h-.5zM397.2 402.9h.5v.5h-.5zM397.7 402.9h.5v.5h-.5zM398.2 402.9h.5v.5h-.5zM398.7 402.9h.5v.5h-.5zM399.2 402.9h.5v.5h-.5zM399.7 402.9h.5v.5h-.5zM400.2 402.9h.5v.5h-.5zM400.7 402.9h.5v.5h-.5zM401.2 402.9h.5v.5h-.5zM401.7 402.9h.5v.5h-.5zM402.2 402.9h.5v.5h-.5zM402.7 402.9h.5v.5h-.5zM403.2 402.9h.5v.5h-.5zM403.7 402.9h.5v.5h-.5zM404.2 402.9h.5v.5h-.5zM404.7 402.9h.5v.5h-.5zM405.2 402.9h.5v.5h-.5zM406.7 402.9h.5v.5h-.5zM393.7 403.4h.5v.5h-.5zM394.2 403.4h.5v.5h-.5zM394.7 403.4h.5v.5h-.5zM395.2 403.4h.5v.5h-.5zM395.7 403.4h.5v.5h-.5zM396.2 403.4h.5v.5h-.5zM396.7 403.4h.5v.5h-.5zM397.2 403.4h.5v.5h-.5zM397.7 403.4h.5v.5h-.5zM398.2 403.4h.5v.5h-.5zM398.7 403.4h.5v.5h-.5zM399.2 403.4h.5v.5h-.5zM399.7 403.4h.5v.5h-.5zM400.2 403.4h.5v.5h-.5zM400.7 403.4h.5v.5h-.5zM401.2 403.4h.5v.5h-.5zM401.7 403.4h.5v.5h-.5zM402.2 403.4h.5v.5h-.5zM402.7 403.4h.5v.5h-.5zM403.2 403.4h.5v.5h-.5zM403.7 403.4h.5v.5h-.5zM404.2 403.4h.5v.5h-.5zM404.7 403.4h.5v.5h-.5zM405.2 403.4h.5v.5h-.5zM405.7 403.4h.5v.5h-.5zM392.7 403.9h.5v.5h-.5zM393.2 403.9h.5v.5h-.5zM393.7 403.9h.5v.5h-.5zM394.2 403.9h.5v.5h-.5zM394.7 403.9h.5v.5h-.5zM395.2 403.9h.5v.5h-.5zM395.7 403.9h.5v.5h-.5zM396.2 403.9h.5v.5h-.5zM396.7 403.9h.5v.5h-.5zM397.2 403.9h.5v.5h-.5zM397.7 403.9h.5v.5h-.5zM398.2 403.9h.5v.5h-.5zM398.7 403.9h.5v.5h-.5zM399.2 403.9h.5v.5h-.5zM399.7 403.9h.5v.5h-.5zM400.2 403.9h.5v.5h-.5zM400.7 403.9h.5v.5h-.5zM401.2 403.9h.5v.5h-.5zM401.7 403.9h.5v.5h-.5zM402.2 403.9h.5v.5h-.5zM402.7 403.9h.5v.5h-.5zM403.2 403.9h.5v.5h-.5zM403.7 403.9h.5v.5h-.5zM404.2 403.9h.5v.5h-.5zM404.7 403.9h.5v.5h-.5zM405.2 403.9h.5v.5h-.5zM392.2 404.4h.5v.5h-.5zM392.7 404.4h.5v.5h-.5zM393.2 404.4h.5v.5h-.5zM393.7 404.4h.5v.5h-.5zM394.2 404.4h.5v.5h-.5zM394.7 404.4h.5v.5h-.5zM395.2 404.4h.5v.5h-.5zM395.7 404.4h.5v.5h-.5zM396.2 404.4h.5v.5h-.5zM396.7 404.4h.5v.5h-.5zM397.2 404.4h.5v.5h-.5zM397.7 404.4h.5v.5h-.5zM398.2 404.4h.5v.5h-.5zM398.7 404.4h.5v.5h-.5zM399.2 404.4h.5v.5h-.5zM399.7 404.4h.5v.5h-.5zM400.2 404.4h.5v.5h-.5zM400.7 404.4h.5v.5h-.5zM401.2 404.4h.5v.5h-.5zM401.7 404.4h.5v.5h-.5zM402.2 404.4h.5v.5h-.5zM402.7 404.4h.5v.5h-.5zM403.2 404.4h.5v.5h-.5zM403.7 404.4h.5v.5h-.5zM404.2 404.4h.5v.5h-.5zM391.2 404.9h.5v.5h-.5zM391.7 404.9h.5v.5h-.5zM392.2 404.9h.5v.5h-.5zM392.7 404.9h.5v.5h-.5zM393.2 404.9h.5v.5h-.5zM393.7 404.9h.5v.5h-.5zM394.2 404.9h.5v.5h-.5zM394.7 404.9h.5v.5h-.5zM395.2 404.9h.5v.5h-.5zM395.7 404.9h.5v.5h-.5zM396.2 404.9h.5v.5h-.5zM396.7 404.9h.5v.5h-.5zM397.2 404.9h.5v.5h-.5zM397.7 404.9h.5v.5h-.5zM398.2 404.9h.5v.5h-.5zM398.7 404.9h.5v.5h-.5zM399.2 404.9h.5v.5h-.5zM399.7 404.9h.5v.5h-.5zM400.2 404.9h.5v.5h-.5zM400.7 404.9h.5v.5h-.5zM401.2 404.9h.5v.5h-.5zM401.7 404.9h.5v.5h-.5zM402.2 404.9h.5v.5h-.5zM402.7 404.9h.5v.5h-.5zM403.2 404.9h.5v.5h-.5zM403.7 404.9h.5v.5h-.5zM404.2 404.9h.5v.5h-.5zM390.7 405.4h.5v.5h-.5zM391.2 405.4h.5v.5h-.5zM391.7 405.4h.5v.5h-.5zM392.2 405.4h.5v.5h-.5zM392.7 405.4h.5v.5h-.5zM393.2 405.4h.5v.5h-.5zM393.7 405.4h.5v.5h-.5zM394.2 405.4h.5v.5h-.5zM394.7 405.4h.5v.5h-.5zM395.2 405.4h.5v.5h-.5zM395.7 405.4h.5v.5h-.5zM396.2 405.4h.5v.5h-.5zM396.7 405.4h.5v.5h-.5zM397.2 405.4h.5v.5h-.5zM397.7 405.4h.5v.5h-.5zM398.2 405.4h.5v.5h-.5zM398.7 405.4h.5v.5h-.5zM399.2 405.4h.5v.5h-.5zM399.7 405.4h.5v.5h-.5zM400.2 405.4h.5v.5h-.5zM400.7 405.4h.5v.5h-.5zM401.2 405.4h.5v.5h-.5zM401.7 405.4h.5v.5h-.5zM402.2 405.4h.5v.5h-.5zM402.7 405.4h.5v.5h-.5zM403.7 405.4h.5v.5h-.5zM404.2 405.4h.5v.5h-.5zM390.7 405.9h.5v.5h-.5zM391.2 405.9h.5v.5h-.5zM391.7 405.9h.5v.5h-.5zM392.2 405.9h.5v.5h-.5zM392.7 405.9h.5v.5h-.5zM393.2 405.9h.5v.5h-.5zM393.7 405.9h.5v.5h-.5zM394.2 405.9h.5v.5h-.5zM394.7 405.9h.5v.5h-.5zM395.2 405.9h.5v.5h-.5zM395.7 405.9h.5v.5h-.5zM396.2 405.9h.5v.5h-.5zM396.7 405.9h.5v.5h-.5zM397.2 405.9h.5v.5h-.5zM397.7 405.9h.5v.5h-.5zM398.2 405.9h.5v.5h-.5zM398.7 405.9h.5v.5h-.5zM399.2 405.9h.5v.5h-.5zM399.7 405.9h.5v.5h-.5zM400.2 405.9h.5v.5h-.5zM400.7 405.9h.5v.5h-.5zM401.2 405.9h.5v.5h-.5zM401.7 405.9h.5v.5h-.5zM402.2 405.9h.5v.5h-.5zM402.7 405.9h.5v.5h-.5zM404.2 405.9h.5v.5h-.5zM390.7 406.4h.5v.5h-.5zM391.2 406.4h.5v.5h-.5zM391.7 406.4h.5v.5h-.5zM392.2 406.4h.5v.5h-.5zM392.7 406.4h.5v.5h-.5zM393.2 406.4h.5v.5h-.5zM393.7 406.4h.5v.5h-.5zM394.2 406.4h.5v.5h-.5zM394.7 406.4h.5v.5h-.5zM395.2 406.4h.5v.5h-.5zM395.7 406.4h.5v.5h-.5zM396.2 406.4h.5v.5h-.5zM396.7 406.4h.5v.5h-.5zM397.2 406.4h.5v.5h-.5zM397.7 406.4h.5v.5h-.5zM398.2 406.4h.5v.5h-.5zM398.7 406.4h.5v.5h-.5zM399.2 406.4h.5v.5h-.5zM399.7 406.4h.5v.5h-.5zM400.2 406.4h.5v.5h-.5zM400.7 406.4h.5v.5h-.5zM401.2 406.4h.5v.5h-.5zM401.7 406.4h.5v.5h-.5zM390.2 406.9h.5v.5h-.5zM390.7 406.9h.5v.5h-.5zM391.2 406.9h.5v.5h-.5zM391.7 406.9h.5v.5h-.5zM392.2 406.9h.5v.5h-.5zM392.7 406.9h.5v.5h-.5zM393.2 406.9h.5v.5h-.5zM393.7 406.9h.5v.5h-.5zM394.2 406.9h.5v.5h-.5zM394.7 406.9h.5v.5h-.5zM395.2 406.9h.5v.5h-.5zM395.7 406.9h.5v.5h-.5zM396.2 406.9h.5v.5h-.5zM396.7 406.9h.5v.5h-.5zM397.2 406.9h.5v.5h-.5zM397.7 406.9h.5v.5h-.5zM398.2 406.9h.5v.5h-.5zM398.7 406.9h.5v.5h-.5zM399.2 406.9h.5v.5h-.5zM399.7 406.9h.5v.5h-.5zM400.2 406.9h.5v.5h-.5zM400.7 406.9h.5v.5h-.5zM401.7 406.9h.5v.5h-.5zM402.2 406.9h.5v.5h-.5zM389.2 407.4h.5v.5h-.5zM389.7 407.4h.5v.5h-.5zM390.2 407.4h.5v.5h-.5zM390.7 407.4h.5v.5h-.5zM391.2 407.4h.5v.5h-.5zM391.7 407.4h.5v.5h-.5zM392.2 407.4h.5v.5h-.5zM392.7 407.4h.5v.5h-.5zM393.2 407.4h.5v.5h-.5zM393.7 407.4h.5v.5h-.5zM394.2 407.4h.5v.5h-.5zM394.7 407.4h.5v.5h-.5zM395.2 407.4h.5v.5h-.5zM395.7 407.4h.5v.5h-.5zM396.2 407.4h.5v.5h-.5zM396.7 407.4h.5v.5h-.5zM397.2 407.4h.5v.5h-.5zM397.7 407.4h.5v.5h-.5zM398.2 407.4h.5v.5h-.5zM398.7 407.4h.5v.5h-.5zM399.2 407.4h.5v.5h-.5zM399.7 407.4h.5v.5h-.5zM400.2 407.4h.5v.5h-.5zM400.7 407.4h.5v.5h-.5zM401.7 407.4h.5v.5h-.5zM402.2 407.4h.5v.5h-.5zM388.2 407.9h.5v.5h-.5zM388.7 407.9h.5v.5h-.5zM389.2 407.9h.5v.5h-.5zM389.7 407.9h.5v.5h-.5zM390.2 407.9h.5v.5h-.5zM390.7 407.9h.5v.5h-.5zM391.2 407.9h.5v.5h-.5zM391.7 407.9h.5v.5h-.5zM392.2 407.9h.5v.5h-.5zM392.7 407.9h.5v.5h-.5zM393.2 407.9h.5v.5h-.5zM393.7 407.9h.5v.5h-.5zM394.2 407.9h.5v.5h-.5zM394.7 407.9h.5v.5h-.5zM395.2 407.9h.5v.5h-.5zM395.7 407.9h.5v.5h-.5zM396.2 407.9h.5v.5h-.5zM396.7 407.9h.5v.5h-.5zM397.2 407.9h.5v.5h-.5zM397.7 407.9h.5v.5h-.5zM398.2 407.9h.5v.5h-.5zM398.7 407.9h.5v.5h-.5zM399.7 407.9h.5v.5h-.5zM400.2 407.9h.5v.5h-.5zM387.7 408.4h.5v.5h-.5zM388.2 408.4h.5v.5h-.5zM388.7 408.4h.5v.5h-.5zM389.2 408.4h.5v.5h-.5zM389.7 408.4h.5v.5h-.5zM390.2 408.4h.5v.5h-.5zM390.7 408.4h.5v.5h-.5zM391.2 408.4h.5v.5h-.5zM391.7 408.4h.5v.5h-.5zM392.2 408.4h.5v.5h-.5zM392.7 408.4h.5v.5h-.5zM393.2 408.4h.5v.5h-.5zM393.7 408.4h.5v.5h-.5zM394.2 408.4h.5v.5h-.5zM394.7 408.4h.5v.5h-.5zM395.2 408.4h.5v.5h-.5zM395.7 408.4h.5v.5h-.5zM396.2 408.4h.5v.5h-.5zM396.7 408.4h.5v.5h-.5zM397.2 408.4h.5v.5h-.5zM397.7 408.4h.5v.5h-.5zM398.2 408.4h.5v.5h-.5zM398.7 408.4h.5v.5h-.5zM400.2 408.4h.5v.5h-.5zM387.2 408.9h.5v.5h-.5zM387.7 408.9h.5v.5h-.5zM388.2 408.9h.5v.5h-.5zM388.7 408.9h.5v.5h-.5zM389.2 408.9h.5v.5h-.5zM389.7 408.9h.5v.5h-.5zM390.2 408.9h.5v.5h-.5zM390.7 408.9h.5v.5h-.5zM391.2 408.9h.5v.5h-.5zM391.7 408.9h.5v.5h-.5zM392.2 408.9h.5v.5h-.5zM392.7 408.9h.5v.5h-.5zM393.2 408.9h.5v.5h-.5zM393.7 408.9h.5v.5h-.5zM394.2 408.9h.5v.5h-.5zM394.7 408.9h.5v.5h-.5zM395.2 408.9h.5v.5h-.5zM395.7 408.9h.5v.5h-.5zM396.2 408.9h.5v.5h-.5zM396.7 408.9h.5v.5h-.5zM397.2 408.9h.5v.5h-.5zM397.7 408.9h.5v.5h-.5zM398.2 408.9h.5v.5h-.5zM386.7 409.4h.5v.5h-.5zM387.2 409.4h.5v.5h-.5zM387.7 409.4h.5v.5h-.5zM388.2 409.4h.5v.5h-.5zM388.7 409.4h.5v.5h-.5zM389.2 409.4h.5v.5h-.5zM389.7 409.4h.5v.5h-.5zM390.2 409.4h.5v.5h-.5zM390.7 409.4h.5v.5h-.5zM391.2 409.4h.5v.5h-.5zM391.7 409.4h.5v.5h-.5zM392.2 409.4h.5v.5h-.5zM392.7 409.4h.5v.5h-.5zM393.2 409.4h.5v.5h-.5zM393.7 409.4h.5v.5h-.5zM394.2 409.4h.5v.5h-.5zM394.7 409.4h.5v.5h-.5zM395.2 409.4h.5v.5h-.5zM395.7 409.4h.5v.5h-.5zM396.2 409.4h.5v.5h-.5zM396.7 409.4h.5v.5h-.5zM397.2 409.4h.5v.5h-.5zM397.7 409.4h.5v.5h-.5zM398.2 409.4h.5v.5h-.5zM398.7 409.4h.5v.5h-.5zM385.7 409.9h.5v.5h-.5zM386.2 409.9h.5v.5h-.5zM386.7 409.9h.5v.5h-.5zM387.2 409.9h.5v.5h-.5zM387.7 409.9h.5v.5h-.5zM388.2 409.9h.5v.5h-.5zM388.7 409.9h.5v.5h-.5zM389.2 409.9h.5v.5h-.5zM389.7 409.9h.5v.5h-.5zM390.2 409.9h.5v.5h-.5zM390.7 409.9h.5v.5h-.5zM391.2 409.9h.5v.5h-.5zM391.7 409.9h.5v.5h-.5zM392.2 409.9h.5v.5h-.5zM392.7 409.9h.5v.5h-.5zM393.2 409.9h.5v.5h-.5zM393.7 409.9h.5v.5h-.5zM394.2 409.9h.5v.5h-.5zM394.7 409.9h.5v.5h-.5zM395.2 409.9h.5v.5h-.5zM395.7 409.9h.5v.5h-.5zM396.2 409.9h.5v.5h-.5zM396.7 409.9h.5v.5h-.5zM397.2 409.9h.5v.5h-.5zM398.2 409.9h.5v.5h-.5zM398.7 409.9h.5v.5h-.5zM385.7 410.4h.5v.5h-.5zM386.2 410.4h.5v.5h-.5zM386.7 410.4h.5v.5h-.5zM387.2 410.4h.5v.5h-.5zM387.7 410.4h.5v.5h-.5zM388.2 410.4h.5v.5h-.5zM388.7 410.4h.5v.5h-.5zM389.2 410.4h.5v.5h-.5zM389.7 410.4h.5v.5h-.5zM390.2 410.4h.5v.5h-.5zM390.7 410.4h.5v.5h-.5zM391.2 410.4h.5v.5h-.5zM391.7 410.4h.5v.5h-.5zM392.2 410.4h.5v.5h-.5zM392.7 410.4h.5v.5h-.5zM393.2 410.4h.5v.5h-.5zM393.7 410.4h.5v.5h-.5zM394.2 410.4h.5v.5h-.5zM394.7 410.4h.5v.5h-.5zM395.2 410.4h.5v.5h-.5zM395.7 410.4h.5v.5h-.5zM396.2 410.4h.5v.5h-.5zM396.7 410.4h.5v.5h-.5zM397.2 410.4h.5v.5h-.5zM398.7 410.4h.5v.5h-.5zM385.7 410.9h.5v.5h-.5zM386.2 410.9h.5v.5h-.5zM386.7 410.9h.5v.5h-.5zM387.2 410.9h.5v.5h-.5zM387.7 410.9h.5v.5h-.5zM388.2 410.9h.5v.5h-.5zM388.7 410.9h.5v.5h-.5zM389.2 410.9h.5v.5h-.5zM389.7 410.9h.5v.5h-.5zM390.2 410.9h.5v.5h-.5zM390.7 410.9h.5v.5h-.5zM391.2 410.9h.5v.5h-.5zM391.7 410.9h.5v.5h-.5zM392.2 410.9h.5v.5h-.5zM392.7 410.9h.5v.5h-.5zM393.2 410.9h.5v.5h-.5zM393.7 410.9h.5v.5h-.5zM394.2 410.9h.5v.5h-.5zM394.7 410.9h.5v.5h-.5zM395.2 410.9h.5v.5h-.5zM395.7 410.9h.5v.5h-.5zM396.2 410.9h.5v.5h-.5zM396.7 410.9h.5v.5h-.5zM397.2 410.9h.5v.5h-.5zM398.7 410.9h.5v.5h-.5zM384.7 411.4h.5v.5h-.5zM385.2 411.4h.5v.5h-.5zM386.2 411.4h.5v.5h-.5zM386.7 411.4h.5v.5h-.5zM387.2 411.4h.5v.5h-.5zM387.7 411.4h.5v.5h-.5zM388.2 411.4h.5v.5h-.5zM388.7 411.4h.5v.5h-.5zM389.2 411.4h.5v.5h-.5zM389.7 411.4h.5v.5h-.5zM390.2 411.4h.5v.5h-.5zM390.7 411.4h.5v.5h-.5zM391.2 411.4h.5v.5h-.5zM391.7 411.4h.5v.5h-.5zM392.2 411.4h.5v.5h-.5zM392.7 411.4h.5v.5h-.5zM393.2 411.4h.5v.5h-.5zM393.7 411.4h.5v.5h-.5zM394.2 411.4h.5v.5h-.5zM394.7 411.4h.5v.5h-.5zM395.2 411.4h.5v.5h-.5zM395.7 411.4h.5v.5h-.5zM396.2 411.4h.5v.5h-.5zM384.2 411.9h.5v.5h-.5zM384.7 411.9h.5v.5h-.5zM385.2 411.9h.5v.5h-.5zM385.7 411.9h.5v.5h-.5zM386.2 411.9h.5v.5h-.5zM386.7 411.9h.5v.5h-.5zM387.2 411.9h.5v.5h-.5zM387.7 411.9h.5v.5h-.5zM388.2 411.9h.5v.5h-.5zM388.7 411.9h.5v.5h-.5zM389.2 411.9h.5v.5h-.5zM389.7 411.9h.5v.5h-.5zM390.2 411.9h.5v.5h-.5zM390.7 411.9h.5v.5h-.5zM391.2 411.9h.5v.5h-.5zM391.7 411.9h.5v.5h-.5zM392.2 411.9h.5v.5h-.5zM392.7 411.9h.5v.5h-.5zM393.2 411.9h.5v.5h-.5zM393.7 411.9h.5v.5h-.5zM394.2 411.9h.5v.5h-.5zM394.7 411.9h.5v.5h-.5zM395.2 411.9h.5v.5h-.5zM395.7 411.9h.5v.5h-.5zM396.2 411.9h.5v.5h-.5zM383.7 412.4h.5v.5h-.5zM384.2 412.4h.5v.5h-.5zM384.7 412.4h.5v.5h-.5zM385.2 412.4h.5v.5h-.5zM385.7 412.4h.5v.5h-.5zM386.2 412.4h.5v.5h-.5zM386.7 412.4h.5v.5h-.5zM387.2 412.4h.5v.5h-.5zM387.7 412.4h.5v.5h-.5zM388.2 412.4h.5v.5h-.5zM388.7 412.4h.5v.5h-.5zM389.2 412.4h.5v.5h-.5zM389.7 412.4h.5v.5h-.5zM390.2 412.4h.5v.5h-.5zM390.7 412.4h.5v.5h-.5zM391.2 412.4h.5v.5h-.5zM391.7 412.4h.5v.5h-.5zM392.2 412.4h.5v.5h-.5zM392.7 412.4h.5v.5h-.5zM393.2 412.4h.5v.5h-.5zM393.7 412.4h.5v.5h-.5zM394.2 412.4h.5v.5h-.5zM394.7 412.4h.5v.5h-.5zM395.2 412.4h.5v.5h-.5zM395.7 412.4h.5v.5h-.5zM382.2 412.9h.5v.5h-.5zM382.7 412.9h.5v.5h-.5zM383.2 412.9h.5v.5h-.5zM383.7 412.9h.5v.5h-.5zM384.2 412.9h.5v.5h-.5zM384.7 412.9h.5v.5h-.5zM385.2 412.9h.5v.5h-.5zM385.7 412.9h.5v.5h-.5zM386.2 412.9h.5v.5h-.5zM386.7 412.9h.5v.5h-.5zM387.2 412.9h.5v.5h-.5zM387.7 412.9h.5v.5h-.5zM388.2 412.9h.5v.5h-.5zM388.7 412.9h.5v.5h-.5zM389.2 412.9h.5v.5h-.5zM389.7 412.9h.5v.5h-.5zM390.2 412.9h.5v.5h-.5zM390.7 412.9h.5v.5h-.5zM391.2 412.9h.5v.5h-.5zM391.7 412.9h.5v.5h-.5zM392.2 412.9h.5v.5h-.5zM392.7 412.9h.5v.5h-.5zM393.2 412.9h.5v.5h-.5zM393.7 412.9h.5v.5h-.5zM394.2 412.9h.5v.5h-.5zM394.7 412.9h.5v.5h-.5zM395.2 412.9h.5v.5h-.5zM395.7 412.9h.5v.5h-.5zM382.2 413.4h.5v.5h-.5zM382.7 413.4h.5v.5h-.5zM383.2 413.4h.5v.5h-.5zM383.7 413.4h.5v.5h-.5zM384.2 413.4h.5v.5h-.5zM384.7 413.4h.5v.5h-.5zM385.2 413.4h.5v.5h-.5zM385.7 413.4h.5v.5h-.5zM386.2 413.4h.5v.5h-.5zM386.7 413.4h.5v.5h-.5zM387.2 413.4h.5v.5h-.5zM387.7 413.4h.5v.5h-.5zM388.2 413.4h.5v.5h-.5zM388.7 413.4h.5v.5h-.5zM389.2 413.4h.5v.5h-.5zM389.7 413.4h.5v.5h-.5zM390.2 413.4h.5v.5h-.5zM390.7 413.4h.5v.5h-.5zM391.2 413.4h.5v.5h-.5zM391.7 413.4h.5v.5h-.5zM392.2 413.4h.5v.5h-.5zM392.7 413.4h.5v.5h-.5zM393.7 413.4h.5v.5h-.5zM394.2 413.4h.5v.5h-.5zM394.7 413.4h.5v.5h-.5zM381.2 413.9h.5v.5h-.5zM381.7 413.9h.5v.5h-.5zM382.2 413.9h.5v.5h-.5zM382.7 413.9h.5v.5h-.5zM383.2 413.9h.5v.5h-.5zM383.7 413.9h.5v.5h-.5zM384.2 413.9h.5v.5h-.5zM384.7 413.9h.5v.5h-.5zM385.2 413.9h.5v.5h-.5zM385.7 413.9h.5v.5h-.5zM386.2 413.9h.5v.5h-.5zM386.7 413.9h.5v.5h-.5zM387.2 413.9h.5v.5h-.5zM387.7 413.9h.5v.5h-.5zM388.2 413.9h.5v.5h-.5zM388.7 413.9h.5v.5h-.5zM389.2 413.9h.5v.5h-.5zM389.7 413.9h.5v.5h-.5zM390.2 413.9h.5v.5h-.5zM390.7 413.9h.5v.5h-.5zM391.2 413.9h.5v.5h-.5zM391.7 413.9h.5v.5h-.5zM392.2 413.9h.5v.5h-.5zM392.7 413.9h.5v.5h-.5zM381.2 414.4h.5v.5h-.5zM381.7 414.4h.5v.5h-.5zM382.2 414.4h.5v.5h-.5zM382.7 414.4h.5v.5h-.5zM383.2 414.4h.5v.5h-.5zM383.7 414.4h.5v.5h-.5zM384.2 414.4h.5v.5h-.5zM384.7 414.4h.5v.5h-.5zM385.2 414.4h.5v.5h-.5zM385.7 414.4h.5v.5h-.5zM386.2 414.4h.5v.5h-.5zM386.7 414.4h.5v.5h-.5zM387.2 414.4h.5v.5h-.5zM387.7 414.4h.5v.5h-.5zM388.2 414.4h.5v.5h-.5zM388.7 414.4h.5v.5h-.5zM389.2 414.4h.5v.5h-.5zM389.7 414.4h.5v.5h-.5zM390.2 414.4h.5v.5h-.5zM390.7 414.4h.5v.5h-.5zM391.2 414.4h.5v.5h-.5zM391.7 414.4h.5v.5h-.5zM392.2 414.4h.5v.5h-.5zM392.7 414.4h.5v.5h-.5zM380.2 414.9h.5v.5h-.5zM380.7 414.9h.5v.5h-.5zM381.2 414.9h.5v.5h-.5zM381.7 414.9h.5v.5h-.5zM382.2 414.9h.5v.5h-.5zM382.7 414.9h.5v.5h-.5zM383.2 414.9h.5v.5h-.5zM383.7 414.9h.5v.5h-.5zM384.2 414.9h.5v.5h-.5zM384.7 414.9h.5v.5h-.5zM385.2 414.9h.5v.5h-.5zM385.7 414.9h.5v.5h-.5zM386.2 414.9h.5v.5h-.5zM386.7 414.9h.5v.5h-.5zM387.2 414.9h.5v.5h-.5zM387.7 414.9h.5v.5h-.5zM388.2 414.9h.5v.5h-.5zM388.7 414.9h.5v.5h-.5zM389.2 414.9h.5v.5h-.5zM389.7 414.9h.5v.5h-.5zM390.2 414.9h.5v.5h-.5zM390.7 414.9h.5v.5h-.5zM391.2 414.9h.5v.5h-.5zM391.7 414.9h.5v.5h-.5zM392.2 414.9h.5v.5h-.5zM392.7 414.9h.5v.5h-.5zM378.7 415.4h.5v.5h-.5zM379.2 415.4h.5v.5h-.5zM380.2 415.4h.5v.5h-.5zM380.7 415.4h.5v.5h-.5zM381.2 415.4h.5v.5h-.5zM381.7 415.4h.5v.5h-.5zM382.2 415.4h.5v.5h-.5zM382.7 415.4h.5v.5h-.5zM383.2 415.4h.5v.5h-.5zM383.7 415.4h.5v.5h-.5zM384.2 415.4h.5v.5h-.5zM384.7 415.4h.5v.5h-.5zM385.2 415.4h.5v.5h-.5zM385.7 415.4h.5v.5h-.5zM386.2 415.4h.5v.5h-.5zM386.7 415.4h.5v.5h-.5zM387.2 415.4h.5v.5h-.5zM387.7 415.4h.5v.5h-.5zM388.2 415.4h.5v.5h-.5zM388.7 415.4h.5v.5h-.5zM389.2 415.4h.5v.5h-.5zM389.7 415.4h.5v.5h-.5zM390.2 415.4h.5v.5h-.5zM390.7 415.4h.5v.5h-.5zM391.2 415.4h.5v.5h-.5zM391.7 415.4h.5v.5h-.5zM392.2 415.4h.5v.5h-.5zM392.7 415.4h.5v.5h-.5zM379.2 415.9h.5v.5h-.5zM379.7 415.9h.5v.5h-.5zM380.2 415.9h.5v.5h-.5zM380.7 415.9h.5v.5h-.5zM381.2 415.9h.5v.5h-.5zM381.7 415.9h.5v.5h-.5zM382.2 415.9h.5v.5h-.5zM382.7 415.9h.5v.5h-.5zM383.2 415.9h.5v.5h-.5zM383.7 415.9h.5v.5h-.5zM384.2 415.9h.5v.5h-.5zM384.7 415.9h.5v.5h-.5zM385.2 415.9h.5v.5h-.5zM385.7 415.9h.5v.5h-.5zM386.2 415.9h.5v.5h-.5zM386.7 415.9h.5v.5h-.5zM387.2 415.9h.5v.5h-.5zM387.7 415.9h.5v.5h-.5zM388.2 415.9h.5v.5h-.5zM388.7 415.9h.5v.5h-.5zM389.2 415.9h.5v.5h-.5zM389.7 415.9h.5v.5h-.5zM390.2 415.9h.5v.5h-.5zM390.7 415.9h.5v.5h-.5zM392.7 415.9h.5v.5h-.5zM379.2 416.4h.5v.5h-.5zM379.7 416.4h.5v.5h-.5zM380.2 416.4h.5v.5h-.5zM380.7 416.4h.5v.5h-.5zM381.2 416.4h.5v.5h-.5zM381.7 416.4h.5v.5h-.5zM382.2 416.4h.5v.5h-.5zM382.7 416.4h.5v.5h-.5zM383.2 416.4h.5v.5h-.5zM383.7 416.4h.5v.5h-.5zM384.2 416.4h.5v.5h-.5zM384.7 416.4h.5v.5h-.5zM385.2 416.4h.5v.5h-.5zM385.7 416.4h.5v.5h-.5zM386.2 416.4h.5v.5h-.5zM386.7 416.4h.5v.5h-.5zM387.2 416.4h.5v.5h-.5zM387.7 416.4h.5v.5h-.5zM388.2 416.4h.5v.5h-.5zM388.7 416.4h.5v.5h-.5zM389.2 416.4h.5v.5h-.5zM389.7 416.4h.5v.5h-.5zM390.2 416.4h.5v.5h-.5zM390.7 416.4h.5v.5h-.5zM391.2 416.4h.5v.5h-.5zM376.2 416.9h.5v.5h-.5zM376.7 416.9h.5v.5h-.5zM378.2 416.9h.5v.5h-.5zM378.7 416.9h.5v.5h-.5zM379.2 416.9h.5v.5h-.5zM379.7 416.9h.5v.5h-.5zM380.2 416.9h.5v.5h-.5zM380.7 416.9h.5v.5h-.5zM381.2 416.9h.5v.5h-.5zM381.7 416.9h.5v.5h-.5zM382.2 416.9h.5v.5h-.5zM382.7 416.9h.5v.5h-.5zM383.2 416.9h.5v.5h-.5zM383.7 416.9h.5v.5h-.5zM384.2 416.9h.5v.5h-.5zM384.7 416.9h.5v.5h-.5zM385.2 416.9h.5v.5h-.5zM385.7 416.9h.5v.5h-.5zM386.2 416.9h.5v.5h-.5zM386.7 416.9h.5v.5h-.5zM387.2 416.9h.5v.5h-.5zM387.7 416.9h.5v.5h-.5zM388.2 416.9h.5v.5h-.5zM388.7 416.9h.5v.5h-.5zM389.2 416.9h.5v.5h-.5zM389.7 416.9h.5v.5h-.5zM390.2 416.9h.5v.5h-.5zM390.7 416.9h.5v.5h-.5zM391.2 416.9h.5v.5h-.5zM376.2 417.4h.5v.5h-.5zM376.7 417.4h.5v.5h-.5zM377.2 417.4h.5v.5h-.5zM377.7 417.4h.5v.5h-.5zM378.2 417.4h.5v.5h-.5zM378.7 417.4h.5v.5h-.5zM379.2 417.4h.5v.5h-.5zM379.7 417.4h.5v.5h-.5zM380.2 417.4h.5v.5h-.5zM380.7 417.4h.5v.5h-.5zM381.2 417.4h.5v.5h-.5zM381.7 417.4h.5v.5h-.5zM382.2 417.4h.5v.5h-.5zM382.7 417.4h.5v.5h-.5zM383.2 417.4h.5v.5h-.5zM383.7 417.4h.5v.5h-.5zM384.2 417.4h.5v.5h-.5zM384.7 417.4h.5v.5h-.5zM385.2 417.4h.5v.5h-.5zM385.7 417.4h.5v.5h-.5zM386.2 417.4h.5v.5h-.5zM386.7 417.4h.5v.5h-.5zM387.2 417.4h.5v.5h-.5zM387.7 417.4h.5v.5h-.5zM388.2 417.4h.5v.5h-.5zM388.7 417.4h.5v.5h-.5zM376.7 417.9h.5v.5h-.5zM377.2 417.9h.5v.5h-.5zM377.7 417.9h.5v.5h-.5zM378.2 417.9h.5v.5h-.5zM378.7 417.9h.5v.5h-.5zM379.2 417.9h.5v.5h-.5zM379.7 417.9h.5v.5h-.5zM380.2 417.9h.5v.5h-.5zM380.7 417.9h.5v.5h-.5zM381.2 417.9h.5v.5h-.5zM381.7 417.9h.5v.5h-.5zM382.2 417.9h.5v.5h-.5zM382.7 417.9h.5v.5h-.5zM383.2 417.9h.5v.5h-.5zM383.7 417.9h.5v.5h-.5zM384.2 417.9h.5v.5h-.5zM384.7 417.9h.5v.5h-.5zM385.2 417.9h.5v.5h-.5zM385.7 417.9h.5v.5h-.5zM386.2 417.9h.5v.5h-.5zM386.7 417.9h.5v.5h-.5zM387.2 417.9h.5v.5h-.5zM387.7 417.9h.5v.5h-.5zM388.2 417.9h.5v.5h-.5zM388.7 417.9h.5v.5h-.5zM375.7 418.4h.5v.5h-.5zM376.7 418.4h.5v.5h-.5zM377.2 418.4h.5v.5h-.5zM377.7 418.4h.5v.5h-.5zM378.2 418.4h.5v.5h-.5zM378.7 418.4h.5v.5h-.5zM379.2 418.4h.5v.5h-.5zM379.7 418.4h.5v.5h-.5zM380.2 418.4h.5v.5h-.5zM380.7 418.4h.5v.5h-.5zM381.2 418.4h.5v.5h-.5zM381.7 418.4h.5v.5h-.5zM382.2 418.4h.5v.5h-.5zM382.7 418.4h.5v.5h-.5zM383.2 418.4h.5v.5h-.5zM383.7 418.4h.5v.5h-.5zM384.2 418.4h.5v.5h-.5zM384.7 418.4h.5v.5h-.5zM385.2 418.4h.5v.5h-.5zM385.7 418.4h.5v.5h-.5zM386.2 418.4h.5v.5h-.5zM386.7 418.4h.5v.5h-.5zM387.2 418.4h.5v.5h-.5zM387.7 418.4h.5v.5h-.5zM388.7 418.4h.5v.5h-.5zM375.7 418.9h.5v.5h-.5zM377.2 418.9h.5v.5h-.5zM377.7 418.9h.5v.5h-.5zM378.2 418.9h.5v.5h-.5zM378.7 418.9h.5v.5h-.5zM379.2 418.9h.5v.5h-.5zM379.7 418.9h.5v.5h-.5zM380.2 418.9h.5v.5h-.5zM380.7 418.9h.5v.5h-.5zM381.2 418.9h.5v.5h-.5zM381.7 418.9h.5v.5h-.5zM382.2 418.9h.5v.5h-.5zM382.7 418.9h.5v.5h-.5zM383.2 418.9h.5v.5h-.5zM383.7 418.9h.5v.5h-.5zM384.2 418.9h.5v.5h-.5zM384.7 418.9h.5v.5h-.5zM385.2 418.9h.5v.5h-.5zM385.7 418.9h.5v.5h-.5zM386.2 418.9h.5v.5h-.5zM386.7 418.9h.5v.5h-.5zM387.2 418.9h.5v.5h-.5zM387.7 418.9h.5v.5h-.5zM375.7 419.4h.5v.5h-.5zM376.2 419.4h.5v.5h-.5zM376.7 419.4h.5v.5h-.5zM377.2 419.4h.5v.5h-.5zM377.7 419.4h.5v.5h-.5zM378.2 419.4h.5v.5h-.5zM378.7 419.4h.5v.5h-.5zM379.2 419.4h.5v.5h-.5zM379.7 419.4h.5v.5h-.5zM380.2 419.4h.5v.5h-.5zM380.7 419.4h.5v.5h-.5zM381.2 419.4h.5v.5h-.5zM381.7 419.4h.5v.5h-.5zM382.2 419.4h.5v.5h-.5zM382.7 419.4h.5v.5h-.5zM383.2 419.4h.5v.5h-.5zM383.7 419.4h.5v.5h-.5zM384.2 419.4h.5v.5h-.5zM384.7 419.4h.5v.5h-.5zM385.2 419.4h.5v.5h-.5zM385.7 419.4h.5v.5h-.5zM386.2 419.4h.5v.5h-.5zM386.7 419.4h.5v.5h-.5zM387.2 419.4h.5v.5h-.5zM387.7 419.4h.5v.5h-.5zM375.7 419.9h.5v.5h-.5zM376.2 419.9h.5v.5h-.5zM376.7 419.9h.5v.5h-.5zM377.2 419.9h.5v.5h-.5zM377.7 419.9h.5v.5h-.5zM378.2 419.9h.5v.5h-.5zM378.7 419.9h.5v.5h-.5zM379.2 419.9h.5v.5h-.5zM379.7 419.9h.5v.5h-.5zM380.2 419.9h.5v.5h-.5zM380.7 419.9h.5v.5h-.5zM381.2 419.9h.5v.5h-.5zM381.7 419.9h.5v.5h-.5zM382.2 419.9h.5v.5h-.5zM382.7 419.9h.5v.5h-.5zM383.2 419.9h.5v.5h-.5zM383.7 419.9h.5v.5h-.5zM384.2 419.9h.5v.5h-.5zM384.7 419.9h.5v.5h-.5zM385.2 419.9h.5v.5h-.5zM385.7 419.9h.5v.5h-.5zM386.2 419.9h.5v.5h-.5zM386.7 419.9h.5v.5h-.5zM375.2 420.4h.5v.5h-.5zM375.7 420.4h.5v.5h-.5zM376.2 420.4h.5v.5h-.5zM376.7 420.4h.5v.5h-.5zM377.2 420.4h.5v.5h-.5zM377.7 420.4h.5v.5h-.5zM378.2 420.4h.5v.5h-.5zM378.7 420.4h.5v.5h-.5zM379.2 420.4h.5v.5h-.5zM379.7 420.4h.5v.5h-.5zM380.2 420.4h.5v.5h-.5zM380.7 420.4h.5v.5h-.5zM381.2 420.4h.5v.5h-.5zM381.7 420.4h.5v.5h-.5zM382.2 420.4h.5v.5h-.5zM382.7 420.4h.5v.5h-.5zM383.2 420.4h.5v.5h-.5zM383.7 420.4h.5v.5h-.5zM384.2 420.4h.5v.5h-.5zM384.7 420.4h.5v.5h-.5zM385.2 420.4h.5v.5h-.5zM385.7 420.4h.5v.5h-.5zM374.2 420.9h.5v.5h-.5zM374.7 420.9h.5v.5h-.5zM375.2 420.9h.5v.5h-.5zM375.7 420.9h.5v.5h-.5zM376.2 420.9h.5v.5h-.5zM376.7 420.9h.5v.5h-.5zM377.2 420.9h.5v.5h-.5zM377.7 420.9h.5v.5h-.5zM378.2 420.9h.5v.5h-.5zM378.7 420.9h.5v.5h-.5zM379.2 420.9h.5v.5h-.5zM379.7 420.9h.5v.5h-.5zM380.2 420.9h.5v.5h-.5zM380.7 420.9h.5v.5h-.5zM381.2 420.9h.5v.5h-.5zM381.7 420.9h.5v.5h-.5zM382.2 420.9h.5v.5h-.5zM382.7 420.9h.5v.5h-.5zM383.2 420.9h.5v.5h-.5zM383.7 420.9h.5v.5h-.5zM384.2 420.9h.5v.5h-.5zM384.7 420.9h.5v.5h-.5zM385.2 420.9h.5v.5h-.5zM374.2 421.4h.5v.5h-.5zM374.7 421.4h.5v.5h-.5zM375.2 421.4h.5v.5h-.5zM375.7 421.4h.5v.5h-.5zM376.2 421.4h.5v.5h-.5zM376.7 421.4h.5v.5h-.5zM377.2 421.4h.5v.5h-.5zM377.7 421.4h.5v.5h-.5zM378.2 421.4h.5v.5h-.5zM378.7 421.4h.5v.5h-.5zM379.2 421.4h.5v.5h-.5zM379.7 421.4h.5v.5h-.5zM380.2 421.4h.5v.5h-.5zM380.7 421.4h.5v.5h-.5zM381.2 421.4h.5v.5h-.5zM381.7 421.4h.5v.5h-.5zM382.2 421.4h.5v.5h-.5zM382.7 421.4h.5v.5h-.5zM383.2 421.4h.5v.5h-.5zM383.7 421.4h.5v.5h-.5zM384.2 421.4h.5v.5h-.5zM384.7 421.4h.5v.5h-.5zM385.2 421.4h.5v.5h-.5zM372.2 421.9h.5v.5h-.5zM372.7 421.9h.5v.5h-.5zM373.2 421.9h.5v.5h-.5zM373.7 421.9h.5v.5h-.5zM374.2 421.9h.5v.5h-.5zM374.7 421.9h.5v.5h-.5zM375.2 421.9h.5v.5h-.5zM375.7 421.9h.5v.5h-.5zM376.2 421.9h.5v.5h-.5zM376.7 421.9h.5v.5h-.5zM377.2 421.9h.5v.5h-.5zM377.7 421.9h.5v.5h-.5zM378.2 421.9h.5v.5h-.5zM378.7 421.9h.5v.5h-.5zM379.2 421.9h.5v.5h-.5zM379.7 421.9h.5v.5h-.5zM380.2 421.9h.5v.5h-.5zM380.7 421.9h.5v.5h-.5zM381.2 421.9h.5v.5h-.5zM381.7 421.9h.5v.5h-.5zM382.2 421.9h.5v.5h-.5zM382.7 421.9h.5v.5h-.5zM383.2 421.9h.5v.5h-.5zM383.7 421.9h.5v.5h-.5zM384.2 421.9h.5v.5h-.5zM384.7 421.9h.5v.5h-.5zM372.2 422.4h.5v.5h-.5zM372.7 422.4h.5v.5h-.5zM373.2 422.4h.5v.5h-.5zM373.7 422.4h.5v.5h-.5zM374.2 422.4h.5v.5h-.5zM374.7 422.4h.5v.5h-.5zM375.2 422.4h.5v.5h-.5zM375.7 422.4h.5v.5h-.5zM376.2 422.4h.5v.5h-.5zM376.7 422.4h.5v.5h-.5zM377.2 422.4h.5v.5h-.5zM377.7 422.4h.5v.5h-.5zM378.2 422.4h.5v.5h-.5zM378.7 422.4h.5v.5h-.5zM379.2 422.4h.5v.5h-.5zM379.7 422.4h.5v.5h-.5zM380.2 422.4h.5v.5h-.5zM380.7 422.4h.5v.5h-.5zM381.2 422.4h.5v.5h-.5zM381.7 422.4h.5v.5h-.5zM382.2 422.4h.5v.5h-.5zM382.7 422.4h.5v.5h-.5zM383.2 422.4h.5v.5h-.5zM383.7 422.4h.5v.5h-.5zM384.2 422.4h.5v.5h-.5zM384.7 422.4h.5v.5h-.5zM371.7 422.9h.5v.5h-.5zM372.2 422.9h.5v.5h-.5zM372.7 422.9h.5v.5h-.5zM373.2 422.9h.5v.5h-.5zM373.7 422.9h.5v.5h-.5zM374.2 422.9h.5v.5h-.5zM374.7 422.9h.5v.5h-.5zM375.2 422.9h.5v.5h-.5zM375.7 422.9h.5v.5h-.5zM376.2 422.9h.5v.5h-.5zM376.7 422.9h.5v.5h-.5zM377.2 422.9h.5v.5h-.5zM377.7 422.9h.5v.5h-.5zM378.2 422.9h.5v.5h-.5zM378.7 422.9h.5v.5h-.5zM379.2 422.9h.5v.5h-.5zM379.7 422.9h.5v.5h-.5zM380.2 422.9h.5v.5h-.5zM380.7 422.9h.5v.5h-.5zM381.2 422.9h.5v.5h-.5zM381.7 422.9h.5v.5h-.5zM382.2 422.9h.5v.5h-.5zM382.7 422.9h.5v.5h-.5zM383.2 422.9h.5v.5h-.5zM383.7 422.9h.5v.5h-.5zM384.2 422.9h.5v.5h-.5zM371.2 423.4h.5v.5h-.5zM371.7 423.4h.5v.5h-.5zM372.2 423.4h.5v.5h-.5zM372.7 423.4h.5v.5h-.5zM373.2 423.4h.5v.5h-.5zM373.7 423.4h.5v.5h-.5zM374.2 423.4h.5v.5h-.5zM374.7 423.4h.5v.5h-.5zM375.2 423.4h.5v.5h-.5zM375.7 423.4h.5v.5h-.5zM376.2 423.4h.5v.5h-.5zM376.7 423.4h.5v.5h-.5zM377.2 423.4h.5v.5h-.5zM377.7 423.4h.5v.5h-.5zM378.2 423.4h.5v.5h-.5zM378.7 423.4h.5v.5h-.5zM379.2 423.4h.5v.5h-.5zM379.7 423.4h.5v.5h-.5zM380.2 423.4h.5v.5h-.5zM380.7 423.4h.5v.5h-.5zM381.2 423.4h.5v.5h-.5zM381.7 423.4h.5v.5h-.5zM382.2 423.4h.5v.5h-.5zM382.7 423.4h.5v.5h-.5zM383.2 423.4h.5v.5h-.5zM370.7 423.9h.5v.5h-.5zM371.2 423.9h.5v.5h-.5zM371.7 423.9h.5v.5h-.5zM372.2 423.9h.5v.5h-.5zM372.7 423.9h.5v.5h-.5zM373.2 423.9h.5v.5h-.5zM373.7 423.9h.5v.5h-.5zM374.2 423.9h.5v.5h-.5zM374.7 423.9h.5v.5h-.5zM375.2 423.9h.5v.5h-.5zM375.7 423.9h.5v.5h-.5zM376.2 423.9h.5v.5h-.5zM376.7 423.9h.5v.5h-.5zM377.2 423.9h.5v.5h-.5zM377.7 423.9h.5v.5h-.5zM378.2 423.9h.5v.5h-.5zM378.7 423.9h.5v.5h-.5zM379.2 423.9h.5v.5h-.5zM379.7 423.9h.5v.5h-.5zM380.2 423.9h.5v.5h-.5zM380.7 423.9h.5v.5h-.5zM381.2 423.9h.5v.5h-.5zM381.7 423.9h.5v.5h-.5zM382.2 423.9h.5v.5h-.5zM382.7 423.9h.5v.5h-.5zM369.2 424.4h.5v.5h-.5zM370.7 424.4h.5v.5h-.5zM371.2 424.4h.5v.5h-.5zM371.7 424.4h.5v.5h-.5zM372.2 424.4h.5v.5h-.5zM372.7 424.4h.5v.5h-.5zM373.2 424.4h.5v.5h-.5zM373.7 424.4h.5v.5h-.5zM374.2 424.4h.5v.5h-.5zM374.7 424.4h.5v.5h-.5zM375.2 424.4h.5v.5h-.5zM375.7 424.4h.5v.5h-.5zM376.2 424.4h.5v.5h-.5zM376.7 424.4h.5v.5h-.5zM377.2 424.4h.5v.5h-.5zM377.7 424.4h.5v.5h-.5zM378.2 424.4h.5v.5h-.5zM378.7 424.4h.5v.5h-.5zM379.2 424.4h.5v.5h-.5zM379.7 424.4h.5v.5h-.5zM380.2 424.4h.5v.5h-.5zM380.7 424.4h.5v.5h-.5zM381.2 424.4h.5v.5h-.5zM381.7 424.4h.5v.5h-.5zM368.2 424.9h.5v.5h-.5zM368.7 424.9h.5v.5h-.5zM369.2 424.9h.5v.5h-.5zM369.7 424.9h.5v.5h-.5zM370.7 424.9h.5v.5h-.5zM371.2 424.9h.5v.5h-.5zM371.7 424.9h.5v.5h-.5zM372.2 424.9h.5v.5h-.5zM372.7 424.9h.5v.5h-.5zM373.2 424.9h.5v.5h-.5zM373.7 424.9h.5v.5h-.5zM374.2 424.9h.5v.5h-.5zM374.7 424.9h.5v.5h-.5zM375.2 424.9h.5v.5h-.5zM375.7 424.9h.5v.5h-.5zM376.2 424.9h.5v.5h-.5zM376.7 424.9h.5v.5h-.5zM377.2 424.9h.5v.5h-.5zM377.7 424.9h.5v.5h-.5zM378.2 424.9h.5v.5h-.5zM378.7 424.9h.5v.5h-.5zM379.2 424.9h.5v.5h-.5zM379.7 424.9h.5v.5h-.5zM380.2 424.9h.5v.5h-.5zM368.2 425.4h.5v.5h-.5zM368.7 425.4h.5v.5h-.5zM369.2 425.4h.5v.5h-.5zM370.2 425.4h.5v.5h-.5zM370.7 425.4h.5v.5h-.5zM371.2 425.4h.5v.5h-.5zM371.7 425.4h.5v.5h-.5zM372.2 425.4h.5v.5h-.5zM372.7 425.4h.5v.5h-.5zM373.2 425.4h.5v.5h-.5zM373.7 425.4h.5v.5h-.5zM374.2 425.4h.5v.5h-.5zM374.7 425.4h.5v.5h-.5zM375.2 425.4h.5v.5h-.5zM375.7 425.4h.5v.5h-.5zM376.2 425.4h.5v.5h-.5zM376.7 425.4h.5v.5h-.5zM377.2 425.4h.5v.5h-.5zM377.7 425.4h.5v.5h-.5zM378.2 425.4h.5v.5h-.5zM378.7 425.4h.5v.5h-.5zM379.2 425.4h.5v.5h-.5zM379.7 425.4h.5v.5h-.5zM380.2 425.4h.5v.5h-.5zM367.2 425.9h.5v.5h-.5zM368.2 425.9h.5v.5h-.5zM368.7 425.9h.5v.5h-.5zM369.2 425.9h.5v.5h-.5zM369.7 425.9h.5v.5h-.5zM370.2 425.9h.5v.5h-.5zM370.7 425.9h.5v.5h-.5zM371.2 425.9h.5v.5h-.5zM371.7 425.9h.5v.5h-.5zM372.2 425.9h.5v.5h-.5zM372.7 425.9h.5v.5h-.5zM373.2 425.9h.5v.5h-.5zM373.7 425.9h.5v.5h-.5zM374.2 425.9h.5v.5h-.5zM374.7 425.9h.5v.5h-.5zM375.2 425.9h.5v.5h-.5zM375.7 425.9h.5v.5h-.5zM376.2 425.9h.5v.5h-.5zM376.7 425.9h.5v.5h-.5zM377.2 425.9h.5v.5h-.5zM377.7 425.9h.5v.5h-.5zM378.2 425.9h.5v.5h-.5zM378.7 425.9h.5v.5h-.5zM379.2 425.9h.5v.5h-.5zM379.7 425.9h.5v.5h-.5zM380.2 425.9h.5v.5h-.5zM366.7 426.4h.5v.5h-.5zM367.2 426.4h.5v.5h-.5zM368.2 426.4h.5v.5h-.5zM368.7 426.4h.5v.5h-.5zM369.2 426.4h.5v.5h-.5zM369.7 426.4h.5v.5h-.5zM370.2 426.4h.5v.5h-.5zM370.7 426.4h.5v.5h-.5zM371.2 426.4h.5v.5h-.5zM371.7 426.4h.5v.5h-.5zM372.2 426.4h.5v.5h-.5zM372.7 426.4h.5v.5h-.5zM373.2 426.4h.5v.5h-.5zM373.7 426.4h.5v.5h-.5zM374.2 426.4h.5v.5h-.5zM374.7 426.4h.5v.5h-.5zM375.2 426.4h.5v.5h-.5zM375.7 426.4h.5v.5h-.5zM376.2 426.4h.5v.5h-.5zM376.7 426.4h.5v.5h-.5zM377.2 426.4h.5v.5h-.5zM377.7 426.4h.5v.5h-.5zM378.2 426.4h.5v.5h-.5zM378.7 426.4h.5v.5h-.5zM379.2 426.4h.5v.5h-.5zM379.7 426.4h.5v.5h-.5zM366.7 426.9h.5v.5h-.5zM367.2 426.9h.5v.5h-.5zM367.7 426.9h.5v.5h-.5zM368.2 426.9h.5v.5h-.5zM368.7 426.9h.5v.5h-.5zM369.2 426.9h.5v.5h-.5zM369.7 426.9h.5v.5h-.5zM370.2 426.9h.5v.5h-.5zM370.7 426.9h.5v.5h-.5zM371.2 426.9h.5v.5h-.5zM371.7 426.9h.5v.5h-.5zM372.2 426.9h.5v.5h-.5zM372.7 426.9h.5v.5h-.5zM373.2 426.9h.5v.5h-.5zM373.7 426.9h.5v.5h-.5zM374.2 426.9h.5v.5h-.5zM374.7 426.9h.5v.5h-.5zM375.2 426.9h.5v.5h-.5zM375.7 426.9h.5v.5h-.5zM376.2 426.9h.5v.5h-.5zM376.7 426.9h.5v.5h-.5zM377.2 426.9h.5v.5h-.5zM377.7 426.9h.5v.5h-.5zM378.2 426.9h.5v.5h-.5zM379.7 426.9h.5v.5h-.5zM366.7 427.4h.5v.5h-.5zM367.2 427.4h.5v.5h-.5zM367.7 427.4h.5v.5h-.5zM368.2 427.4h.5v.5h-.5zM368.7 427.4h.5v.5h-.5zM369.2 427.4h.5v.5h-.5zM369.7 427.4h.5v.5h-.5zM370.2 427.4h.5v.5h-.5zM370.7 427.4h.5v.5h-.5zM371.2 427.4h.5v.5h-.5zM371.7 427.4h.5v.5h-.5zM372.2 427.4h.5v.5h-.5zM372.7 427.4h.5v.5h-.5zM373.2 427.4h.5v.5h-.5zM373.7 427.4h.5v.5h-.5zM374.2 427.4h.5v.5h-.5zM374.7 427.4h.5v.5h-.5zM375.2 427.4h.5v.5h-.5zM375.7 427.4h.5v.5h-.5zM376.2 427.4h.5v.5h-.5zM376.7 427.4h.5v.5h-.5zM377.2 427.4h.5v.5h-.5zM377.7 427.4h.5v.5h-.5zM378.2 427.4h.5v.5h-.5zM365.7 427.9h.5v.5h-.5zM366.2 427.9h.5v.5h-.5zM366.7 427.9h.5v.5h-.5zM367.2 427.9h.5v.5h-.5zM367.7 427.9h.5v.5h-.5zM368.2 427.9h.5v.5h-.5zM368.7 427.9h.5v.5h-.5zM369.2 427.9h.5v.5h-.5zM369.7 427.9h.5v.5h-.5zM370.2 427.9h.5v.5h-.5zM370.7 427.9h.5v.5h-.5zM371.2 427.9h.5v.5h-.5zM371.7 427.9h.5v.5h-.5zM372.2 427.9h.5v.5h-.5zM372.7 427.9h.5v.5h-.5zM373.2 427.9h.5v.5h-.5zM373.7 427.9h.5v.5h-.5zM374.2 427.9h.5v.5h-.5zM374.7 427.9h.5v.5h-.5zM375.2 427.9h.5v.5h-.5zM375.7 427.9h.5v.5h-.5zM376.2 427.9h.5v.5h-.5zM376.7 427.9h.5v.5h-.5zM377.2 427.9h.5v.5h-.5zM377.7 427.9h.5v.5h-.5zM378.2 427.9h.5v.5h-.5zM378.7 427.9h.5v.5h-.5zM365.7 428.4h.5v.5h-.5zM366.2 428.4h.5v.5h-.5zM366.7 428.4h.5v.5h-.5zM367.2 428.4h.5v.5h-.5zM367.7 428.4h.5v.5h-.5zM368.2 428.4h.5v.5h-.5zM368.7 428.4h.5v.5h-.5zM369.2 428.4h.5v.5h-.5zM369.7 428.4h.5v.5h-.5zM370.2 428.4h.5v.5h-.5zM370.7 428.4h.5v.5h-.5zM371.2 428.4h.5v.5h-.5zM371.7 428.4h.5v.5h-.5zM372.2 428.4h.5v.5h-.5zM372.7 428.4h.5v.5h-.5zM373.2 428.4h.5v.5h-.5zM373.7 428.4h.5v.5h-.5zM374.2 428.4h.5v.5h-.5zM374.7 428.4h.5v.5h-.5zM375.2 428.4h.5v.5h-.5zM375.7 428.4h.5v.5h-.5zM376.2 428.4h.5v.5h-.5zM376.7 428.4h.5v.5h-.5zM377.2 428.4h.5v.5h-.5zM377.7 428.4h.5v.5h-.5zM378.2 428.4h.5v.5h-.5zM378.7 428.4h.5v.5h-.5zM365.7 428.9h.5v.5h-.5zM366.2 428.9h.5v.5h-.5zM366.7 428.9h.5v.5h-.5zM367.2 428.9h.5v.5h-.5zM367.7 428.9h.5v.5h-.5zM368.2 428.9h.5v.5h-.5zM368.7 428.9h.5v.5h-.5zM369.2 428.9h.5v.5h-.5zM369.7 428.9h.5v.5h-.5zM370.2 428.9h.5v.5h-.5zM370.7 428.9h.5v.5h-.5zM371.2 428.9h.5v.5h-.5zM371.7 428.9h.5v.5h-.5zM372.2 428.9h.5v.5h-.5zM372.7 428.9h.5v.5h-.5zM373.2 428.9h.5v.5h-.5zM373.7 428.9h.5v.5h-.5zM374.2 428.9h.5v.5h-.5zM374.7 428.9h.5v.5h-.5zM375.2 428.9h.5v.5h-.5zM375.7 428.9h.5v.5h-.5zM376.2 428.9h.5v.5h-.5zM364.2 429.4h.5v.5h-.5zM364.7 429.4h.5v.5h-.5zM365.2 429.4h.5v.5h-.5zM365.7 429.4h.5v.5h-.5zM366.2 429.4h.5v.5h-.5zM366.7 429.4h.5v.5h-.5zM367.2 429.4h.5v.5h-.5zM367.7 429.4h.5v.5h-.5zM368.2 429.4h.5v.5h-.5zM368.7 429.4h.5v.5h-.5zM369.2 429.4h.5v.5h-.5zM369.7 429.4h.5v.5h-.5zM370.2 429.4h.5v.5h-.5zM370.7 429.4h.5v.5h-.5zM371.2 429.4h.5v.5h-.5zM371.7 429.4h.5v.5h-.5zM372.2 429.4h.5v.5h-.5zM372.7 429.4h.5v.5h-.5zM373.2 429.4h.5v.5h-.5zM373.7 429.4h.5v.5h-.5zM374.2 429.4h.5v.5h-.5zM374.7 429.4h.5v.5h-.5zM375.2 429.4h.5v.5h-.5zM375.7 429.4h.5v.5h-.5zM376.2 429.4h.5v.5h-.5zM364.7 429.9h.5v.5h-.5zM365.2 429.9h.5v.5h-.5zM365.7 429.9h.5v.5h-.5zM366.2 429.9h.5v.5h-.5zM366.7 429.9h.5v.5h-.5zM367.2 429.9h.5v.5h-.5zM367.7 429.9h.5v.5h-.5zM368.2 429.9h.5v.5h-.5zM368.7 429.9h.5v.5h-.5zM369.2 429.9h.5v.5h-.5zM369.7 429.9h.5v.5h-.5zM370.2 429.9h.5v.5h-.5zM370.7 429.9h.5v.5h-.5zM371.2 429.9h.5v.5h-.5zM371.7 429.9h.5v.5h-.5zM372.2 429.9h.5v.5h-.5zM372.7 429.9h.5v.5h-.5zM373.2 429.9h.5v.5h-.5zM373.7 429.9h.5v.5h-.5zM374.2 429.9h.5v.5h-.5zM374.7 429.9h.5v.5h-.5zM375.2 429.9h.5v.5h-.5zM375.7 429.9h.5v.5h-.5zM376.2 429.9h.5v.5h-.5zM363.7 430.4h.5v.5h-.5zM364.2 430.4h.5v.5h-.5zM364.7 430.4h.5v.5h-.5zM365.2 430.4h.5v.5h-.5zM365.7 430.4h.5v.5h-.5zM366.2 430.4h.5v.5h-.5zM366.7 430.4h.5v.5h-.5zM367.2 430.4h.5v.5h-.5zM367.7 430.4h.5v.5h-.5zM368.2 430.4h.5v.5h-.5zM368.7 430.4h.5v.5h-.5zM369.2 430.4h.5v.5h-.5zM369.7 430.4h.5v.5h-.5zM370.2 430.4h.5v.5h-.5zM370.7 430.4h.5v.5h-.5zM371.2 430.4h.5v.5h-.5zM371.7 430.4h.5v.5h-.5zM372.2 430.4h.5v.5h-.5zM372.7 430.4h.5v.5h-.5zM373.2 430.4h.5v.5h-.5zM373.7 430.4h.5v.5h-.5zM374.2 430.4h.5v.5h-.5zM374.7 430.4h.5v.5h-.5zM375.2 430.4h.5v.5h-.5zM375.7 430.4h.5v.5h-.5zM376.2 430.4h.5v.5h-.5zM362.2 430.9h.5v.5h-.5zM362.7 430.9h.5v.5h-.5zM363.2 430.9h.5v.5h-.5zM363.7 430.9h.5v.5h-.5zM364.2 430.9h.5v.5h-.5zM364.7 430.9h.5v.5h-.5zM365.2 430.9h.5v.5h-.5zM365.7 430.9h.5v.5h-.5zM366.2 430.9h.5v.5h-.5zM366.7 430.9h.5v.5h-.5zM367.2 430.9h.5v.5h-.5zM367.7 430.9h.5v.5h-.5zM368.2 430.9h.5v.5h-.5zM368.7 430.9h.5v.5h-.5zM369.2 430.9h.5v.5h-.5zM369.7 430.9h.5v.5h-.5zM370.2 430.9h.5v.5h-.5zM370.7 430.9h.5v.5h-.5zM371.2 430.9h.5v.5h-.5zM371.7 430.9h.5v.5h-.5zM372.2 430.9h.5v.5h-.5zM372.7 430.9h.5v.5h-.5zM373.2 430.9h.5v.5h-.5zM373.7 430.9h.5v.5h-.5zM374.2 430.9h.5v.5h-.5zM374.7 430.9h.5v.5h-.5zM375.2 430.9h.5v.5h-.5zM375.7 430.9h.5v.5h-.5zM361.7 431.4h.5v.5h-.5zM362.7 431.4h.5v.5h-.5zM363.2 431.4h.5v.5h-.5zM363.7 431.4h.5v.5h-.5zM364.2 431.4h.5v.5h-.5zM364.7 431.4h.5v.5h-.5zM365.2 431.4h.5v.5h-.5zM365.7 431.4h.5v.5h-.5zM366.2 431.4h.5v.5h-.5zM366.7 431.4h.5v.5h-.5zM367.2 431.4h.5v.5h-.5zM367.7 431.4h.5v.5h-.5zM368.2 431.4h.5v.5h-.5zM368.7 431.4h.5v.5h-.5zM369.2 431.4h.5v.5h-.5zM369.7 431.4h.5v.5h-.5zM370.2 431.4h.5v.5h-.5zM370.7 431.4h.5v.5h-.5zM371.2 431.4h.5v.5h-.5zM371.7 431.4h.5v.5h-.5zM372.2 431.4h.5v.5h-.5zM372.7 431.4h.5v.5h-.5zM373.2 431.4h.5v.5h-.5zM373.7 431.4h.5v.5h-.5zM374.2 431.4h.5v.5h-.5zM374.7 431.4h.5v.5h-.5zM362.2 431.9h.5v.5h-.5zM362.7 431.9h.5v.5h-.5zM363.2 431.9h.5v.5h-.5zM363.7 431.9h.5v.5h-.5zM364.2 431.9h.5v.5h-.5zM364.7 431.9h.5v.5h-.5zM365.2 431.9h.5v.5h-.5zM365.7 431.9h.5v.5h-.5zM366.2 431.9h.5v.5h-.5zM366.7 431.9h.5v.5h-.5zM367.2 431.9h.5v.5h-.5zM367.7 431.9h.5v.5h-.5zM368.2 431.9h.5v.5h-.5zM368.7 431.9h.5v.5h-.5zM369.2 431.9h.5v.5h-.5zM369.7 431.9h.5v.5h-.5zM370.2 431.9h.5v.5h-.5zM370.7 431.9h.5v.5h-.5zM371.2 431.9h.5v.5h-.5zM371.7 431.9h.5v.5h-.5zM372.2 431.9h.5v.5h-.5zM372.7 431.9h.5v.5h-.5zM373.2 431.9h.5v.5h-.5zM374.7 431.9h.5v.5h-.5zM361.7 432.4h.5v.5h-.5zM362.2 432.4h.5v.5h-.5zM362.7 432.4h.5v.5h-.5zM363.2 432.4h.5v.5h-.5zM363.7 432.4h.5v.5h-.5zM364.2 432.4h.5v.5h-.5zM364.7 432.4h.5v.5h-.5zM365.2 432.4h.5v.5h-.5zM365.7 432.4h.5v.5h-.5zM366.2 432.4h.5v.5h-.5zM366.7 432.4h.5v.5h-.5zM367.2 432.4h.5v.5h-.5zM367.7 432.4h.5v.5h-.5zM368.2 432.4h.5v.5h-.5zM368.7 432.4h.5v.5h-.5zM369.2 432.4h.5v.5h-.5zM369.7 432.4h.5v.5h-.5zM370.2 432.4h.5v.5h-.5zM370.7 432.4h.5v.5h-.5zM371.2 432.4h.5v.5h-.5zM371.7 432.4h.5v.5h-.5zM372.2 432.4h.5v.5h-.5zM372.7 432.4h.5v.5h-.5zM373.2 432.4h.5v.5h-.5zM373.7 432.4h.5v.5h-.5zM360.7 432.9h.5v.5h-.5zM361.2 432.9h.5v.5h-.5zM361.7 432.9h.5v.5h-.5zM362.2 432.9h.5v.5h-.5zM362.7 432.9h.5v.5h-.5zM363.2 432.9h.5v.5h-.5zM363.7 432.9h.5v.5h-.5zM364.2 432.9h.5v.5h-.5zM364.7 432.9h.5v.5h-.5zM365.2 432.9h.5v.5h-.5zM365.7 432.9h.5v.5h-.5zM366.2 432.9h.5v.5h-.5zM366.7 432.9h.5v.5h-.5zM367.2 432.9h.5v.5h-.5zM367.7 432.9h.5v.5h-.5zM368.2 432.9h.5v.5h-.5zM368.7 432.9h.5v.5h-.5zM369.2 432.9h.5v.5h-.5zM369.7 432.9h.5v.5h-.5zM370.2 432.9h.5v.5h-.5zM370.7 432.9h.5v.5h-.5zM371.2 432.9h.5v.5h-.5zM371.7 432.9h.5v.5h-.5zM373.2 432.9h.5v.5h-.5zM373.7 432.9h.5v.5h-.5zM359.2 433.4h.5v.5h-.5zM359.7 433.4h.5v.5h-.5zM361.2 433.4h.5v.5h-.5zM361.7 433.4h.5v.5h-.5zM362.2 433.4h.5v.5h-.5zM362.7 433.4h.5v.5h-.5zM363.2 433.4h.5v.5h-.5zM363.7 433.4h.5v.5h-.5zM364.2 433.4h.5v.5h-.5zM364.7 433.4h.5v.5h-.5zM365.2 433.4h.5v.5h-.5zM365.7 433.4h.5v.5h-.5zM366.2 433.4h.5v.5h-.5zM366.7 433.4h.5v.5h-.5zM367.2 433.4h.5v.5h-.5zM367.7 433.4h.5v.5h-.5zM368.2 433.4h.5v.5h-.5zM368.7 433.4h.5v.5h-.5zM369.2 433.4h.5v.5h-.5zM369.7 433.4h.5v.5h-.5zM370.2 433.4h.5v.5h-.5zM370.7 433.4h.5v.5h-.5zM371.2 433.4h.5v.5h-.5zM371.7 433.4h.5v.5h-.5zM359.7 433.9h.5v.5h-.5zM361.2 433.9h.5v.5h-.5zM361.7 433.9h.5v.5h-.5zM362.2 433.9h.5v.5h-.5zM362.7 433.9h.5v.5h-.5zM363.2 433.9h.5v.5h-.5zM363.7 433.9h.5v.5h-.5zM364.2 433.9h.5v.5h-.5zM364.7 433.9h.5v.5h-.5zM365.2 433.9h.5v.5h-.5zM365.7 433.9h.5v.5h-.5zM366.2 433.9h.5v.5h-.5zM366.7 433.9h.5v.5h-.5zM367.2 433.9h.5v.5h-.5zM367.7 433.9h.5v.5h-.5zM368.2 433.9h.5v.5h-.5zM368.7 433.9h.5v.5h-.5zM369.2 433.9h.5v.5h-.5zM369.7 433.9h.5v.5h-.5zM370.2 433.9h.5v.5h-.5zM370.7 433.9h.5v.5h-.5zM371.2 433.9h.5v.5h-.5zM371.7 433.9h.5v.5h-.5zM372.2 433.9h.5v.5h-.5zM358.7 434.4h.5v.5h-.5zM359.2 434.4h.5v.5h-.5zM359.7 434.4h.5v.5h-.5zM360.2 434.4h.5v.5h-.5zM360.7 434.4h.5v.5h-.5zM361.2 434.4h.5v.5h-.5zM361.7 434.4h.5v.5h-.5zM362.2 434.4h.5v.5h-.5zM362.7 434.4h.5v.5h-.5zM363.2 434.4h.5v.5h-.5zM363.7 434.4h.5v.5h-.5zM364.2 434.4h.5v.5h-.5zM364.7 434.4h.5v.5h-.5zM365.2 434.4h.5v.5h-.5zM365.7 434.4h.5v.5h-.5zM366.2 434.4h.5v.5h-.5zM366.7 434.4h.5v.5h-.5zM367.2 434.4h.5v.5h-.5zM367.7 434.4h.5v.5h-.5zM368.2 434.4h.5v.5h-.5zM368.7 434.4h.5v.5h-.5zM369.2 434.4h.5v.5h-.5zM369.7 434.4h.5v.5h-.5zM370.2 434.4h.5v.5h-.5zM370.7 434.4h.5v.5h-.5zM371.7 434.4h.5v.5h-.5zM358.7 434.9h.5v.5h-.5zM359.2 434.9h.5v.5h-.5zM359.7 434.9h.5v.5h-.5zM360.2 434.9h.5v.5h-.5zM360.7 434.9h.5v.5h-.5zM361.2 434.9h.5v.5h-.5zM361.7 434.9h.5v.5h-.5zM362.2 434.9h.5v.5h-.5zM362.7 434.9h.5v.5h-.5zM363.2 434.9h.5v.5h-.5zM363.7 434.9h.5v.5h-.5zM364.2 434.9h.5v.5h-.5zM364.7 434.9h.5v.5h-.5zM365.2 434.9h.5v.5h-.5zM365.7 434.9h.5v.5h-.5zM366.2 434.9h.5v.5h-.5zM366.7 434.9h.5v.5h-.5zM367.2 434.9h.5v.5h-.5zM367.7 434.9h.5v.5h-.5zM368.2 434.9h.5v.5h-.5zM368.7 434.9h.5v.5h-.5zM369.2 434.9h.5v.5h-.5zM369.7 434.9h.5v.5h-.5zM370.2 434.9h.5v.5h-.5zM370.7 434.9h.5v.5h-.5zM358.7 435.4h.5v.5h-.5zM359.2 435.4h.5v.5h-.5zM359.7 435.4h.5v.5h-.5zM360.2 435.4h.5v.5h-.5zM360.7 435.4h.5v.5h-.5zM361.2 435.4h.5v.5h-.5zM361.7 435.4h.5v.5h-.5zM362.2 435.4h.5v.5h-.5zM362.7 435.4h.5v.5h-.5zM363.2 435.4h.5v.5h-.5zM363.7 435.4h.5v.5h-.5zM364.2 435.4h.5v.5h-.5zM364.7 435.4h.5v.5h-.5zM365.2 435.4h.5v.5h-.5zM365.7 435.4h.5v.5h-.5zM366.2 435.4h.5v.5h-.5zM366.7 435.4h.5v.5h-.5zM367.2 435.4h.5v.5h-.5zM367.7 435.4h.5v.5h-.5zM368.2 435.4h.5v.5h-.5zM368.7 435.4h.5v.5h-.5zM369.2 435.4h.5v.5h-.5zM369.7 435.4h.5v.5h-.5zM370.2 435.4h.5v.5h-.5zM370.7 435.4h.5v.5h-.5zM358.2 435.9h.5v.5h-.5zM358.7 435.9h.5v.5h-.5zM359.2 435.9h.5v.5h-.5zM359.7 435.9h.5v.5h-.5zM360.2 435.9h.5v.5h-.5zM360.7 435.9h.5v.5h-.5zM361.2 435.9h.5v.5h-.5zM361.7 435.9h.5v.5h-.5zM362.2 435.9h.5v.5h-.5zM362.7 435.9h.5v.5h-.5zM363.2 435.9h.5v.5h-.5zM363.7 435.9h.5v.5h-.5zM364.2 435.9h.5v.5h-.5zM364.7 435.9h.5v.5h-.5zM365.2 435.9h.5v.5h-.5zM365.7 435.9h.5v.5h-.5zM366.2 435.9h.5v.5h-.5zM366.7 435.9h.5v.5h-.5zM367.2 435.9h.5v.5h-.5zM367.7 435.9h.5v.5h-.5zM368.2 435.9h.5v.5h-.5zM368.7 435.9h.5v.5h-.5zM369.2 435.9h.5v.5h-.5zM369.7 435.9h.5v.5h-.5zM370.2 435.9h.5v.5h-.5zM357.2 436.4h.5v.5h-.5zM357.7 436.4h.5v.5h-.5zM358.2 436.4h.5v.5h-.5zM358.7 436.4h.5v.5h-.5zM359.2 436.4h.5v.5h-.5zM359.7 436.4h.5v.5h-.5zM360.2 436.4h.5v.5h-.5zM360.7 436.4h.5v.5h-.5zM361.2 436.4h.5v.5h-.5zM361.7 436.4h.5v.5h-.5zM362.2 436.4h.5v.5h-.5zM362.7 436.4h.5v.5h-.5zM363.2 436.4h.5v.5h-.5zM363.7 436.4h.5v.5h-.5zM364.2 436.4h.5v.5h-.5zM364.7 436.4h.5v.5h-.5zM365.2 436.4h.5v.5h-.5zM365.7 436.4h.5v.5h-.5zM366.2 436.4h.5v.5h-.5zM366.7 436.4h.5v.5h-.5zM367.2 436.4h.5v.5h-.5zM367.7 436.4h.5v.5h-.5zM368.2 436.4h.5v.5h-.5zM368.7 436.4h.5v.5h-.5zM370.2 436.4h.5v.5h-.5zM357.2 436.9h.5v.5h-.5zM357.7 436.9h.5v.5h-.5zM358.2 436.9h.5v.5h-.5zM358.7 436.9h.5v.5h-.5zM359.2 436.9h.5v.5h-.5zM359.7 436.9h.5v.5h-.5zM360.2 436.9h.5v.5h-.5zM360.7 436.9h.5v.5h-.5zM361.2 436.9h.5v.5h-.5zM361.7 436.9h.5v.5h-.5zM362.2 436.9h.5v.5h-.5zM362.7 436.9h.5v.5h-.5zM363.2 436.9h.5v.5h-.5zM363.7 436.9h.5v.5h-.5zM364.2 436.9h.5v.5h-.5zM364.7 436.9h.5v.5h-.5zM365.2 436.9h.5v.5h-.5zM365.7 436.9h.5v.5h-.5zM366.2 436.9h.5v.5h-.5zM366.7 436.9h.5v.5h-.5zM367.2 436.9h.5v.5h-.5zM367.7 436.9h.5v.5h-.5zM355.7 437.4h.5v.5h-.5zM356.7 437.4h.5v.5h-.5zM357.2 437.4h.5v.5h-.5zM357.7 437.4h.5v.5h-.5zM358.2 437.4h.5v.5h-.5zM358.7 437.4h.5v.5h-.5zM359.2 437.4h.5v.5h-.5zM359.7 437.4h.5v.5h-.5zM360.2 437.4h.5v.5h-.5zM360.7 437.4h.5v.5h-.5zM361.2 437.4h.5v.5h-.5zM361.7 437.4h.5v.5h-.5zM362.2 437.4h.5v.5h-.5zM362.7 437.4h.5v.5h-.5zM363.2 437.4h.5v.5h-.5zM363.7 437.4h.5v.5h-.5zM364.2 437.4h.5v.5h-.5zM364.7 437.4h.5v.5h-.5zM365.2 437.4h.5v.5h-.5zM365.7 437.4h.5v.5h-.5zM366.2 437.4h.5v.5h-.5zM366.7 437.4h.5v.5h-.5zM355.2 437.9h.5v.5h-.5zM355.7 437.9h.5v.5h-.5zM356.2 437.9h.5v.5h-.5zM356.7 437.9h.5v.5h-.5zM357.2 437.9h.5v.5h-.5zM357.7 437.9h.5v.5h-.5zM358.2 437.9h.5v.5h-.5zM358.7 437.9h.5v.5h-.5zM359.2 437.9h.5v.5h-.5zM359.7 437.9h.5v.5h-.5zM360.2 437.9h.5v.5h-.5zM360.7 437.9h.5v.5h-.5zM361.2 437.9h.5v.5h-.5zM361.7 437.9h.5v.5h-.5zM362.2 437.9h.5v.5h-.5zM362.7 437.9h.5v.5h-.5zM363.2 437.9h.5v.5h-.5zM363.7 437.9h.5v.5h-.5zM364.2 437.9h.5v.5h-.5zM364.7 437.9h.5v.5h-.5zM365.2 437.9h.5v.5h-.5zM365.7 437.9h.5v.5h-.5zM366.2 437.9h.5v.5h-.5zM366.7 437.9h.5v.5h-.5zM355.7 438.4h.5v.5h-.5zM356.2 438.4h.5v.5h-.5zM356.7 438.4h.5v.5h-.5zM357.2 438.4h.5v.5h-.5zM357.7 438.4h.5v.5h-.5zM358.2 438.4h.5v.5h-.5zM358.7 438.4h.5v.5h-.5zM359.2 438.4h.5v.5h-.5zM359.7 438.4h.5v.5h-.5zM360.2 438.4h.5v.5h-.5zM360.7 438.4h.5v.5h-.5zM361.2 438.4h.5v.5h-.5zM361.7 438.4h.5v.5h-.5zM362.2 438.4h.5v.5h-.5zM362.7 438.4h.5v.5h-.5zM363.2 438.4h.5v.5h-.5zM363.7 438.4h.5v.5h-.5zM364.2 438.4h.5v.5h-.5zM364.7 438.4h.5v.5h-.5zM365.2 438.4h.5v.5h-.5zM365.7 438.4h.5v.5h-.5zM366.2 438.4h.5v.5h-.5zM355.7 438.9h.5v.5h-.5zM356.2 438.9h.5v.5h-.5zM356.7 438.9h.5v.5h-.5zM357.2 438.9h.5v.5h-.5zM357.7 438.9h.5v.5h-.5zM358.2 438.9h.5v.5h-.5zM358.7 438.9h.5v.5h-.5zM359.2 438.9h.5v.5h-.5zM359.7 438.9h.5v.5h-.5zM360.2 438.9h.5v.5h-.5zM360.7 438.9h.5v.5h-.5zM361.2 438.9h.5v.5h-.5zM361.7 438.9h.5v.5h-.5zM362.2 438.9h.5v.5h-.5zM362.7 438.9h.5v.5h-.5zM363.2 438.9h.5v.5h-.5zM363.7 438.9h.5v.5h-.5zM364.2 438.9h.5v.5h-.5zM364.7 438.9h.5v.5h-.5zM365.2 438.9h.5v.5h-.5zM365.7 438.9h.5v.5h-.5zM354.7 439.4h.5v.5h-.5zM355.2 439.4h.5v.5h-.5zM355.7 439.4h.5v.5h-.5zM356.2 439.4h.5v.5h-.5zM356.7 439.4h.5v.5h-.5zM357.2 439.4h.5v.5h-.5zM357.7 439.4h.5v.5h-.5zM358.2 439.4h.5v.5h-.5zM358.7 439.4h.5v.5h-.5zM359.2 439.4h.5v.5h-.5zM359.7 439.4h.5v.5h-.5zM360.2 439.4h.5v.5h-.5zM360.7 439.4h.5v.5h-.5zM361.2 439.4h.5v.5h-.5zM361.7 439.4h.5v.5h-.5zM362.2 439.4h.5v.5h-.5zM362.7 439.4h.5v.5h-.5zM363.2 439.4h.5v.5h-.5zM363.7 439.4h.5v.5h-.5zM364.2 439.4h.5v.5h-.5zM364.7 439.4h.5v.5h-.5zM354.7 439.9h.5v.5h-.5zM355.2 439.9h.5v.5h-.5zM355.7 439.9h.5v.5h-.5zM356.2 439.9h.5v.5h-.5zM356.7 439.9h.5v.5h-.5zM357.2 439.9h.5v.5h-.5zM357.7 439.9h.5v.5h-.5zM358.2 439.9h.5v.5h-.5zM358.7 439.9h.5v.5h-.5zM359.2 439.9h.5v.5h-.5zM359.7 439.9h.5v.5h-.5zM360.2 439.9h.5v.5h-.5zM360.7 439.9h.5v.5h-.5zM361.2 439.9h.5v.5h-.5zM361.7 439.9h.5v.5h-.5zM362.2 439.9h.5v.5h-.5zM362.7 439.9h.5v.5h-.5zM363.2 439.9h.5v.5h-.5zM363.7 439.9h.5v.5h-.5zM364.2 439.9h.5v.5h-.5zM364.7 439.9h.5v.5h-.5zM352.2 440.4h.5v.5h-.5zM352.7 440.4h.5v.5h-.5zM353.2 440.4h.5v.5h-.5zM353.7 440.4h.5v.5h-.5zM354.2 440.4h.5v.5h-.5zM354.7 440.4h.5v.5h-.5zM355.2 440.4h.5v.5h-.5zM355.7 440.4h.5v.5h-.5zM356.2 440.4h.5v.5h-.5zM356.7 440.4h.5v.5h-.5zM357.2 440.4h.5v.5h-.5zM357.7 440.4h.5v.5h-.5zM358.2 440.4h.5v.5h-.5zM358.7 440.4h.5v.5h-.5zM359.2 440.4h.5v.5h-.5zM359.7 440.4h.5v.5h-.5zM360.2 440.4h.5v.5h-.5zM360.7 440.4h.5v.5h-.5zM361.2 440.4h.5v.5h-.5zM361.7 440.4h.5v.5h-.5zM362.2 440.4h.5v.5h-.5zM362.7 440.4h.5v.5h-.5zM363.2 440.4h.5v.5h-.5zM363.7 440.4h.5v.5h-.5zM364.2 440.4h.5v.5h-.5zM364.7 440.4h.5v.5h-.5zM351.7 440.9h.5v.5h-.5zM352.2 440.9h.5v.5h-.5zM353.2 440.9h.5v.5h-.5zM353.7 440.9h.5v.5h-.5zM354.2 440.9h.5v.5h-.5zM354.7 440.9h.5v.5h-.5zM355.2 440.9h.5v.5h-.5zM355.7 440.9h.5v.5h-.5zM356.2 440.9h.5v.5h-.5zM356.7 440.9h.5v.5h-.5zM357.2 440.9h.5v.5h-.5zM357.7 440.9h.5v.5h-.5zM358.2 440.9h.5v.5h-.5zM358.7 440.9h.5v.5h-.5zM359.2 440.9h.5v.5h-.5zM359.7 440.9h.5v.5h-.5zM360.2 440.9h.5v.5h-.5zM360.7 440.9h.5v.5h-.5zM361.2 440.9h.5v.5h-.5zM361.7 440.9h.5v.5h-.5zM362.2 440.9h.5v.5h-.5zM363.2 440.9h.5v.5h-.5zM363.7 440.9h.5v.5h-.5zM351.2 441.4h.5v.5h-.5zM351.7 441.4h.5v.5h-.5zM352.2 441.4h.5v.5h-.5zM353.7 441.4h.5v.5h-.5zM354.2 441.4h.5v.5h-.5zM354.7 441.4h.5v.5h-.5zM355.2 441.4h.5v.5h-.5zM355.7 441.4h.5v.5h-.5zM356.2 441.4h.5v.5h-.5zM356.7 441.4h.5v.5h-.5zM357.2 441.4h.5v.5h-.5zM357.7 441.4h.5v.5h-.5zM358.2 441.4h.5v.5h-.5zM358.7 441.4h.5v.5h-.5zM359.2 441.4h.5v.5h-.5zM359.7 441.4h.5v.5h-.5zM360.2 441.4h.5v.5h-.5zM360.7 441.4h.5v.5h-.5zM361.2 441.4h.5v.5h-.5zM361.7 441.4h.5v.5h-.5zM362.2 441.4h.5v.5h-.5zM362.7 441.4h.5v.5h-.5zM351.7 441.9h.5v.5h-.5zM352.2 441.9h.5v.5h-.5zM352.7 441.9h.5v.5h-.5zM353.2 441.9h.5v.5h-.5zM353.7 441.9h.5v.5h-.5zM354.2 441.9h.5v.5h-.5zM354.7 441.9h.5v.5h-.5zM355.2 441.9h.5v.5h-.5zM355.7 441.9h.5v.5h-.5zM356.2 441.9h.5v.5h-.5zM356.7 441.9h.5v.5h-.5zM357.2 441.9h.5v.5h-.5zM357.7 441.9h.5v.5h-.5zM358.2 441.9h.5v.5h-.5zM358.7 441.9h.5v.5h-.5zM359.2 441.9h.5v.5h-.5zM359.7 441.9h.5v.5h-.5zM360.2 441.9h.5v.5h-.5zM360.7 441.9h.5v.5h-.5zM361.2 441.9h.5v.5h-.5zM361.7 441.9h.5v.5h-.5zM362.2 441.9h.5v.5h-.5zM362.7 441.9h.5v.5h-.5zM351.2 442.4h.5v.5h-.5zM351.7 442.4h.5v.5h-.5zM352.2 442.4h.5v.5h-.5zM352.7 442.4h.5v.5h-.5zM353.2 442.4h.5v.5h-.5zM353.7 442.4h.5v.5h-.5zM354.2 442.4h.5v.5h-.5zM354.7 442.4h.5v.5h-.5zM355.2 442.4h.5v.5h-.5zM355.7 442.4h.5v.5h-.5zM356.2 442.4h.5v.5h-.5zM356.7 442.4h.5v.5h-.5zM357.2 442.4h.5v.5h-.5zM357.7 442.4h.5v.5h-.5zM358.2 442.4h.5v.5h-.5zM358.7 442.4h.5v.5h-.5zM359.2 442.4h.5v.5h-.5zM359.7 442.4h.5v.5h-.5zM360.2 442.4h.5v.5h-.5zM360.7 442.4h.5v.5h-.5zM361.2 442.4h.5v.5h-.5zM364.2 442.4h.5v.5h-.5zM351.2 442.9h.5v.5h-.5zM351.7 442.9h.5v.5h-.5zM352.2 442.9h.5v.5h-.5zM352.7 442.9h.5v.5h-.5zM353.2 442.9h.5v.5h-.5zM353.7 442.9h.5v.5h-.5zM354.2 442.9h.5v.5h-.5zM354.7 442.9h.5v.5h-.5zM355.2 442.9h.5v.5h-.5zM355.7 442.9h.5v.5h-.5zM356.2 442.9h.5v.5h-.5zM356.7 442.9h.5v.5h-.5zM357.2 442.9h.5v.5h-.5zM357.7 442.9h.5v.5h-.5zM358.2 442.9h.5v.5h-.5zM358.7 442.9h.5v.5h-.5zM359.2 442.9h.5v.5h-.5zM359.7 442.9h.5v.5h-.5zM360.2 442.9h.5v.5h-.5zM360.7 442.9h.5v.5h-.5zM350.7 443.4h.5v.5h-.5zM351.2 443.4h.5v.5h-.5zM351.7 443.4h.5v.5h-.5zM352.2 443.4h.5v.5h-.5zM352.7 443.4h.5v.5h-.5zM353.2 443.4h.5v.5h-.5zM353.7 443.4h.5v.5h-.5zM354.2 443.4h.5v.5h-.5zM354.7 443.4h.5v.5h-.5zM355.2 443.4h.5v.5h-.5zM355.7 443.4h.5v.5h-.5zM356.2 443.4h.5v.5h-.5zM356.7 443.4h.5v.5h-.5zM357.2 443.4h.5v.5h-.5zM357.7 443.4h.5v.5h-.5zM358.2 443.4h.5v.5h-.5zM358.7 443.4h.5v.5h-.5zM359.2 443.4h.5v.5h-.5zM360.2 443.4h.5v.5h-.5zM360.7 443.4h.5v.5h-.5zM361.2 443.4h.5v.5h-.5zM350.2 443.9h.5v.5h-.5zM350.7 443.9h.5v.5h-.5zM351.2 443.9h.5v.5h-.5zM351.7 443.9h.5v.5h-.5zM352.2 443.9h.5v.5h-.5zM352.7 443.9h.5v.5h-.5zM353.2 443.9h.5v.5h-.5zM353.7 443.9h.5v.5h-.5zM354.2 443.9h.5v.5h-.5zM354.7 443.9h.5v.5h-.5zM355.2 443.9h.5v.5h-.5zM355.7 443.9h.5v.5h-.5zM356.2 443.9h.5v.5h-.5zM356.7 443.9h.5v.5h-.5zM357.2 443.9h.5v.5h-.5zM357.7 443.9h.5v.5h-.5zM358.2 443.9h.5v.5h-.5zM359.2 443.9h.5v.5h-.5zM360.2 443.9h.5v.5h-.5zM360.7 443.9h.5v.5h-.5zM347.7 444.4h.5v.5h-.5zM348.2 444.4h.5v.5h-.5zM349.7 444.4h.5v.5h-.5zM350.2 444.4h.5v.5h-.5zM350.7 444.4h.5v.5h-.5zM351.2 444.4h.5v.5h-.5zM351.7 444.4h.5v.5h-.5zM352.2 444.4h.5v.5h-.5zM352.7 444.4h.5v.5h-.5zM353.2 444.4h.5v.5h-.5zM353.7 444.4h.5v.5h-.5zM354.2 444.4h.5v.5h-.5zM354.7 444.4h.5v.5h-.5zM355.2 444.4h.5v.5h-.5zM355.7 444.4h.5v.5h-.5zM356.2 444.4h.5v.5h-.5zM356.7 444.4h.5v.5h-.5zM357.2 444.4h.5v.5h-.5zM357.7 444.4h.5v.5h-.5zM358.2 444.4h.5v.5h-.5zM359.2 444.4h.5v.5h-.5zM359.7 444.4h.5v.5h-.5zM349.2 444.9h.5v.5h-.5zM349.7 444.9h.5v.5h-.5zM350.2 444.9h.5v.5h-.5zM350.7 444.9h.5v.5h-.5zM351.2 444.9h.5v.5h-.5zM351.7 444.9h.5v.5h-.5zM352.2 444.9h.5v.5h-.5zM352.7 444.9h.5v.5h-.5zM353.2 444.9h.5v.5h-.5zM353.7 444.9h.5v.5h-.5zM354.2 444.9h.5v.5h-.5zM354.7 444.9h.5v.5h-.5zM355.2 444.9h.5v.5h-.5zM355.7 444.9h.5v.5h-.5zM356.2 444.9h.5v.5h-.5zM356.7 444.9h.5v.5h-.5zM357.2 444.9h.5v.5h-.5zM357.7 444.9h.5v.5h-.5zM358.2 444.9h.5v.5h-.5zM349.2 445.4h.5v.5h-.5zM349.7 445.4h.5v.5h-.5zM350.2 445.4h.5v.5h-.5zM350.7 445.4h.5v.5h-.5zM351.2 445.4h.5v.5h-.5zM351.7 445.4h.5v.5h-.5zM352.2 445.4h.5v.5h-.5zM352.7 445.4h.5v.5h-.5zM353.2 445.4h.5v.5h-.5zM353.7 445.4h.5v.5h-.5zM354.2 445.4h.5v.5h-.5zM354.7 445.4h.5v.5h-.5zM355.2 445.4h.5v.5h-.5zM355.7 445.4h.5v.5h-.5zM356.2 445.4h.5v.5h-.5zM356.7 445.4h.5v.5h-.5zM357.2 445.4h.5v.5h-.5zM346.7 445.9h.5v.5h-.5zM347.2 445.9h.5v.5h-.5zM347.7 445.9h.5v.5h-.5zM348.2 445.9h.5v.5h-.5zM348.7 445.9h.5v.5h-.5zM349.2 445.9h.5v.5h-.5zM349.7 445.9h.5v.5h-.5zM351.2 445.9h.5v.5h-.5zM351.7 445.9h.5v.5h-.5zM352.2 445.9h.5v.5h-.5zM352.7 445.9h.5v.5h-.5zM353.2 445.9h.5v.5h-.5zM353.7 445.9h.5v.5h-.5zM354.2 445.9h.5v.5h-.5zM354.7 445.9h.5v.5h-.5zM355.2 445.9h.5v.5h-.5zM355.7 445.9h.5v.5h-.5zM356.2 445.9h.5v.5h-.5zM356.7 445.9h.5v.5h-.5zM357.2 445.9h.5v.5h-.5zM358.7 445.9h.5v.5h-.5zM346.7 446.4h.5v.5h-.5zM347.2 446.4h.5v.5h-.5zM347.7 446.4h.5v.5h-.5zM348.2 446.4h.5v.5h-.5zM348.7 446.4h.5v.5h-.5zM349.2 446.4h.5v.5h-.5zM349.7 446.4h.5v.5h-.5zM350.2 446.4h.5v.5h-.5zM350.7 446.4h.5v.5h-.5zM351.2 446.4h.5v.5h-.5zM351.7 446.4h.5v.5h-.5zM352.2 446.4h.5v.5h-.5zM352.7 446.4h.5v.5h-.5zM353.2 446.4h.5v.5h-.5zM353.7 446.4h.5v.5h-.5zM354.2 446.4h.5v.5h-.5zM354.7 446.4h.5v.5h-.5zM355.2 446.4h.5v.5h-.5zM355.7 446.4h.5v.5h-.5zM356.2 446.4h.5v.5h-.5zM356.7 446.4h.5v.5h-.5zM357.2 446.4h.5v.5h-.5zM347.7 446.9h.5v.5h-.5zM348.2 446.9h.5v.5h-.5zM348.7 446.9h.5v.5h-.5zM349.2 446.9h.5v.5h-.5zM349.7 446.9h.5v.5h-.5zM350.2 446.9h.5v.5h-.5zM350.7 446.9h.5v.5h-.5zM351.2 446.9h.5v.5h-.5zM351.7 446.9h.5v.5h-.5zM352.2 446.9h.5v.5h-.5zM352.7 446.9h.5v.5h-.5zM353.2 446.9h.5v.5h-.5zM353.7 446.9h.5v.5h-.5zM354.2 446.9h.5v.5h-.5zM354.7 446.9h.5v.5h-.5zM355.2 446.9h.5v.5h-.5zM347.7 447.4h.5v.5h-.5zM349.7 447.4h.5v.5h-.5zM350.2 447.4h.5v.5h-.5zM350.7 447.4h.5v.5h-.5zM351.2 447.4h.5v.5h-.5zM351.7 447.4h.5v.5h-.5zM352.2 447.4h.5v.5h-.5zM352.7 447.4h.5v.5h-.5zM353.2 447.4h.5v.5h-.5zM353.7 447.4h.5v.5h-.5zM354.2 447.4h.5v.5h-.5zM354.7 447.4h.5v.5h-.5zM355.2 447.4h.5v.5h-.5zM347.2 447.9h.5v.5h-.5zM347.7 447.9h.5v.5h-.5zM349.2 447.9h.5v.5h-.5zM349.7 447.9h.5v.5h-.5zM350.2 447.9h.5v.5h-.5zM350.7 447.9h.5v.5h-.5zM351.2 447.9h.5v.5h-.5zM351.7 447.9h.5v.5h-.5zM352.2 447.9h.5v.5h-.5zM352.7 447.9h.5v.5h-.5zM353.2 447.9h.5v.5h-.5zM353.7 447.9h.5v.5h-.5zM354.2 447.9h.5v.5h-.5zM354.7 447.9h.5v.5h-.5zM355.2 447.9h.5v.5h-.5zM346.2 448.4h.5v.5h-.5zM346.7 448.4h.5v.5h-.5zM347.2 448.4h.5v.5h-.5zM347.7 448.4h.5v.5h-.5zM348.2 448.4h.5v.5h-.5zM348.7 448.4h.5v.5h-.5zM349.2 448.4h.5v.5h-.5zM349.7 448.4h.5v.5h-.5zM350.2 448.4h.5v.5h-.5zM350.7 448.4h.5v.5h-.5zM351.2 448.4h.5v.5h-.5zM351.7 448.4h.5v.5h-.5zM352.2 448.4h.5v.5h-.5zM352.7 448.4h.5v.5h-.5zM353.2 448.4h.5v.5h-.5zM353.7 448.4h.5v.5h-.5zM354.2 448.4h.5v.5h-.5zM354.7 448.4h.5v.5h-.5zM355.2 448.4h.5v.5h-.5zM344.7 448.9h.5v.5h-.5zM345.2 448.9h.5v.5h-.5zM346.2 448.9h.5v.5h-.5zM346.7 448.9h.5v.5h-.5zM347.2 448.9h.5v.5h-.5zM347.7 448.9h.5v.5h-.5zM348.2 448.9h.5v.5h-.5zM348.7 448.9h.5v.5h-.5zM349.2 448.9h.5v.5h-.5zM349.7 448.9h.5v.5h-.5zM350.2 448.9h.5v.5h-.5zM350.7 448.9h.5v.5h-.5zM351.2 448.9h.5v.5h-.5zM351.7 448.9h.5v.5h-.5zM352.2 448.9h.5v.5h-.5zM352.7 448.9h.5v.5h-.5zM353.2 448.9h.5v.5h-.5zM353.7 448.9h.5v.5h-.5zM354.2 448.9h.5v.5h-.5zM354.7 448.9h.5v.5h-.5zM356.2 448.9h.5v.5h-.5zM356.7 448.9h.5v.5h-.5zM343.7 449.4h.5v.5h-.5zM344.2 449.4h.5v.5h-.5zM344.7 449.4h.5v.5h-.5zM345.2 449.4h.5v.5h-.5zM346.2 449.4h.5v.5h-.5zM346.7 449.4h.5v.5h-.5zM347.2 449.4h.5v.5h-.5zM347.7 449.4h.5v.5h-.5zM348.2 449.4h.5v.5h-.5zM348.7 449.4h.5v.5h-.5zM349.2 449.4h.5v.5h-.5zM349.7 449.4h.5v.5h-.5zM350.2 449.4h.5v.5h-.5zM350.7 449.4h.5v.5h-.5zM351.2 449.4h.5v.5h-.5zM351.7 449.4h.5v.5h-.5zM352.2 449.4h.5v.5h-.5zM352.7 449.4h.5v.5h-.5zM353.2 449.4h.5v.5h-.5zM353.7 449.4h.5v.5h-.5zM354.2 449.4h.5v.5h-.5zM356.2 449.4h.5v.5h-.5zM356.7 449.4h.5v.5h-.5zM343.7 449.9h.5v.5h-.5zM344.2 449.9h.5v.5h-.5zM344.7 449.9h.5v.5h-.5zM345.2 449.9h.5v.5h-.5zM346.2 449.9h.5v.5h-.5zM346.7 449.9h.5v.5h-.5zM347.2 449.9h.5v.5h-.5zM347.7 449.9h.5v.5h-.5zM348.2 449.9h.5v.5h-.5zM348.7 449.9h.5v.5h-.5zM349.2 449.9h.5v.5h-.5zM349.7 449.9h.5v.5h-.5zM350.2 449.9h.5v.5h-.5zM350.7 449.9h.5v.5h-.5zM351.2 449.9h.5v.5h-.5zM351.7 449.9h.5v.5h-.5zM352.2 449.9h.5v.5h-.5zM352.7 449.9h.5v.5h-.5zM343.2 450.4h.5v.5h-.5zM343.7 450.4h.5v.5h-.5zM344.2 450.4h.5v.5h-.5zM344.7 450.4h.5v.5h-.5zM345.2 450.4h.5v.5h-.5zM345.7 450.4h.5v.5h-.5zM346.2 450.4h.5v.5h-.5zM346.7 450.4h.5v.5h-.5zM347.7 450.4h.5v.5h-.5zM348.2 450.4h.5v.5h-.5zM348.7 450.4h.5v.5h-.5zM349.2 450.4h.5v.5h-.5zM349.7 450.4h.5v.5h-.5zM350.7 450.4h.5v.5h-.5zM351.2 450.4h.5v.5h-.5zM351.7 450.4h.5v.5h-.5zM343.7 450.9h.5v.5h-.5zM344.2 450.9h.5v.5h-.5zM345.7 450.9h.5v.5h-.5zM346.2 450.9h.5v.5h-.5zM346.7 450.9h.5v.5h-.5zM347.2 450.9h.5v.5h-.5zM347.7 450.9h.5v.5h-.5zM348.2 450.9h.5v.5h-.5zM348.7 450.9h.5v.5h-.5zM349.2 450.9h.5v.5h-.5zM349.7 450.9h.5v.5h-.5zM350.2 450.9h.5v.5h-.5zM350.7 450.9h.5v.5h-.5zM351.2 450.9h.5v.5h-.5zM342.2 451.4h.5v.5h-.5zM342.7 451.4h.5v.5h-.5zM346.2 451.4h.5v.5h-.5zM346.7 451.4h.5v.5h-.5zM347.2 451.4h.5v.5h-.5zM347.7 451.4h.5v.5h-.5zM348.2 451.4h.5v.5h-.5zM348.7 451.4h.5v.5h-.5zM349.2 451.4h.5v.5h-.5zM349.7 451.4h.5v.5h-.5zM350.2 451.4h.5v.5h-.5zM350.7 451.4h.5v.5h-.5zM351.2 451.4h.5v.5h-.5zM342.7 451.9h.5v.5h-.5zM343.2 451.9h.5v.5h-.5zM344.7 451.9h.5v.5h-.5zM345.2 451.9h.5v.5h-.5zM346.7 451.9h.5v.5h-.5zM347.2 451.9h.5v.5h-.5zM347.7 451.9h.5v.5h-.5zM348.2 451.9h.5v.5h-.5zM350.2 451.9h.5v.5h-.5zM350.7 451.9h.5v.5h-.5zM340.7 452.4h.5v.5h-.5zM344.7 452.4h.5v.5h-.5zM345.2 452.4h.5v.5h-.5zM346.7 452.4h.5v.5h-.5zM347.2 452.4h.5v.5h-.5zM347.7 452.4h.5v.5h-.5zM348.2 452.4h.5v.5h-.5zM348.7 452.4h.5v.5h-.5zM349.2 452.4h.5v.5h-.5zM340.7 452.9h.5v.5h-.5zM341.2 452.9h.5v.5h-.5zM343.7 452.9h.5v.5h-.5zM344.2 452.9h.5v.5h-.5zM344.7 452.9h.5v.5h-.5zM347.2 452.9h.5v.5h-.5zM347.7 452.9h.5v.5h-.5zM348.2 452.9h.5v.5h-.5zM340.7 453.4h.5v.5h-.5zM341.2 453.4h.5v.5h-.5zM341.7 453.4h.5v.5h-.5zM343.2 453.4h.5v.5h-.5zM343.7 453.4h.5v.5h-.5zM344.2 453.4h.5v.5h-.5zM344.7 453.4h.5v.5h-.5zM348.2 453.4h.5v.5h-.5zM340.7 453.9h.5v.5h-.5zM341.2 453.9h.5v.5h-.5zM341.7 453.9h.5v.5h-.5zM342.2 453.9h.5v.5h-.5zM343.2 453.9h.5v.5h-.5zM343.7 453.9h.5v.5h-.5zM344.2 453.9h.5v.5h-.5zM344.7 453.9h.5v.5h-.5zM345.2 453.9h.5v.5h-.5zM345.7 453.9h.5v.5h-.5zM346.2 453.9h.5v.5h-.5zM347.2 453.9h.5v.5h-.5zM347.7 453.9h.5v.5h-.5zM348.2 453.9h.5v.5h-.5zM340.2 454.4h.5v.5h-.5zM340.7 454.4h.5v.5h-.5zM341.7 454.4h.5v.5h-.5zM342.2 454.4h.5v.5h-.5zM343.2 454.4h.5v.5h-.5zM343.7 454.4h.5v.5h-.5zM344.7 454.4h.5v.5h-.5zM345.2 454.4h.5v.5h-.5zM345.7 454.4h.5v.5h-.5zM346.2 454.4h.5v.5h-.5zM347.2 454.4h.5v.5h-.5zM347.7 454.4h.5v.5h-.5zM340.2 454.9h.5v.5h-.5zM340.7 454.9h.5v.5h-.5zM343.2 454.9h.5v.5h-.5zM343.7 454.9h.5v.5h-.5zM344.2 454.9h.5v.5h-.5zM344.7 454.9h.5v.5h-.5zM345.2 454.9h.5v.5h-.5zM345.7 454.9h.5v.5h-.5zM346.2 454.9h.5v.5h-.5zM340.7 455.4h.5v.5h-.5zM341.2 455.4h.5v.5h-.5zM342.2 455.4h.5v.5h-.5zM342.7 455.4h.5v.5h-.5zM343.7 455.4h.5v.5h-.5zM344.2 455.4h.5v.5h-.5zM344.7 455.4h.5v.5h-.5zM345.2 455.4h.5v.5h-.5zM339.2 455.9h.5v.5h-.5zM339.7 455.9h.5v.5h-.5zM343.7 455.9h.5v.5h-.5zM345.2 455.9h.5v.5h-.5zM339.2 456.4h.5v.5h-.5zM339.7 456.4h.5v.5h-.5zM341.2 456.4h.5v.5h-.5zM341.7 456.4h.5v.5h-.5zM343.7 456.4h.5v.5h-.5zM344.2 456.4h.5v.5h-.5zM339.7 456.9h.5v.5h-.5zM340.2 456.9h.5v.5h-.5zM340.7 456.9h.5v.5h-.5zM341.2 456.9h.5v.5h-.5zM341.7 456.9h.5v.5h-.5zM342.2 456.9h.5v.5h-.5zM344.2 456.9h.5v.5h-.5zM344.7 456.9h.5v.5h-.5zM337.7 457.4h.5v.5h-.5zM338.2 457.4h.5v.5h-.5zM338.7 457.4h.5v.5h-.5zM340.2 457.4h.5v.5h-.5zM340.7 457.4h.5v.5h-.5zM344.2 457.4h.5v.5h-.5zM344.7 457.4h.5v.5h-.5zM338.2 457.9h.5v.5h-.5zM340.2 457.9h.5v.5h-.5zM340.7 457.9h.5v.5h-.5zM339.7 458.4h.5v.5h-.5zM340.2 458.4h.5v.5h-.5zM340.7 458.4h.5v.5h-.5zM341.2 458.4h.5v.5h-.5zM334.7 458.9h.5v.5h-.5zM336.2 458.9h.5v.5h-.5zM339.7 458.9h.5v.5h-.5zM340.2 458.9h.5v.5h-.5zM340.7 458.9h.5v.5h-.5zM341.2 458.9h.5v.5h-.5zM341.7 458.9h.5v.5h-.5zM340.2 459.4h.5v.5h-.5zM339.7 459.9h.5v.5h-.5zM339.2 460.4h.5v.5h-.5zM339.7 460.4h.5v.5h-.5zM338.7 460.9h.5v.5h-.5zM337.2 461.4h.5v.5h-.5zM337.7 461.4h.5v.5h-.5zM338.2 461.4h.5v.5h-.5zM340.7 461.4h.5v.5h-.5zM337.2 461.9h.5v.5h-.5zM337.7 461.9h.5v.5h-.5zM334.7 462.4h.5v.5h-.5zM337.7 462.9h.5v.5h-.5zM338.2 462.9h.5v.5h-.5zM331.2 464.9h.5v.5h-.5zM332.7 465.9h.5v.5h-.5zM333.2 465.9h.5v.5h-.5zM332.7 466.4h.5v.5h-.5zM329.7 468.4h.5v.5h-.5zM326.2 472.4h.5v.5h-.5zM325.7 472.9h.5v.5h-.5zM326.2 472.9h.5v.5h-.5zM320.2 477.4h.5v.5h-.5z" fill="#0072BD" fill-opacity="1.00"/>
<rect x="306.2" y="349.4" width="161.5" height="132.6" fill="none" stroke="#262626" stroke-width="1.4"/>
<path d="M346.5 349.4 v2.6 M346.5 482.0 v-2.6 M306.2 448.7 h2.6 M467.7 448.7 h-2.6 M386.8 349.4 v2.6 M386.8 482.0 v-2.6 M306.2 415.4 h2.6 M467.7 415.4 h-2.6 M427.1 349.4 v2.6 M427.1 482.0 v-2.6 M306.2 382.1 h2.6 M467.7 382.1 h-2.6 " stroke="#262626" stroke-width="1.1" fill="none"/>
<text x="293.0" y="355.5" font-family='"Liberation Serif", serif' font-size="9.2" font-weight="normal" text-anchor="start" fill="#000" stroke="#000" stroke-width="0.18">1</text>
<text x="287.6" y="388.5" font-family='"Liberation Serif", serif' font-size="9.2" font-weight="normal" text-anchor="start" fill="#000" textLength="12.6" lengthAdjust="spacingAndGlyphs" stroke="#000" stroke-width="0.18">0.5</text>
<text x="291.4" y="421.5" font-family='"Liberation Serif", serif' font-size="9.2" font-weight="normal" text-anchor="start" fill="#000" stroke="#000" stroke-width="0.18">0</text>
<text x="285.1" y="454.4" font-family='"Liberation Serif", serif' font-size="9.2" font-weight="normal" text-anchor="start" fill="#000" textLength="15.1" lengthAdjust="spacingAndGlyphs" stroke="#000" stroke-width="0.18">-0.5</text>
<text x="288.9" y="485.2" font-family='"Liberation Serif", serif' font-size="9.2" font-weight="normal" text-anchor="start" fill="#000" textLength="8.1" lengthAdjust="spacingAndGlyphs" stroke="#000" stroke-width="0.18">-1</text>
<text x="305.0" y="496.3" font-family='"Liberation Serif", serif' font-size="9.2" font-weight="normal" text-anchor="start" fill="#000" textLength="7.9" lengthAdjust="spacingAndGlyphs" stroke="#000" stroke-width="0.18">-1</text>
<text x="337.0" y="496.3" font-family='"Liberation Serif", serif' font-size="9.2" font-weight="normal" text-anchor="start" fill="#000" textLength="15.3" lengthAdjust="spacingAndGlyphs" stroke="#000" stroke-width="0.18">-0.5</text>
<text x="385.1" y="496.3" font-family='"Liberation Serif", serif' font-size="9.2" font-weight="normal" text-anchor="start" fill="#000" stroke="#000" stroke-width="0.18">0</text>
<text x="421.6" y="496.3" font-family='"Liberation Serif", serif' font-size="9.2" font-weight="normal" text-anchor="start" fill="#000" textLength="11.3" lengthAdjust="spacingAndGlyphs" stroke="#000" stroke-width="0.18">0.5</text>
<text x="464.0" y="496.3" font-family='"Liberation Serif", serif' font-size="9.2" font-weight="normal" text-anchor="start" fill="#000" stroke="#000" stroke-width="0.18">1</text>
<text x="358.6" y="506.9" font-family='"Liberation Serif", serif' font-size="12.0" font-weight="normal" text-anchor="start" fill="#000" textLength="53.8" lengthAdjust="spacingAndGlyphs" stroke="#000" stroke-width="0.3">Calculated</text>
<text transform="translate(284.0 417.5) rotate(-90)" x="0" y="0" font-family='"Liberation Serif", serif' font-size="12.8" text-anchor="middle" textLength="52.5" lengthAdjust="spacingAndGlyphs" stroke="#000" stroke-width="0.3">Measured</text>
<text x="266.5" y="356.3" font-family='"Liberation Serif", serif' font-size="21.9" font-weight="bold" text-anchor="start" fill="#000">d</text>
<path d="M549.31 480.6 V480.20 H550.91 V480.6Z M551.16 480.6 V480.20 H552.77 V480.6Z M554.88 480.6 V479.10 H556.49 V480.6Z M556.74 480.6 V478.50 H558.34 V480.6Z M558.59 480.6 V477.50 H560.20 V480.6Z M560.45 480.6 V476.70 H562.06 V480.6Z M562.31 480.6 V473.80 H563.91 V480.6Z M564.16 480.6 V476.20 H565.77 V480.6Z M566.02 480.6 V471.80 H567.63 V480.6Z M567.88 480.6 V473.10 H569.48 V480.6Z M569.73 480.6 V472.20 H571.34 V480.6Z M571.59 480.6 V472.50 H573.20 V480.6Z M573.45 480.6 V467.80 H575.06 V480.6Z M575.31 480.6 V462.00 H576.91 V480.6Z M577.16 480.6 V459.10 H578.77 V480.6Z M579.02 480.6 V454.40 H580.63 V480.6Z M580.88 480.6 V452.20 H582.48 V480.6Z M582.73 480.6 V449.10 H584.34 V480.6Z M584.59 480.6 V431.70 H586.20 V480.6Z M586.45 480.6 V434.40 H588.05 V480.6Z M588.30 480.6 V383.00 H589.91 V480.6Z M590.16 480.6 V378.90 H591.77 V480.6Z M592.02 480.6 V378.90 H593.62 V480.6Z M593.88 480.6 V372.70 H595.48 V480.6Z M595.73 480.6 V369.20 H597.34 V480.6Z M597.59 480.6 V372.70 H599.20 V480.6Z M599.45 480.6 V371.30 H601.05 V480.6Z M601.30 480.6 V368.30 H602.91 V480.6Z M603.16 480.6 V363.50 H604.77 V480.6Z M605.02 480.6 V369.20 H606.62 V480.6Z M606.87 480.6 V370.90 H608.48 V480.6Z M608.73 480.6 V401.40 H610.34 V480.6Z M610.59 480.6 V416.10 H612.20 V480.6Z M612.45 480.6 V414.30 H614.05 V480.6Z M614.30 480.6 V422.10 H615.91 V480.6Z M616.16 480.6 V422.90 H617.77 V480.6Z M618.02 480.6 V424.10 H619.62 V480.6Z M619.87 480.6 V426.60 H621.48 V480.6Z M621.73 480.6 V432.20 H623.34 V480.6Z M623.59 480.6 V431.60 H625.19 V480.6Z M625.44 480.6 V448.40 H627.05 V480.6Z M627.30 480.6 V459.00 H628.91 V480.6Z M629.16 480.6 V457.60 H630.76 V480.6Z M631.02 480.6 V459.40 H632.62 V480.6Z M632.87 480.6 V463.40 H634.48 V480.6Z M634.73 480.6 V465.50 H636.34 V480.6Z M636.59 480.6 V468.10 H638.19 V480.6Z M638.44 480.6 V473.20 H640.05 V480.6Z M640.30 480.6 V470.10 H641.91 V480.6Z M642.16 480.6 V475.20 H643.76 V480.6Z M644.01 480.6 V475.60 H645.62 V480.6Z M645.87 480.6 V476.20 H647.48 V480.6Z M647.73 480.6 V476.80 H649.34 V480.6Z M649.59 480.6 V478.20 H651.19 V480.6Z M651.44 480.6 V478.20 H653.05 V480.6Z M653.30 480.6 V479.20 H654.91 V480.6Z M655.16 480.6 V479.60 H656.76 V480.6Z M657.01 480.6 V480.00 H658.62 V480.6Z M658.87 480.6 V480.30 H660.48 V480.6Z " fill="#B4C7E7"/>
<rect x="529.0" y="346.0" width="154.4" height="135.4" fill="none" stroke="#262626" stroke-width="1.4"/>
<path d="M568.7 346.0 v2.6 M568.7 481.4 v-2.6 M606.1 346.0 v2.6 M606.1 481.4 v-2.6 M643.5 346.0 v2.6 M643.5 481.4 v-2.6 M529.0 435.7 h2.6 M683.4 435.7 h-2.6 M529.0 390.8 h2.6 M683.4 390.8 h-2.6 " stroke="#262626" stroke-width="1.1" fill="none"/>
<text x="513.2" y="349.7" font-family='"Liberation Serif", serif' font-size="9.2" font-weight="normal" text-anchor="start" fill="#000" textLength="14.1" lengthAdjust="spacingAndGlyphs" stroke="#000" stroke-width="0.18">600</text>
<text x="512.6" y="392.4" font-family='"Liberation Serif", serif' font-size="9.2" font-weight="normal" text-anchor="start" fill="#000" textLength="14.1" lengthAdjust="spacingAndGlyphs" stroke="#000" stroke-width="0.18">400</text>
<text x="513.0" y="438.4" font-family='"Liberation Serif", serif' font-size="9.2" font-weight="normal" text-anchor="start" fill="#000" textLength="14.1" lengthAdjust="spacingAndGlyphs" stroke="#000" stroke-width="0.18">200</text>
<text x="518.0" y="480.1" font-family='"Liberation Serif", serif' font-size="9.2" font-weight="normal" text-anchor="start" fill="#000" stroke="#000" stroke-width="0.18">0</text>
<text x="528.2" y="493.0" font-family='"Liberation Serif", serif' font-size="9.2" font-weight="normal" text-anchor="start" fill="#000" textLength="15.0" lengthAdjust="spacingAndGlyphs" stroke="#000" stroke-width="0.18">-0.2</text>
<text x="561.0" y="493.0" font-family='"Liberation Serif", serif' font-size="9.2" font-weight="normal" text-anchor="start" fill="#000" textLength="15.0" lengthAdjust="spacingAndGlyphs" stroke="#000" stroke-width="0.18">-0.1</text>
<text x="606.3" y="492.4" font-family='"Liberation Serif", serif' font-size="9.2" font-weight="normal" text-anchor="start" fill="#000" stroke="#000" stroke-width="0.18">0</text>
<text x="640.6" y="493.8" font-family='"Liberation Serif", serif' font-size="9.2" font-weight="normal" text-anchor="start" fill="#000" textLength="11.3" lengthAdjust="spacingAndGlyphs" stroke="#000" stroke-width="0.18">0.1</text>
<text x="674.2" y="493.0" font-family='"Liberation Serif", serif' font-size="9.2" font-weight="normal" text-anchor="start" fill="#000" textLength="11.3" lengthAdjust="spacingAndGlyphs" stroke="#000" stroke-width="0.18">0.2</text>
<text x="585.5" y="505.3" font-family='"Liberation Serif", serif' font-size="12.4" font-weight="normal" text-anchor="start" fill="#000" textLength="55.5" lengthAdjust="spacingAndGlyphs" stroke="#000" stroke-width="0.3">Deviations</text>
<text transform="translate(510.1 407.1) rotate(-90)" x="0" y="0" font-family='"Liberation Serif", serif' font-size="12.8" text-anchor="middle" textLength="31.7" lengthAdjust="spacingAndGlyphs" stroke="#000" stroke-width="0.3">Count</text>
<text x="489.8" y="351.9" font-family='"Liberation Serif", serif' font-size="22.7" font-weight="bold" text-anchor="start" fill="#000">e</text>
</svg>
</body></html>
